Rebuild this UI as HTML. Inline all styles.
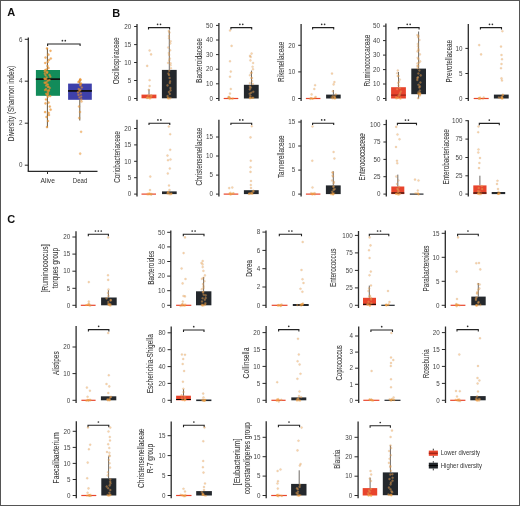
<!DOCTYPE html><html><head><meta charset="utf-8"><style>html,body{margin:0;padding:0;background:#fff}svg{display:block;will-change:transform}text{font-family:"Liberation Sans",sans-serif}</style></head><body>
<svg width="520" height="506" viewBox="0 0 520 506">
<rect x="0" y="0" width="520" height="506" fill="#fff"/>
<text x="7.3" y="16.3" font-size="11" text-anchor="start" fill="#111" font-weight="bold">A</text>
<text x="112.3" y="16.7" font-size="11" text-anchor="start" fill="#111" font-weight="bold">B</text>
<text x="7.3" y="222.6" font-size="11" text-anchor="start" fill="#111" font-weight="bold">C</text>
<line x1="28.3" y1="37.5" x2="28.3" y2="171.3" stroke="#2a2a2a" stroke-width="1.3"/>
<line x1="24.8" y1="39.3" x2="28.3" y2="39.3" stroke="#2a2a2a" stroke-width="1"/>
<text x="22.5" y="41.5" font-size="6.3" text-anchor="end" fill="#444" font-weight="normal" textLength="3.5" lengthAdjust="spacingAndGlyphs">6</text>
<line x1="24.8" y1="81.2" x2="28.3" y2="81.2" stroke="#2a2a2a" stroke-width="1"/>
<text x="22.5" y="83.4" font-size="6.3" text-anchor="end" fill="#444" font-weight="normal" textLength="3.5" lengthAdjust="spacingAndGlyphs">4</text>
<line x1="24.8" y1="123.2" x2="28.3" y2="123.2" stroke="#2a2a2a" stroke-width="1"/>
<text x="22.5" y="125.4" font-size="6.3" text-anchor="end" fill="#444" font-weight="normal" textLength="3.5" lengthAdjust="spacingAndGlyphs">2</text>
<line x1="24.8" y1="165.2" x2="28.3" y2="165.2" stroke="#2a2a2a" stroke-width="1"/>
<text x="22.5" y="167.39999999999998" font-size="6.3" text-anchor="end" fill="#444" font-weight="normal" textLength="3.5" lengthAdjust="spacingAndGlyphs">0</text>
<line x1="27.7" y1="171.3" x2="97.5" y2="171.3" stroke="#2a2a2a" stroke-width="1.2"/>
<line x1="47.5" y1="171.3" x2="47.5" y2="174" stroke="#2a2a2a" stroke-width="1"/>
<line x1="80" y1="171.3" x2="80" y2="174" stroke="#2a2a2a" stroke-width="1"/>
<text x="47.7" y="182.5" font-size="6.6" text-anchor="middle" fill="#333" font-weight="normal" textLength="14.5" lengthAdjust="spacingAndGlyphs">Alive</text>
<text x="80" y="182.5" font-size="6.6" text-anchor="middle" fill="#333" font-weight="normal" textLength="14.5" lengthAdjust="spacingAndGlyphs">Dead</text>
<text x="13.6" y="103.6" font-size="8.4" text-anchor="middle" fill="#3a3a3a" stroke="#3a3a3a" stroke-width="0.08" textLength="75.5" lengthAdjust="spacingAndGlyphs" transform="rotate(-90 13.6 103.6)">Diversity (Shannon index)</text>
<line x1="47.4" y1="48.1" x2="47.4" y2="70" stroke="#6a5a40" stroke-width="1"/>
<line x1="47.4" y1="95.8" x2="47.4" y2="127.4" stroke="#6a5a40" stroke-width="1"/>
<rect x="35.9" y="70" width="24.1" height="25.799999999999997" fill="#128b5a"/>
<line x1="35.9" y1="79.2" x2="60" y2="79.2" stroke="#000" stroke-width="1"/>
<line x1="79.8" y1="79" x2="79.8" y2="83.6" stroke="#6a5a40" stroke-width="1"/>
<line x1="79.8" y1="99.8" x2="79.8" y2="120.5" stroke="#6a5a40" stroke-width="1"/>
<rect x="68.1" y="83.6" width="23.700000000000003" height="16.200000000000003" fill="#3e40aa"/>
<line x1="68.1" y1="90.9" x2="91.8" y2="90.9" stroke="#000" stroke-width="1"/>
<line x1="35.9" y1="79.2" x2="60" y2="79.2" stroke="#111" stroke-width="1.5"/>
<line x1="68.1" y1="90.9" x2="91.8" y2="90.9" stroke="#111" stroke-width="1.5"/>
<path d="M47.6 46V44H80.1V46" fill="none" stroke="#222" stroke-width="1.1"/>
<circle cx="62.40" cy="40.70" r="0.85" fill="#333"/>
<circle cx="65.30" cy="40.70" r="0.85" fill="#333"/>
<rect x="0.5" y="0.5" width="519" height="505" fill="none" stroke="#555" stroke-width="1"/>
<line x1="137.0" y1="24.0" x2="137.0" y2="101.0" stroke="#2a2a2a" stroke-width="1.3"/>
<line x1="134.1" y1="26.5" x2="137.0" y2="26.5" stroke="#2a2a2a" stroke-width="1"/>
<text x="131.2" y="28.7" font-size="6.3" text-anchor="end" fill="#444" font-weight="normal" textLength="7.0" lengthAdjust="spacingAndGlyphs">20</text>
<line x1="134.1" y1="44.6" x2="137.0" y2="44.6" stroke="#2a2a2a" stroke-width="1"/>
<text x="131.2" y="46.800000000000004" font-size="6.3" text-anchor="end" fill="#444" font-weight="normal" textLength="7.0" lengthAdjust="spacingAndGlyphs">15</text>
<line x1="134.1" y1="62.5" x2="137.0" y2="62.5" stroke="#2a2a2a" stroke-width="1"/>
<text x="131.2" y="64.7" font-size="6.3" text-anchor="end" fill="#444" font-weight="normal" textLength="7.0" lengthAdjust="spacingAndGlyphs">10</text>
<line x1="134.1" y1="80.5" x2="137.0" y2="80.5" stroke="#2a2a2a" stroke-width="1"/>
<text x="131.2" y="82.7" font-size="6.3" text-anchor="end" fill="#444" font-weight="normal" textLength="3.5" lengthAdjust="spacingAndGlyphs">5</text>
<line x1="134.1" y1="98.5" x2="137.0" y2="98.5" stroke="#2a2a2a" stroke-width="1"/>
<text x="131.2" y="100.7" font-size="6.3" text-anchor="end" fill="#444" font-weight="normal" textLength="3.5" lengthAdjust="spacingAndGlyphs">0</text>
<text x="119.1" y="60.8" font-size="8.4" text-anchor="middle" fill="#3a3a3a" stroke="#3a3a3a" stroke-width="0.08" textLength="47.0" lengthAdjust="spacingAndGlyphs" transform="rotate(-90 119.1 60.8)">Oscillospiraceae</text>
<line x1="149" y1="89.4" x2="149" y2="94.6" stroke="#6e6a66" stroke-width="1"/>
<rect x="141.5" y="94.6" width="14.900000000000006" height="3.700000000000003" fill="#e8442c"/>
<line x1="169.3" y1="30.4" x2="169.3" y2="69.9" stroke="#6e6a66" stroke-width="1"/>
<rect x="161.9" y="69.9" width="14.799999999999983" height="28.39999999999999" fill="#24282d"/>
<path d="M148.5 29.5V27.6H169.6V29.5" fill="none" stroke="#222" stroke-width="1.1"/>
<circle cx="157.60" cy="24.30" r="0.85" fill="#333"/>
<circle cx="160.50" cy="24.30" r="0.85" fill="#333"/>
<line x1="218.9" y1="23.0" x2="218.9" y2="101.0" stroke="#2a2a2a" stroke-width="1.3"/>
<line x1="216.0" y1="25.4" x2="218.9" y2="25.4" stroke="#2a2a2a" stroke-width="1"/>
<text x="213.1" y="27.599999999999998" font-size="6.3" text-anchor="end" fill="#444" font-weight="normal" textLength="7.0" lengthAdjust="spacingAndGlyphs">50</text>
<line x1="216.0" y1="40.0" x2="218.9" y2="40.0" stroke="#2a2a2a" stroke-width="1"/>
<text x="213.1" y="42.2" font-size="6.3" text-anchor="end" fill="#444" font-weight="normal" textLength="7.0" lengthAdjust="spacingAndGlyphs">40</text>
<line x1="216.0" y1="54.6" x2="218.9" y2="54.6" stroke="#2a2a2a" stroke-width="1"/>
<text x="213.1" y="56.800000000000004" font-size="6.3" text-anchor="end" fill="#444" font-weight="normal" textLength="7.0" lengthAdjust="spacingAndGlyphs">30</text>
<line x1="216.0" y1="69.2" x2="218.9" y2="69.2" stroke="#2a2a2a" stroke-width="1"/>
<text x="213.1" y="71.4" font-size="6.3" text-anchor="end" fill="#444" font-weight="normal" textLength="7.0" lengthAdjust="spacingAndGlyphs">20</text>
<line x1="216.0" y1="83.8" x2="218.9" y2="83.8" stroke="#2a2a2a" stroke-width="1"/>
<text x="213.1" y="86.0" font-size="6.3" text-anchor="end" fill="#444" font-weight="normal" textLength="7.0" lengthAdjust="spacingAndGlyphs">10</text>
<line x1="216.0" y1="98.5" x2="218.9" y2="98.5" stroke="#2a2a2a" stroke-width="1"/>
<text x="213.1" y="100.7" font-size="6.3" text-anchor="end" fill="#444" font-weight="normal" textLength="3.5" lengthAdjust="spacingAndGlyphs">0</text>
<text x="201.6" y="60.6" font-size="8.4" text-anchor="middle" fill="#3a3a3a" stroke="#3a3a3a" stroke-width="0.08" textLength="44.6" lengthAdjust="spacingAndGlyphs" transform="rotate(-90 201.6 60.6)">Bacteroidaceae</text>
<line x1="223.7" y1="98.5" x2="238.3" y2="98.5" stroke="#e8442c" stroke-width="1.2"/>
<line x1="251.5" y1="70.6" x2="251.5" y2="84.8" stroke="#6e6a66" stroke-width="1"/>
<rect x="243.9" y="84.8" width="14.799999999999983" height="13.700000000000003" fill="#24282d"/>
<path d="M230.9 29.5V27.6H251.7V29.5" fill="none" stroke="#222" stroke-width="1.1"/>
<circle cx="239.85" cy="24.30" r="0.85" fill="#333"/>
<circle cx="242.75" cy="24.30" r="0.85" fill="#333"/>
<line x1="301.1" y1="24.0" x2="301.1" y2="101.0" stroke="#2a2a2a" stroke-width="1.3"/>
<line x1="298.20000000000005" y1="45.3" x2="301.1" y2="45.3" stroke="#2a2a2a" stroke-width="1"/>
<text x="295.3" y="47.5" font-size="6.3" text-anchor="end" fill="#444" font-weight="normal" textLength="7.0" lengthAdjust="spacingAndGlyphs">20</text>
<line x1="298.20000000000005" y1="71.9" x2="301.1" y2="71.9" stroke="#2a2a2a" stroke-width="1"/>
<text x="295.3" y="74.10000000000001" font-size="6.3" text-anchor="end" fill="#444" font-weight="normal" textLength="7.0" lengthAdjust="spacingAndGlyphs">10</text>
<line x1="298.20000000000005" y1="98.5" x2="301.1" y2="98.5" stroke="#2a2a2a" stroke-width="1"/>
<text x="295.3" y="100.7" font-size="6.3" text-anchor="end" fill="#444" font-weight="normal" textLength="3.5" lengthAdjust="spacingAndGlyphs">0</text>
<text x="283.6" y="61.75" font-size="8.4" text-anchor="middle" fill="#3a3a3a" stroke="#3a3a3a" stroke-width="0.08" textLength="40.3" lengthAdjust="spacingAndGlyphs" transform="rotate(-90 283.6 61.75)">Rikenellaceae</text>
<line x1="305.9" y1="98.5" x2="320.4" y2="98.5" stroke="#e8442c" stroke-width="1.2"/>
<line x1="333.4" y1="90" x2="333.4" y2="94.6" stroke="#6e6a66" stroke-width="1"/>
<rect x="326.1" y="94.6" width="14.599999999999966" height="3.9000000000000057" fill="#24282d"/>
<path d="M312.6 29.5V27.6H333.7V29.5" fill="none" stroke="#222" stroke-width="1.1"/>
<circle cx="321.70" cy="24.30" r="0.85" fill="#333"/>
<circle cx="324.60" cy="24.30" r="0.85" fill="#333"/>
<line x1="385.9" y1="23.5" x2="385.9" y2="101.0" stroke="#2a2a2a" stroke-width="1.3"/>
<line x1="383.0" y1="26.1" x2="385.9" y2="26.1" stroke="#2a2a2a" stroke-width="1"/>
<text x="380.09999999999997" y="28.3" font-size="6.3" text-anchor="end" fill="#444" font-weight="normal" textLength="7.0" lengthAdjust="spacingAndGlyphs">50</text>
<line x1="383.0" y1="40.6" x2="385.9" y2="40.6" stroke="#2a2a2a" stroke-width="1"/>
<text x="380.09999999999997" y="42.800000000000004" font-size="6.3" text-anchor="end" fill="#444" font-weight="normal" textLength="7.0" lengthAdjust="spacingAndGlyphs">40</text>
<line x1="383.0" y1="55.1" x2="385.9" y2="55.1" stroke="#2a2a2a" stroke-width="1"/>
<text x="380.09999999999997" y="57.300000000000004" font-size="6.3" text-anchor="end" fill="#444" font-weight="normal" textLength="7.0" lengthAdjust="spacingAndGlyphs">30</text>
<line x1="383.0" y1="69.6" x2="385.9" y2="69.6" stroke="#2a2a2a" stroke-width="1"/>
<text x="380.09999999999997" y="71.8" font-size="6.3" text-anchor="end" fill="#444" font-weight="normal" textLength="7.0" lengthAdjust="spacingAndGlyphs">20</text>
<line x1="383.0" y1="84.0" x2="385.9" y2="84.0" stroke="#2a2a2a" stroke-width="1"/>
<text x="380.09999999999997" y="86.2" font-size="6.3" text-anchor="end" fill="#444" font-weight="normal" textLength="7.0" lengthAdjust="spacingAndGlyphs">10</text>
<line x1="383.0" y1="98.5" x2="385.9" y2="98.5" stroke="#2a2a2a" stroke-width="1"/>
<text x="380.09999999999997" y="100.7" font-size="6.3" text-anchor="end" fill="#444" font-weight="normal" textLength="3.5" lengthAdjust="spacingAndGlyphs">0</text>
<text x="369.6" y="60.6" font-size="8.4" text-anchor="middle" fill="#3a3a3a" stroke="#3a3a3a" stroke-width="0.08" textLength="52.0" lengthAdjust="spacingAndGlyphs" transform="rotate(-90 369.6 60.6)">Ruminococcaceae</text>
<line x1="398.5" y1="72" x2="398.5" y2="87.2" stroke="#6e6a66" stroke-width="1"/>
<rect x="391.1" y="87.2" width="14.799999999999955" height="11.299999999999997" fill="#e8442c"/>
<line x1="391.1" y1="95.1" x2="405.9" y2="95.1" stroke="#8a1a10" stroke-width="1"/>
<line x1="418.6" y1="31.5" x2="418.6" y2="68.6" stroke="#6e6a66" stroke-width="1"/>
<line x1="418.6" y1="94.2" x2="418.6" y2="98.5" stroke="#6e6a66" stroke-width="1"/>
<rect x="411.3" y="68.6" width="14.699999999999989" height="25.60000000000001" fill="#24282d"/>
<path d="M398.3 29.5V27.6H419.1V29.5" fill="none" stroke="#222" stroke-width="1.1"/>
<circle cx="407.25" cy="24.30" r="0.85" fill="#333"/>
<circle cx="410.15" cy="24.30" r="0.85" fill="#333"/>
<line x1="468.3" y1="24.0" x2="468.3" y2="101.0" stroke="#2a2a2a" stroke-width="1.3"/>
<line x1="465.40000000000003" y1="48.4" x2="468.3" y2="48.4" stroke="#2a2a2a" stroke-width="1"/>
<text x="462.5" y="50.6" font-size="6.3" text-anchor="end" fill="#444" font-weight="normal" textLength="7.0" lengthAdjust="spacingAndGlyphs">10</text>
<line x1="465.40000000000003" y1="73.5" x2="468.3" y2="73.5" stroke="#2a2a2a" stroke-width="1"/>
<text x="462.5" y="75.7" font-size="6.3" text-anchor="end" fill="#444" font-weight="normal" textLength="3.5" lengthAdjust="spacingAndGlyphs">5</text>
<line x1="465.40000000000003" y1="98.5" x2="468.3" y2="98.5" stroke="#2a2a2a" stroke-width="1"/>
<text x="462.5" y="100.7" font-size="6.3" text-anchor="end" fill="#444" font-weight="normal" textLength="3.5" lengthAdjust="spacingAndGlyphs">0</text>
<text x="451.9" y="61.1" font-size="8.4" text-anchor="middle" fill="#3a3a3a" stroke="#3a3a3a" stroke-width="0.08" textLength="42.58" lengthAdjust="spacingAndGlyphs" transform="rotate(-90 451.9 61.1)">Prevotellaceae</text>
<line x1="473.7" y1="98.5" x2="488.7" y2="98.5" stroke="#e8442c" stroke-width="1.2"/>
<rect x="493.9" y="94.6" width="14.800000000000011" height="3.9000000000000057" fill="#24282d"/>
<path d="M480.4 29.5V27.6H501.5V29.5" fill="none" stroke="#222" stroke-width="1.1"/>
<circle cx="489.50" cy="24.30" r="0.85" fill="#333"/>
<circle cx="492.40" cy="24.30" r="0.85" fill="#333"/>
<line x1="137.0" y1="119.8" x2="137.0" y2="196.6" stroke="#2a2a2a" stroke-width="1.3"/>
<line x1="134.1" y1="128.5" x2="137.0" y2="128.5" stroke="#2a2a2a" stroke-width="1"/>
<text x="131.2" y="130.7" font-size="6.3" text-anchor="end" fill="#444" font-weight="normal" textLength="7.0" lengthAdjust="spacingAndGlyphs">20</text>
<line x1="134.1" y1="144.9" x2="137.0" y2="144.9" stroke="#2a2a2a" stroke-width="1"/>
<text x="131.2" y="147.1" font-size="6.3" text-anchor="end" fill="#444" font-weight="normal" textLength="7.0" lengthAdjust="spacingAndGlyphs">15</text>
<line x1="134.1" y1="161.3" x2="137.0" y2="161.3" stroke="#2a2a2a" stroke-width="1"/>
<text x="131.2" y="163.5" font-size="6.3" text-anchor="end" fill="#444" font-weight="normal" textLength="7.0" lengthAdjust="spacingAndGlyphs">10</text>
<line x1="134.1" y1="177.7" x2="137.0" y2="177.7" stroke="#2a2a2a" stroke-width="1"/>
<text x="131.2" y="179.89999999999998" font-size="6.3" text-anchor="end" fill="#444" font-weight="normal" textLength="3.5" lengthAdjust="spacingAndGlyphs">5</text>
<line x1="134.1" y1="194.1" x2="137.0" y2="194.1" stroke="#2a2a2a" stroke-width="1"/>
<text x="131.2" y="196.29999999999998" font-size="6.3" text-anchor="end" fill="#444" font-weight="normal" textLength="3.5" lengthAdjust="spacingAndGlyphs">0</text>
<text x="119.9" y="157.0" font-size="8.4" text-anchor="middle" fill="#3a3a3a" stroke="#3a3a3a" stroke-width="0.08" textLength="51.7" lengthAdjust="spacingAndGlyphs" transform="rotate(-90 119.9 157.0)">Coriobacteriaceae</text>
<line x1="141.5" y1="194.1" x2="156.0" y2="194.1" stroke="#e8442c" stroke-width="1.2"/>
<rect x="162.0" y="191.4" width="14.699999999999989" height="2.6999999999999886" fill="#24282d"/>
<path d="M149.0 125.10000000000001V123.2H169.8V125.10000000000001" fill="none" stroke="#222" stroke-width="1.1"/>
<circle cx="157.95" cy="119.90" r="0.85" fill="#333"/>
<circle cx="160.85" cy="119.90" r="0.85" fill="#333"/>
<line x1="218.9" y1="119.8" x2="218.9" y2="196.6" stroke="#2a2a2a" stroke-width="1.3"/>
<line x1="216.0" y1="137.0" x2="218.9" y2="137.0" stroke="#2a2a2a" stroke-width="1"/>
<text x="213.1" y="139.2" font-size="6.3" text-anchor="end" fill="#444" font-weight="normal" textLength="7.0" lengthAdjust="spacingAndGlyphs">15</text>
<line x1="216.0" y1="156.0" x2="218.9" y2="156.0" stroke="#2a2a2a" stroke-width="1"/>
<text x="213.1" y="158.2" font-size="6.3" text-anchor="end" fill="#444" font-weight="normal" textLength="7.0" lengthAdjust="spacingAndGlyphs">10</text>
<line x1="216.0" y1="175.1" x2="218.9" y2="175.1" stroke="#2a2a2a" stroke-width="1"/>
<text x="213.1" y="177.29999999999998" font-size="6.3" text-anchor="end" fill="#444" font-weight="normal" textLength="3.5" lengthAdjust="spacingAndGlyphs">5</text>
<line x1="216.0" y1="194.1" x2="218.9" y2="194.1" stroke="#2a2a2a" stroke-width="1"/>
<text x="213.1" y="196.29999999999998" font-size="6.3" text-anchor="end" fill="#444" font-weight="normal" textLength="3.5" lengthAdjust="spacingAndGlyphs">0</text>
<text x="202.5" y="156.6" font-size="8.4" text-anchor="middle" fill="#3a3a3a" stroke="#3a3a3a" stroke-width="0.08" textLength="57.9" lengthAdjust="spacingAndGlyphs" transform="rotate(-90 202.5 156.6)">Christensenellaceae</text>
<line x1="223.7" y1="194.1" x2="238.3" y2="194.1" stroke="#e8442c" stroke-width="1.2"/>
<rect x="243.9" y="190.2" width="14.799999999999983" height="3.9000000000000057" fill="#24282d"/>
<path d="M230.9 125.10000000000001V123.2H251.7V125.10000000000001" fill="none" stroke="#222" stroke-width="1.1"/>
<circle cx="239.85" cy="119.90" r="0.85" fill="#333"/>
<circle cx="242.75" cy="119.90" r="0.85" fill="#333"/>
<line x1="301.1" y1="119.8" x2="301.1" y2="196.6" stroke="#2a2a2a" stroke-width="1.3"/>
<line x1="298.20000000000005" y1="122.0" x2="301.1" y2="122.0" stroke="#2a2a2a" stroke-width="1"/>
<text x="295.3" y="124.2" font-size="6.3" text-anchor="end" fill="#444" font-weight="normal" textLength="7.0" lengthAdjust="spacingAndGlyphs">15</text>
<line x1="298.20000000000005" y1="146.0" x2="301.1" y2="146.0" stroke="#2a2a2a" stroke-width="1"/>
<text x="295.3" y="148.2" font-size="6.3" text-anchor="end" fill="#444" font-weight="normal" textLength="7.0" lengthAdjust="spacingAndGlyphs">10</text>
<line x1="298.20000000000005" y1="170.1" x2="301.1" y2="170.1" stroke="#2a2a2a" stroke-width="1"/>
<text x="295.3" y="172.29999999999998" font-size="6.3" text-anchor="end" fill="#444" font-weight="normal" textLength="3.5" lengthAdjust="spacingAndGlyphs">5</text>
<line x1="298.20000000000005" y1="194.1" x2="301.1" y2="194.1" stroke="#2a2a2a" stroke-width="1"/>
<text x="295.3" y="196.29999999999998" font-size="6.3" text-anchor="end" fill="#444" font-weight="normal" textLength="3.5" lengthAdjust="spacingAndGlyphs">0</text>
<text x="284.1" y="156.8" font-size="8.4" text-anchor="middle" fill="#3a3a3a" stroke="#3a3a3a" stroke-width="0.08" textLength="42.62" lengthAdjust="spacingAndGlyphs" transform="rotate(-90 284.1 156.8)">Tannerellaceae</text>
<line x1="305.9" y1="194.1" x2="320.4" y2="194.1" stroke="#e8442c" stroke-width="1.2"/>
<line x1="333.3" y1="171.3" x2="333.3" y2="185.4" stroke="#6e6a66" stroke-width="1"/>
<rect x="325.9" y="185.4" width="14.800000000000011" height="8.699999999999989" fill="#24282d"/>
<path d="M312.6 125.10000000000001V123.2H333.7V125.10000000000001" fill="none" stroke="#222" stroke-width="1.1"/>
<circle cx="321.70" cy="119.90" r="0.85" fill="#333"/>
<circle cx="324.60" cy="119.90" r="0.85" fill="#333"/>
<line x1="386.3" y1="119.8" x2="386.3" y2="196.6" stroke="#2a2a2a" stroke-width="1.3"/>
<line x1="383.40000000000003" y1="124.6" x2="386.3" y2="124.6" stroke="#2a2a2a" stroke-width="1"/>
<text x="380.5" y="126.8" font-size="6.3" text-anchor="end" fill="#444" font-weight="normal" textLength="10.5" lengthAdjust="spacingAndGlyphs">100</text>
<line x1="383.40000000000003" y1="142.0" x2="386.3" y2="142.0" stroke="#2a2a2a" stroke-width="1"/>
<text x="380.5" y="144.2" font-size="6.3" text-anchor="end" fill="#444" font-weight="normal" textLength="7.0" lengthAdjust="spacingAndGlyphs">75</text>
<line x1="383.40000000000003" y1="159.4" x2="386.3" y2="159.4" stroke="#2a2a2a" stroke-width="1"/>
<text x="380.5" y="161.6" font-size="6.3" text-anchor="end" fill="#444" font-weight="normal" textLength="7.0" lengthAdjust="spacingAndGlyphs">50</text>
<line x1="383.40000000000003" y1="176.7" x2="386.3" y2="176.7" stroke="#2a2a2a" stroke-width="1"/>
<text x="380.5" y="178.89999999999998" font-size="6.3" text-anchor="end" fill="#444" font-weight="normal" textLength="7.0" lengthAdjust="spacingAndGlyphs">25</text>
<line x1="383.40000000000003" y1="194.1" x2="386.3" y2="194.1" stroke="#2a2a2a" stroke-width="1"/>
<text x="380.5" y="196.29999999999998" font-size="6.3" text-anchor="end" fill="#444" font-weight="normal" textLength="3.5" lengthAdjust="spacingAndGlyphs">0</text>
<text x="364.6" y="156.95" font-size="8.4" text-anchor="middle" fill="#3a3a3a" stroke="#3a3a3a" stroke-width="0.08" textLength="47.3" lengthAdjust="spacingAndGlyphs" transform="rotate(-90 364.6 156.95)">Enterococcaceae</text>
<line x1="397.8" y1="174.6" x2="397.8" y2="186.5" stroke="#6e6a66" stroke-width="1"/>
<rect x="391.3" y="186.5" width="13.0" height="7.599999999999994" fill="#e8442c"/>
<line x1="391.3" y1="193.0" x2="404.3" y2="193.0" stroke="#000" stroke-width="1"/>
<line x1="409.8" y1="194.1" x2="423.5" y2="194.1" stroke="#24282d" stroke-width="1.2"/>
<path d="M397.4 125.30000000000001V123.4H416.5V125.30000000000001" fill="none" stroke="#222" stroke-width="1.1"/>
<circle cx="405.50" cy="120.10" r="0.85" fill="#333"/>
<circle cx="408.40" cy="120.10" r="0.85" fill="#333"/>
<line x1="468.3" y1="120.2" x2="468.3" y2="196.6" stroke="#2a2a2a" stroke-width="1.3"/>
<line x1="465.40000000000003" y1="120.7" x2="468.3" y2="120.7" stroke="#2a2a2a" stroke-width="1"/>
<text x="462.5" y="122.9" font-size="6.3" text-anchor="end" fill="#444" font-weight="normal" textLength="10.5" lengthAdjust="spacingAndGlyphs">100</text>
<line x1="465.40000000000003" y1="139.1" x2="468.3" y2="139.1" stroke="#2a2a2a" stroke-width="1"/>
<text x="462.5" y="141.29999999999998" font-size="6.3" text-anchor="end" fill="#444" font-weight="normal" textLength="7.0" lengthAdjust="spacingAndGlyphs">75</text>
<line x1="465.40000000000003" y1="157.5" x2="468.3" y2="157.5" stroke="#2a2a2a" stroke-width="1"/>
<text x="462.5" y="159.7" font-size="6.3" text-anchor="end" fill="#444" font-weight="normal" textLength="7.0" lengthAdjust="spacingAndGlyphs">50</text>
<line x1="465.40000000000003" y1="175.8" x2="468.3" y2="175.8" stroke="#2a2a2a" stroke-width="1"/>
<text x="462.5" y="178.0" font-size="6.3" text-anchor="end" fill="#444" font-weight="normal" textLength="7.0" lengthAdjust="spacingAndGlyphs">25</text>
<line x1="465.40000000000003" y1="194.1" x2="468.3" y2="194.1" stroke="#2a2a2a" stroke-width="1"/>
<text x="462.5" y="196.29999999999998" font-size="6.3" text-anchor="end" fill="#444" font-weight="normal" textLength="3.5" lengthAdjust="spacingAndGlyphs">0</text>
<text x="449.5" y="156.9" font-size="8.4" text-anchor="middle" fill="#3a3a3a" stroke="#3a3a3a" stroke-width="0.08" textLength="55.4" lengthAdjust="spacingAndGlyphs" transform="rotate(-90 449.5 156.9)">Enterobacteriaceae</text>
<line x1="479.9" y1="175.7" x2="479.9" y2="185.4" stroke="#6e6a66" stroke-width="1"/>
<rect x="473.3" y="185.4" width="13.199999999999989" height="8.699999999999989" fill="#e8442c"/>
<line x1="473.3" y1="193.0" x2="486.5" y2="193.0" stroke="#000" stroke-width="1"/>
<rect x="491.7" y="192.0" width="13.5" height="2.0999999999999943" fill="#24282d"/>
<path d="M479.3 125.30000000000001V123.4H499.3V125.30000000000001" fill="none" stroke="#222" stroke-width="1.1"/>
<circle cx="489.30" cy="120.10" r="0.85" fill="#333"/>
<line x1="76.0" y1="231.3" x2="76.0" y2="308.0" stroke="#2a2a2a" stroke-width="1.3"/>
<line x1="72.4" y1="237.0" x2="76.0" y2="237.0" stroke="#2a2a2a" stroke-width="1"/>
<text x="70.2" y="239.2" font-size="6.3" text-anchor="end" fill="#444" font-weight="normal" textLength="7.0" lengthAdjust="spacingAndGlyphs">20</text>
<line x1="72.4" y1="254.1" x2="76.0" y2="254.1" stroke="#2a2a2a" stroke-width="1"/>
<text x="70.2" y="256.3" font-size="6.3" text-anchor="end" fill="#444" font-weight="normal" textLength="7.0" lengthAdjust="spacingAndGlyphs">15</text>
<line x1="72.4" y1="271.2" x2="76.0" y2="271.2" stroke="#2a2a2a" stroke-width="1"/>
<text x="70.2" y="273.4" font-size="6.3" text-anchor="end" fill="#444" font-weight="normal" textLength="7.0" lengthAdjust="spacingAndGlyphs">10</text>
<line x1="72.4" y1="288.3" x2="76.0" y2="288.3" stroke="#2a2a2a" stroke-width="1"/>
<text x="70.2" y="290.5" font-size="6.3" text-anchor="end" fill="#444" font-weight="normal" textLength="3.5" lengthAdjust="spacingAndGlyphs">5</text>
<line x1="72.4" y1="305.3" x2="76.0" y2="305.3" stroke="#2a2a2a" stroke-width="1"/>
<text x="70.2" y="307.5" font-size="6.3" text-anchor="end" fill="#444" font-weight="normal" textLength="3.5" lengthAdjust="spacingAndGlyphs">0</text>
<text x="48.4" y="268.5" font-size="8.4" text-anchor="middle" fill="#3a3a3a" stroke="#3a3a3a" stroke-width="0.08" textLength="48.01" lengthAdjust="spacingAndGlyphs" transform="rotate(-90 48.4 268.5)">[Ruminococcus]</text>
<text x="57.9" y="268.05" font-size="8.4" text-anchor="middle" fill="#3a3a3a" stroke="#3a3a3a" stroke-width="0.08" textLength="40.41" lengthAdjust="spacingAndGlyphs" transform="rotate(-90 57.9 268.05)">torques group</text>
<line x1="80.8" y1="305.3" x2="95.6" y2="305.3" stroke="#e8442c" stroke-width="1.2"/>
<line x1="108.4" y1="290.2" x2="108.4" y2="297.5" stroke="#6e6a66" stroke-width="1"/>
<rect x="101.1" y="297.5" width="15.600000000000009" height="7.800000000000011" fill="#24282d"/>
<path d="M88.3 236.20000000000002V234.3H108.4V236.20000000000002" fill="none" stroke="#222" stroke-width="1.1"/>
<circle cx="95.45" cy="231.00" r="0.85" fill="#333"/>
<circle cx="98.35" cy="231.00" r="0.85" fill="#333"/>
<circle cx="101.25" cy="231.00" r="0.85" fill="#333"/>
<line x1="170.8" y1="230.6" x2="170.8" y2="308.0" stroke="#2a2a2a" stroke-width="1.3"/>
<line x1="167.20000000000002" y1="232.3" x2="170.8" y2="232.3" stroke="#2a2a2a" stroke-width="1"/>
<text x="165.0" y="234.5" font-size="6.3" text-anchor="end" fill="#444" font-weight="normal" textLength="7.0" lengthAdjust="spacingAndGlyphs">50</text>
<line x1="167.20000000000002" y1="246.9" x2="170.8" y2="246.9" stroke="#2a2a2a" stroke-width="1"/>
<text x="165.0" y="249.1" font-size="6.3" text-anchor="end" fill="#444" font-weight="normal" textLength="7.0" lengthAdjust="spacingAndGlyphs">40</text>
<line x1="167.20000000000002" y1="261.5" x2="170.8" y2="261.5" stroke="#2a2a2a" stroke-width="1"/>
<text x="165.0" y="263.7" font-size="6.3" text-anchor="end" fill="#444" font-weight="normal" textLength="7.0" lengthAdjust="spacingAndGlyphs">30</text>
<line x1="167.20000000000002" y1="276.1" x2="170.8" y2="276.1" stroke="#2a2a2a" stroke-width="1"/>
<text x="165.0" y="278.3" font-size="6.3" text-anchor="end" fill="#444" font-weight="normal" textLength="7.0" lengthAdjust="spacingAndGlyphs">20</text>
<line x1="167.20000000000002" y1="290.7" x2="170.8" y2="290.7" stroke="#2a2a2a" stroke-width="1"/>
<text x="165.0" y="292.9" font-size="6.3" text-anchor="end" fill="#444" font-weight="normal" textLength="7.0" lengthAdjust="spacingAndGlyphs">10</text>
<line x1="167.20000000000002" y1="305.3" x2="170.8" y2="305.3" stroke="#2a2a2a" stroke-width="1"/>
<text x="165.0" y="307.5" font-size="6.3" text-anchor="end" fill="#444" font-weight="normal" textLength="3.5" lengthAdjust="spacingAndGlyphs">0</text>
<text x="153.9" y="267.8" font-size="8.4" text-anchor="middle" fill="#3a3a3a" stroke="#3a3a3a" stroke-width="0.08" textLength="34.01" lengthAdjust="spacingAndGlyphs" transform="rotate(-90 153.9 267.8)">Bacteroides</text>
<line x1="176.1" y1="305.3" x2="191.3" y2="305.3" stroke="#e8442c" stroke-width="1.2"/>
<line x1="203.6" y1="277.1" x2="203.6" y2="291.3" stroke="#6e6a66" stroke-width="1"/>
<rect x="196.0" y="291.3" width="15.400000000000006" height="14.0" fill="#24282d"/>
<path d="M183.3 236.20000000000002V234.3H204.0V236.20000000000002" fill="none" stroke="#222" stroke-width="1.1"/>
<circle cx="192.20" cy="231.00" r="0.85" fill="#333"/>
<circle cx="195.10" cy="231.00" r="0.85" fill="#333"/>
<line x1="266.0" y1="230.6" x2="266.0" y2="308.0" stroke="#2a2a2a" stroke-width="1.3"/>
<line x1="262.4" y1="232.1" x2="266.0" y2="232.1" stroke="#2a2a2a" stroke-width="1"/>
<text x="260.2" y="234.29999999999998" font-size="6.3" text-anchor="end" fill="#444" font-weight="normal" textLength="3.5" lengthAdjust="spacingAndGlyphs">8</text>
<line x1="262.4" y1="250.4" x2="266.0" y2="250.4" stroke="#2a2a2a" stroke-width="1"/>
<text x="260.2" y="252.6" font-size="6.3" text-anchor="end" fill="#444" font-weight="normal" textLength="3.5" lengthAdjust="spacingAndGlyphs">6</text>
<line x1="262.4" y1="268.7" x2="266.0" y2="268.7" stroke="#2a2a2a" stroke-width="1"/>
<text x="260.2" y="270.9" font-size="6.3" text-anchor="end" fill="#444" font-weight="normal" textLength="3.5" lengthAdjust="spacingAndGlyphs">4</text>
<line x1="262.4" y1="287.0" x2="266.0" y2="287.0" stroke="#2a2a2a" stroke-width="1"/>
<text x="260.2" y="289.2" font-size="6.3" text-anchor="end" fill="#444" font-weight="normal" textLength="3.5" lengthAdjust="spacingAndGlyphs">2</text>
<line x1="262.4" y1="305.3" x2="266.0" y2="305.3" stroke="#2a2a2a" stroke-width="1"/>
<text x="260.2" y="307.5" font-size="6.3" text-anchor="end" fill="#444" font-weight="normal" textLength="3.5" lengthAdjust="spacingAndGlyphs">0</text>
<text x="252.2" y="268.45" font-size="8.4" text-anchor="middle" fill="#3a3a3a" stroke="#3a3a3a" stroke-width="0.08" textLength="16.7" lengthAdjust="spacingAndGlyphs" transform="rotate(-90 252.2 268.45)">Dorea</text>
<line x1="271.7" y1="305.3" x2="287.5" y2="305.3" stroke="#e8442c" stroke-width="1.2"/>
<line x1="292.8" y1="305.0" x2="308.7" y2="305.0" stroke="#24282d" stroke-width="2.0"/>
<path d="M279.3 236.20000000000002V234.3H301.5V236.20000000000002" fill="none" stroke="#222" stroke-width="1.1"/>
<circle cx="288.95" cy="231.00" r="0.85" fill="#333"/>
<circle cx="291.85" cy="231.00" r="0.85" fill="#333"/>
<line x1="358.5" y1="231.0" x2="358.5" y2="308.0" stroke="#2a2a2a" stroke-width="1.3"/>
<line x1="354.9" y1="235.4" x2="358.5" y2="235.4" stroke="#2a2a2a" stroke-width="1"/>
<text x="352.7" y="237.6" font-size="6.3" text-anchor="end" fill="#444" font-weight="normal" textLength="10.5" lengthAdjust="spacingAndGlyphs">100</text>
<line x1="354.9" y1="252.9" x2="358.5" y2="252.9" stroke="#2a2a2a" stroke-width="1"/>
<text x="352.7" y="255.1" font-size="6.3" text-anchor="end" fill="#444" font-weight="normal" textLength="7.0" lengthAdjust="spacingAndGlyphs">75</text>
<line x1="354.9" y1="270.4" x2="358.5" y2="270.4" stroke="#2a2a2a" stroke-width="1"/>
<text x="352.7" y="272.59999999999997" font-size="6.3" text-anchor="end" fill="#444" font-weight="normal" textLength="7.0" lengthAdjust="spacingAndGlyphs">50</text>
<line x1="354.9" y1="287.9" x2="358.5" y2="287.9" stroke="#2a2a2a" stroke-width="1"/>
<text x="352.7" y="290.09999999999997" font-size="6.3" text-anchor="end" fill="#444" font-weight="normal" textLength="7.0" lengthAdjust="spacingAndGlyphs">25</text>
<line x1="354.9" y1="305.3" x2="358.5" y2="305.3" stroke="#2a2a2a" stroke-width="1"/>
<text x="352.7" y="307.5" font-size="6.3" text-anchor="end" fill="#444" font-weight="normal" textLength="3.5" lengthAdjust="spacingAndGlyphs">0</text>
<text x="336.4" y="267.8" font-size="8.4" text-anchor="middle" fill="#3a3a3a" stroke="#3a3a3a" stroke-width="0.08" textLength="38.44" lengthAdjust="spacingAndGlyphs" transform="rotate(-90 336.4 267.8)">Enterococcus</text>
<line x1="369.3" y1="285.6" x2="369.3" y2="297.8" stroke="#6e6a66" stroke-width="1"/>
<rect x="363.0" y="297.8" width="13.0" height="7.5" fill="#e8442c"/>
<line x1="363.0" y1="304.3" x2="376.0" y2="304.3" stroke="#000" stroke-width="1"/>
<line x1="381.3" y1="305.3" x2="394.7" y2="305.3" stroke="#24282d" stroke-width="1.2"/>
<path d="M369.3 236.20000000000002V234.3H388.8V236.20000000000002" fill="none" stroke="#222" stroke-width="1.1"/>
<circle cx="377.60" cy="231.00" r="0.85" fill="#333"/>
<circle cx="380.50" cy="231.00" r="0.85" fill="#333"/>
<line x1="445.3" y1="230.6" x2="445.3" y2="308.0" stroke="#2a2a2a" stroke-width="1.3"/>
<line x1="441.7" y1="233.3" x2="445.3" y2="233.3" stroke="#2a2a2a" stroke-width="1"/>
<text x="439.5" y="235.5" font-size="6.3" text-anchor="end" fill="#444" font-weight="normal" textLength="7.0" lengthAdjust="spacingAndGlyphs">15</text>
<line x1="441.7" y1="257.3" x2="445.3" y2="257.3" stroke="#2a2a2a" stroke-width="1"/>
<text x="439.5" y="259.5" font-size="6.3" text-anchor="end" fill="#444" font-weight="normal" textLength="7.0" lengthAdjust="spacingAndGlyphs">10</text>
<line x1="441.7" y1="281.3" x2="445.3" y2="281.3" stroke="#2a2a2a" stroke-width="1"/>
<text x="439.5" y="283.5" font-size="6.3" text-anchor="end" fill="#444" font-weight="normal" textLength="3.5" lengthAdjust="spacingAndGlyphs">5</text>
<line x1="441.7" y1="305.3" x2="445.3" y2="305.3" stroke="#2a2a2a" stroke-width="1"/>
<text x="439.5" y="307.5" font-size="6.3" text-anchor="end" fill="#444" font-weight="normal" textLength="3.5" lengthAdjust="spacingAndGlyphs">0</text>
<text x="429.0" y="268.5" font-size="8.4" text-anchor="middle" fill="#3a3a3a" stroke="#3a3a3a" stroke-width="0.08" textLength="45.9" lengthAdjust="spacingAndGlyphs" transform="rotate(-90 429.0 268.5)">Parabacteroides</text>
<line x1="450.6" y1="305.3" x2="465.4" y2="305.3" stroke="#e8442c" stroke-width="1.2"/>
<line x1="478.3" y1="283.0" x2="478.3" y2="296.6" stroke="#6e6a66" stroke-width="1"/>
<rect x="471.3" y="296.6" width="14.399999999999977" height="8.699999999999989" fill="#24282d"/>
<path d="M457.6 236.20000000000002V234.3H478.3V236.20000000000002" fill="none" stroke="#222" stroke-width="1.1"/>
<circle cx="467.95" cy="231.00" r="0.85" fill="#333"/>
<line x1="76.1" y1="325.9" x2="76.1" y2="403.0" stroke="#2a2a2a" stroke-width="1.3"/>
<line x1="72.5" y1="347.0" x2="76.1" y2="347.0" stroke="#2a2a2a" stroke-width="1"/>
<text x="70.3" y="349.2" font-size="6.3" text-anchor="end" fill="#444" font-weight="normal" textLength="7.0" lengthAdjust="spacingAndGlyphs">20</text>
<line x1="72.5" y1="373.6" x2="76.1" y2="373.6" stroke="#2a2a2a" stroke-width="1"/>
<text x="70.3" y="375.8" font-size="6.3" text-anchor="end" fill="#444" font-weight="normal" textLength="7.0" lengthAdjust="spacingAndGlyphs">10</text>
<line x1="72.5" y1="400.3" x2="76.1" y2="400.3" stroke="#2a2a2a" stroke-width="1"/>
<text x="70.3" y="402.5" font-size="6.3" text-anchor="end" fill="#444" font-weight="normal" textLength="3.5" lengthAdjust="spacingAndGlyphs">0</text>
<text x="58.8" y="363.25" font-size="8.4" text-anchor="middle" fill="#3a3a3a" stroke="#3a3a3a" stroke-width="0.08" textLength="23.62" lengthAdjust="spacingAndGlyphs" transform="rotate(-90 58.8 363.25)">Alistipes</text>
<line x1="81.4" y1="400.3" x2="95.6" y2="400.3" stroke="#e8442c" stroke-width="1.2"/>
<rect x="100.9" y="396.3" width="15.399999999999991" height="4.0" fill="#24282d"/>
<path d="M88.4 331.5V329.6H108.9V331.5" fill="none" stroke="#222" stroke-width="1.1"/>
<circle cx="98.65" cy="326.30" r="0.85" fill="#333"/>
<line x1="171.2" y1="326.5" x2="171.2" y2="403.0" stroke="#2a2a2a" stroke-width="1.3"/>
<line x1="167.6" y1="332.8" x2="171.2" y2="332.8" stroke="#2a2a2a" stroke-width="1"/>
<text x="165.39999999999998" y="335.0" font-size="6.3" text-anchor="end" fill="#444" font-weight="normal" textLength="7.0" lengthAdjust="spacingAndGlyphs">80</text>
<line x1="167.6" y1="349.7" x2="171.2" y2="349.7" stroke="#2a2a2a" stroke-width="1"/>
<text x="165.39999999999998" y="351.9" font-size="6.3" text-anchor="end" fill="#444" font-weight="normal" textLength="7.0" lengthAdjust="spacingAndGlyphs">60</text>
<line x1="167.6" y1="366.6" x2="171.2" y2="366.6" stroke="#2a2a2a" stroke-width="1"/>
<text x="165.39999999999998" y="368.8" font-size="6.3" text-anchor="end" fill="#444" font-weight="normal" textLength="7.0" lengthAdjust="spacingAndGlyphs">40</text>
<line x1="167.6" y1="383.4" x2="171.2" y2="383.4" stroke="#2a2a2a" stroke-width="1"/>
<text x="165.39999999999998" y="385.59999999999997" font-size="6.3" text-anchor="end" fill="#444" font-weight="normal" textLength="7.0" lengthAdjust="spacingAndGlyphs">20</text>
<line x1="167.6" y1="400.3" x2="171.2" y2="400.3" stroke="#2a2a2a" stroke-width="1"/>
<text x="165.39999999999998" y="402.5" font-size="6.3" text-anchor="end" fill="#444" font-weight="normal" textLength="3.5" lengthAdjust="spacingAndGlyphs">0</text>
<text x="153.4" y="363.75" font-size="8.4" text-anchor="middle" fill="#3a3a3a" stroke="#3a3a3a" stroke-width="0.08" textLength="59.2" lengthAdjust="spacingAndGlyphs" transform="rotate(-90 153.4 363.75)">Escherichia-Shigella</text>
<line x1="183.5" y1="389.3" x2="183.5" y2="395.7" stroke="#6e6a66" stroke-width="1"/>
<rect x="176.1" y="395.7" width="14.800000000000011" height="4.600000000000023" fill="#e8442c"/>
<line x1="176.1" y1="399.5" x2="190.9" y2="399.5" stroke="#000" stroke-width="1"/>
<line x1="196.2" y1="400.3" x2="211.4" y2="400.3" stroke="#24282d" stroke-width="1.6"/>
<path d="M183.5 331.9V330.0H204.0V331.9" fill="none" stroke="#222" stroke-width="1.1"/>
<circle cx="193.75" cy="326.70" r="0.85" fill="#333"/>
<line x1="266.1" y1="325.9" x2="266.1" y2="403.0" stroke="#2a2a2a" stroke-width="1.3"/>
<line x1="262.5" y1="332.6" x2="266.1" y2="332.6" stroke="#2a2a2a" stroke-width="1"/>
<text x="260.3" y="334.8" font-size="6.3" text-anchor="end" fill="#444" font-weight="normal" textLength="7.0" lengthAdjust="spacingAndGlyphs">20</text>
<line x1="262.5" y1="349.5" x2="266.1" y2="349.5" stroke="#2a2a2a" stroke-width="1"/>
<text x="260.3" y="351.7" font-size="6.3" text-anchor="end" fill="#444" font-weight="normal" textLength="7.0" lengthAdjust="spacingAndGlyphs">15</text>
<line x1="262.5" y1="366.4" x2="266.1" y2="366.4" stroke="#2a2a2a" stroke-width="1"/>
<text x="260.3" y="368.59999999999997" font-size="6.3" text-anchor="end" fill="#444" font-weight="normal" textLength="7.0" lengthAdjust="spacingAndGlyphs">10</text>
<line x1="262.5" y1="383.4" x2="266.1" y2="383.4" stroke="#2a2a2a" stroke-width="1"/>
<text x="260.3" y="385.59999999999997" font-size="6.3" text-anchor="end" fill="#444" font-weight="normal" textLength="3.5" lengthAdjust="spacingAndGlyphs">5</text>
<line x1="262.5" y1="400.3" x2="266.1" y2="400.3" stroke="#2a2a2a" stroke-width="1"/>
<text x="260.3" y="402.5" font-size="6.3" text-anchor="end" fill="#444" font-weight="normal" textLength="3.5" lengthAdjust="spacingAndGlyphs">0</text>
<text x="249.2" y="363.05" font-size="8.4" text-anchor="middle" fill="#3a3a3a" stroke="#3a3a3a" stroke-width="0.08" textLength="30.9" lengthAdjust="spacingAndGlyphs" transform="rotate(-90 249.2 363.05)">Collinsella</text>
<line x1="271.4" y1="400.3" x2="285.6" y2="400.3" stroke="#e8442c" stroke-width="1.2"/>
<rect x="291.3" y="397.4" width="15.0" height="2.900000000000034" fill="#24282d"/>
<path d="M278.6 331.5V329.6H298.9V331.5" fill="none" stroke="#222" stroke-width="1.1"/>
<circle cx="288.75" cy="326.30" r="0.85" fill="#333"/>
<line x1="358.7" y1="326.5" x2="358.7" y2="403.0" stroke="#2a2a2a" stroke-width="1.3"/>
<line x1="355.09999999999997" y1="336.0" x2="358.7" y2="336.0" stroke="#2a2a2a" stroke-width="1"/>
<text x="352.9" y="338.2" font-size="6.3" text-anchor="end" fill="#444" font-weight="normal" textLength="3.5" lengthAdjust="spacingAndGlyphs">4</text>
<line x1="355.09999999999997" y1="352.1" x2="358.7" y2="352.1" stroke="#2a2a2a" stroke-width="1"/>
<text x="352.9" y="354.3" font-size="6.3" text-anchor="end" fill="#444" font-weight="normal" textLength="3.5" lengthAdjust="spacingAndGlyphs">3</text>
<line x1="355.09999999999997" y1="368.2" x2="358.7" y2="368.2" stroke="#2a2a2a" stroke-width="1"/>
<text x="352.9" y="370.4" font-size="6.3" text-anchor="end" fill="#444" font-weight="normal" textLength="3.5" lengthAdjust="spacingAndGlyphs">2</text>
<line x1="355.09999999999997" y1="384.3" x2="358.7" y2="384.3" stroke="#2a2a2a" stroke-width="1"/>
<text x="352.9" y="386.5" font-size="6.3" text-anchor="end" fill="#444" font-weight="normal" textLength="3.5" lengthAdjust="spacingAndGlyphs">1</text>
<line x1="355.09999999999997" y1="400.3" x2="358.7" y2="400.3" stroke="#2a2a2a" stroke-width="1"/>
<text x="352.9" y="402.5" font-size="6.3" text-anchor="end" fill="#444" font-weight="normal" textLength="3.5" lengthAdjust="spacingAndGlyphs">0</text>
<text x="342.5" y="362.85" font-size="8.4" text-anchor="middle" fill="#3a3a3a" stroke="#3a3a3a" stroke-width="0.08" textLength="35.3" lengthAdjust="spacingAndGlyphs" transform="rotate(-90 342.5 362.85)">Coprococcus</text>
<line x1="363.3" y1="400.3" x2="379.4" y2="400.3" stroke="#e8442c" stroke-width="1.2"/>
<line x1="384.5" y1="400.3" x2="400.5" y2="400.3" stroke="#24282d" stroke-width="1.2"/>
<path d="M370.9 331.9V330.0H392.5V331.9" fill="none" stroke="#222" stroke-width="1.1"/>
<circle cx="381.70" cy="326.70" r="0.85" fill="#333"/>
<line x1="445.5" y1="326.5" x2="445.5" y2="403.0" stroke="#2a2a2a" stroke-width="1.3"/>
<line x1="441.9" y1="332.6" x2="445.5" y2="332.6" stroke="#2a2a2a" stroke-width="1"/>
<text x="439.7" y="334.8" font-size="6.3" text-anchor="end" fill="#444" font-weight="normal" textLength="7.0" lengthAdjust="spacingAndGlyphs">20</text>
<line x1="441.9" y1="349.5" x2="445.5" y2="349.5" stroke="#2a2a2a" stroke-width="1"/>
<text x="439.7" y="351.7" font-size="6.3" text-anchor="end" fill="#444" font-weight="normal" textLength="7.0" lengthAdjust="spacingAndGlyphs">15</text>
<line x1="441.9" y1="366.4" x2="445.5" y2="366.4" stroke="#2a2a2a" stroke-width="1"/>
<text x="439.7" y="368.59999999999997" font-size="6.3" text-anchor="end" fill="#444" font-weight="normal" textLength="7.0" lengthAdjust="spacingAndGlyphs">10</text>
<line x1="441.9" y1="383.4" x2="445.5" y2="383.4" stroke="#2a2a2a" stroke-width="1"/>
<text x="439.7" y="385.59999999999997" font-size="6.3" text-anchor="end" fill="#444" font-weight="normal" textLength="3.5" lengthAdjust="spacingAndGlyphs">5</text>
<line x1="441.9" y1="400.3" x2="445.5" y2="400.3" stroke="#2a2a2a" stroke-width="1"/>
<text x="439.7" y="402.5" font-size="6.3" text-anchor="end" fill="#444" font-weight="normal" textLength="3.5" lengthAdjust="spacingAndGlyphs">0</text>
<text x="428.6" y="363.75" font-size="8.4" text-anchor="middle" fill="#3a3a3a" stroke="#3a3a3a" stroke-width="0.08" textLength="28.91" lengthAdjust="spacingAndGlyphs" transform="rotate(-90 428.6 363.75)">Roseburia</text>
<line x1="450.2" y1="400.3" x2="465.4" y2="400.3" stroke="#e8442c" stroke-width="1.2"/>
<rect x="470.3" y="396.1" width="15.399999999999977" height="4.199999999999989" fill="#24282d"/>
<path d="M457.0 331.5V329.6H478.3V331.5" fill="none" stroke="#222" stroke-width="1.1"/>
<circle cx="467.65" cy="326.30" r="0.85" fill="#333"/>
<line x1="76.3" y1="421.3" x2="76.3" y2="498.3" stroke="#2a2a2a" stroke-width="1.3"/>
<line x1="72.7" y1="431.3" x2="76.3" y2="431.3" stroke="#2a2a2a" stroke-width="1"/>
<text x="70.5" y="433.5" font-size="6.3" text-anchor="end" fill="#444" font-weight="normal" textLength="7.0" lengthAdjust="spacingAndGlyphs">20</text>
<line x1="72.7" y1="447.4" x2="76.3" y2="447.4" stroke="#2a2a2a" stroke-width="1"/>
<text x="70.5" y="449.59999999999997" font-size="6.3" text-anchor="end" fill="#444" font-weight="normal" textLength="7.0" lengthAdjust="spacingAndGlyphs">15</text>
<line x1="72.7" y1="463.4" x2="76.3" y2="463.4" stroke="#2a2a2a" stroke-width="1"/>
<text x="70.5" y="465.59999999999997" font-size="6.3" text-anchor="end" fill="#444" font-weight="normal" textLength="7.0" lengthAdjust="spacingAndGlyphs">10</text>
<line x1="72.7" y1="479.5" x2="76.3" y2="479.5" stroke="#2a2a2a" stroke-width="1"/>
<text x="70.5" y="481.7" font-size="6.3" text-anchor="end" fill="#444" font-weight="normal" textLength="3.5" lengthAdjust="spacingAndGlyphs">5</text>
<line x1="72.7" y1="495.5" x2="76.3" y2="495.5" stroke="#2a2a2a" stroke-width="1"/>
<text x="70.5" y="497.7" font-size="6.3" text-anchor="end" fill="#444" font-weight="normal" textLength="3.5" lengthAdjust="spacingAndGlyphs">0</text>
<text x="59.5" y="457.95" font-size="8.4" text-anchor="middle" fill="#3a3a3a" stroke="#3a3a3a" stroke-width="0.08" textLength="50.92" lengthAdjust="spacingAndGlyphs" transform="rotate(-90 59.5 457.95)">Faecalibacterium</text>
<line x1="81.3" y1="495.5" x2="96.3" y2="495.5" stroke="#e8442c" stroke-width="1.2"/>
<line x1="108.6" y1="456.3" x2="108.6" y2="478.3" stroke="#6e6a66" stroke-width="1"/>
<rect x="101.3" y="478.3" width="15.0" height="17.19999999999999" fill="#24282d"/>
<path d="M88.0 427.2V425.3H108.8V427.2" fill="none" stroke="#222" stroke-width="1.1"/>
<circle cx="98.40" cy="422.00" r="0.85" fill="#333"/>
<line x1="171.2" y1="421.6" x2="171.2" y2="498.3" stroke="#2a2a2a" stroke-width="1.3"/>
<line x1="167.6" y1="435.7" x2="171.2" y2="435.7" stroke="#2a2a2a" stroke-width="1"/>
<text x="165.39999999999998" y="437.9" font-size="6.3" text-anchor="end" fill="#444" font-weight="normal" textLength="7.0" lengthAdjust="spacingAndGlyphs">15</text>
<line x1="167.6" y1="455.6" x2="171.2" y2="455.6" stroke="#2a2a2a" stroke-width="1"/>
<text x="165.39999999999998" y="457.8" font-size="6.3" text-anchor="end" fill="#444" font-weight="normal" textLength="7.0" lengthAdjust="spacingAndGlyphs">10</text>
<line x1="167.6" y1="475.5" x2="171.2" y2="475.5" stroke="#2a2a2a" stroke-width="1"/>
<text x="165.39999999999998" y="477.7" font-size="6.3" text-anchor="end" fill="#444" font-weight="normal" textLength="3.5" lengthAdjust="spacingAndGlyphs">5</text>
<line x1="167.6" y1="495.5" x2="171.2" y2="495.5" stroke="#2a2a2a" stroke-width="1"/>
<text x="165.39999999999998" y="497.7" font-size="6.3" text-anchor="end" fill="#444" font-weight="normal" textLength="3.5" lengthAdjust="spacingAndGlyphs">0</text>
<text x="144.0" y="458.2" font-size="8.4" text-anchor="middle" fill="#3a3a3a" stroke="#3a3a3a" stroke-width="0.08" textLength="59.4" lengthAdjust="spacingAndGlyphs" transform="rotate(-90 144.0 458.2)">Christensenellaceae</text>
<text x="153.0" y="458.55" font-size="8.4" text-anchor="middle" fill="#3a3a3a" stroke="#3a3a3a" stroke-width="0.08" textLength="29.6" lengthAdjust="spacingAndGlyphs" transform="rotate(-90 153.0 458.55)">R-7 group</text>
<line x1="176.1" y1="495.5" x2="191.5" y2="495.5" stroke="#e8442c" stroke-width="1.2"/>
<rect x="196.2" y="491.1" width="15.700000000000017" height="4.399999999999977" fill="#24282d"/>
<path d="M183.5 427.2V425.3H204.2V427.2" fill="none" stroke="#222" stroke-width="1.1"/>
<circle cx="193.85" cy="422.00" r="0.85" fill="#333"/>
<line x1="266.2" y1="421.2" x2="266.2" y2="498.3" stroke="#2a2a2a" stroke-width="1.3"/>
<line x1="262.59999999999997" y1="437.3" x2="266.2" y2="437.3" stroke="#2a2a2a" stroke-width="1"/>
<text x="260.4" y="439.5" font-size="6.3" text-anchor="end" fill="#444" font-weight="normal" textLength="7.0" lengthAdjust="spacingAndGlyphs">15</text>
<line x1="262.59999999999997" y1="456.7" x2="266.2" y2="456.7" stroke="#2a2a2a" stroke-width="1"/>
<text x="260.4" y="458.9" font-size="6.3" text-anchor="end" fill="#444" font-weight="normal" textLength="7.0" lengthAdjust="spacingAndGlyphs">10</text>
<line x1="262.59999999999997" y1="476.1" x2="266.2" y2="476.1" stroke="#2a2a2a" stroke-width="1"/>
<text x="260.4" y="478.3" font-size="6.3" text-anchor="end" fill="#444" font-weight="normal" textLength="3.5" lengthAdjust="spacingAndGlyphs">5</text>
<line x1="262.59999999999997" y1="495.5" x2="266.2" y2="495.5" stroke="#2a2a2a" stroke-width="1"/>
<text x="260.4" y="497.7" font-size="6.3" text-anchor="end" fill="#444" font-weight="normal" textLength="3.5" lengthAdjust="spacingAndGlyphs">0</text>
<text x="239.7" y="461.9" font-size="8.4" text-anchor="middle" fill="#3a3a3a" stroke="#3a3a3a" stroke-width="0.08" textLength="47.02" lengthAdjust="spacingAndGlyphs" transform="rotate(-90 239.7 461.9)">[Eubacterium]</text>
<text x="250.0" y="458.35" font-size="8.4" text-anchor="middle" fill="#3a3a3a" stroke="#3a3a3a" stroke-width="0.08" textLength="71.81" lengthAdjust="spacingAndGlyphs" transform="rotate(-90 250.0 458.35)">coprostanoligenes group</text>
<line x1="271.2" y1="495.5" x2="286.9" y2="495.5" stroke="#e8442c" stroke-width="1.2"/>
<line x1="299.2" y1="470.3" x2="299.2" y2="483.9" stroke="#6e6a66" stroke-width="1"/>
<rect x="291.1" y="483.9" width="15.399999999999977" height="11.600000000000023" fill="#24282d"/>
<path d="M278.4 427.2V425.3H299.6V427.2" fill="none" stroke="#222" stroke-width="1.1"/>
<circle cx="289.00" cy="422.00" r="0.85" fill="#333"/>
<line x1="358.1" y1="421.6" x2="358.1" y2="498.3" stroke="#2a2a2a" stroke-width="1.3"/>
<line x1="354.5" y1="437.3" x2="358.1" y2="437.3" stroke="#2a2a2a" stroke-width="1"/>
<text x="352.3" y="439.5" font-size="6.3" text-anchor="end" fill="#444" font-weight="normal" textLength="7.0" lengthAdjust="spacingAndGlyphs">30</text>
<line x1="354.5" y1="456.8" x2="358.1" y2="456.8" stroke="#2a2a2a" stroke-width="1"/>
<text x="352.3" y="459.0" font-size="6.3" text-anchor="end" fill="#444" font-weight="normal" textLength="7.0" lengthAdjust="spacingAndGlyphs">20</text>
<line x1="354.5" y1="476.2" x2="358.1" y2="476.2" stroke="#2a2a2a" stroke-width="1"/>
<text x="352.3" y="478.4" font-size="6.3" text-anchor="end" fill="#444" font-weight="normal" textLength="7.0" lengthAdjust="spacingAndGlyphs">10</text>
<line x1="354.5" y1="495.5" x2="358.1" y2="495.5" stroke="#2a2a2a" stroke-width="1"/>
<text x="352.3" y="497.7" font-size="6.3" text-anchor="end" fill="#444" font-weight="normal" textLength="3.5" lengthAdjust="spacingAndGlyphs">0</text>
<text x="339.9" y="459.3" font-size="8.4" text-anchor="middle" fill="#3a3a3a" stroke="#3a3a3a" stroke-width="0.08" textLength="19.11" lengthAdjust="spacingAndGlyphs" transform="rotate(-90 339.9 459.3)">Blautia</text>
<line x1="370.1" y1="477.7" x2="370.1" y2="488.1" stroke="#6e6a66" stroke-width="1"/>
<rect x="362.7" y="488.1" width="14.5" height="7.399999999999977" fill="#e8442c"/>
<line x1="390.4" y1="445.4" x2="390.4" y2="472.4" stroke="#6e6a66" stroke-width="1"/>
<rect x="382.8" y="472.4" width="15.199999999999989" height="22.80000000000001" fill="#24282d"/>
<path d="M370.1 427.7V425.8H390.4V427.7" fill="none" stroke="#222" stroke-width="1.1"/>
<circle cx="380.25" cy="422.50" r="0.85" fill="#333"/>
<circle cx="47.0" cy="48.4" r="1.1" fill="#f59a30" fill-opacity="0.75" stroke="#c07830" stroke-opacity="0.4" stroke-width="0.4"/>
<circle cx="50.5" cy="50.8" r="1.1" fill="#f59a30" fill-opacity="0.75" stroke="#c07830" stroke-opacity="0.4" stroke-width="0.4"/>
<circle cx="48.4" cy="54.7" r="1.1" fill="#f59a30" fill-opacity="0.75" stroke="#c07830" stroke-opacity="0.4" stroke-width="0.4"/>
<circle cx="45.5" cy="57.6" r="1.1" fill="#f59a30" fill-opacity="0.75" stroke="#c07830" stroke-opacity="0.4" stroke-width="0.4"/>
<circle cx="50.8" cy="58.5" r="1.1" fill="#f59a30" fill-opacity="0.75" stroke="#c07830" stroke-opacity="0.4" stroke-width="0.4"/>
<circle cx="45.2" cy="63.0" r="1.1" fill="#f59a30" fill-opacity="0.75" stroke="#c07830" stroke-opacity="0.4" stroke-width="0.4"/>
<circle cx="47.5" cy="66.0" r="1.1" fill="#f59a30" fill-opacity="0.75" stroke="#c07830" stroke-opacity="0.4" stroke-width="0.4"/>
<circle cx="48.5" cy="68.0" r="1.1" fill="#f59a30" fill-opacity="0.75" stroke="#c07830" stroke-opacity="0.4" stroke-width="0.4"/>
<circle cx="46.5" cy="69.5" r="1.1" fill="#f59a30" fill-opacity="0.75" stroke="#c07830" stroke-opacity="0.4" stroke-width="0.4"/>
<circle cx="47.8" cy="62.0" r="1.1" fill="#f59a30" fill-opacity="0.75" stroke="#c07830" stroke-opacity="0.4" stroke-width="0.4"/>
<circle cx="49.0" cy="60.0" r="1.1" fill="#f59a30" fill-opacity="0.75" stroke="#c07830" stroke-opacity="0.4" stroke-width="0.4"/>
<circle cx="45.2" cy="70.2" r="1.1" fill="#f59a30" fill-opacity="0.7" stroke="#c07830" stroke-opacity="0.4" stroke-width="0.4"/>
<circle cx="44.7" cy="71.3" r="1.1" fill="#f59a30" fill-opacity="0.7" stroke="#c07830" stroke-opacity="0.4" stroke-width="0.4"/>
<circle cx="46.5" cy="72.0" r="1.1" fill="#f59a30" fill-opacity="0.7" stroke="#c07830" stroke-opacity="0.4" stroke-width="0.4"/>
<circle cx="47.4" cy="72.1" r="1.1" fill="#f59a30" fill-opacity="0.7" stroke="#c07830" stroke-opacity="0.4" stroke-width="0.4"/>
<circle cx="47.0" cy="72.9" r="1.1" fill="#f59a30" fill-opacity="0.7" stroke="#c07830" stroke-opacity="0.4" stroke-width="0.4"/>
<circle cx="44.8" cy="73.7" r="1.1" fill="#f59a30" fill-opacity="0.7" stroke="#c07830" stroke-opacity="0.4" stroke-width="0.4"/>
<circle cx="49.5" cy="74.9" r="1.1" fill="#f59a30" fill-opacity="0.7" stroke="#c07830" stroke-opacity="0.4" stroke-width="0.4"/>
<circle cx="45.6" cy="75.3" r="1.1" fill="#f59a30" fill-opacity="0.7" stroke="#c07830" stroke-opacity="0.4" stroke-width="0.4"/>
<circle cx="50.3" cy="76.7" r="1.1" fill="#f59a30" fill-opacity="0.7" stroke="#c07830" stroke-opacity="0.4" stroke-width="0.4"/>
<circle cx="46.7" cy="77.4" r="1.1" fill="#f59a30" fill-opacity="0.7" stroke="#c07830" stroke-opacity="0.4" stroke-width="0.4"/>
<circle cx="44.5" cy="78.6" r="1.1" fill="#f59a30" fill-opacity="0.7" stroke="#c07830" stroke-opacity="0.4" stroke-width="0.4"/>
<circle cx="46.1" cy="79.2" r="1.1" fill="#f59a30" fill-opacity="0.7" stroke="#c07830" stroke-opacity="0.4" stroke-width="0.4"/>
<circle cx="45.0" cy="79.1" r="1.1" fill="#f59a30" fill-opacity="0.7" stroke="#c07830" stroke-opacity="0.4" stroke-width="0.4"/>
<circle cx="49.4" cy="80.1" r="1.1" fill="#f59a30" fill-opacity="0.7" stroke="#c07830" stroke-opacity="0.4" stroke-width="0.4"/>
<circle cx="47.9" cy="80.7" r="1.1" fill="#f59a30" fill-opacity="0.7" stroke="#c07830" stroke-opacity="0.4" stroke-width="0.4"/>
<circle cx="46.6" cy="82.0" r="1.1" fill="#f59a30" fill-opacity="0.7" stroke="#c07830" stroke-opacity="0.4" stroke-width="0.4"/>
<circle cx="44.6" cy="82.7" r="1.1" fill="#f59a30" fill-opacity="0.7" stroke="#c07830" stroke-opacity="0.4" stroke-width="0.4"/>
<circle cx="45.5" cy="82.9" r="1.1" fill="#f59a30" fill-opacity="0.7" stroke="#c07830" stroke-opacity="0.4" stroke-width="0.4"/>
<circle cx="46.9" cy="84.4" r="1.1" fill="#f59a30" fill-opacity="0.7" stroke="#c07830" stroke-opacity="0.4" stroke-width="0.4"/>
<circle cx="47.9" cy="84.7" r="1.1" fill="#f59a30" fill-opacity="0.7" stroke="#c07830" stroke-opacity="0.4" stroke-width="0.4"/>
<circle cx="46.1" cy="85.6" r="1.1" fill="#f59a30" fill-opacity="0.7" stroke="#c07830" stroke-opacity="0.4" stroke-width="0.4"/>
<circle cx="48.7" cy="86.8" r="1.1" fill="#f59a30" fill-opacity="0.7" stroke="#c07830" stroke-opacity="0.4" stroke-width="0.4"/>
<circle cx="47.9" cy="86.9" r="1.1" fill="#f59a30" fill-opacity="0.7" stroke="#c07830" stroke-opacity="0.4" stroke-width="0.4"/>
<circle cx="49.8" cy="88.0" r="1.1" fill="#f59a30" fill-opacity="0.7" stroke="#c07830" stroke-opacity="0.4" stroke-width="0.4"/>
<circle cx="46.0" cy="89.0" r="1.1" fill="#f59a30" fill-opacity="0.7" stroke="#c07830" stroke-opacity="0.4" stroke-width="0.4"/>
<circle cx="45.0" cy="90.1" r="1.1" fill="#f59a30" fill-opacity="0.7" stroke="#c07830" stroke-opacity="0.4" stroke-width="0.4"/>
<circle cx="49.0" cy="90.2" r="1.1" fill="#f59a30" fill-opacity="0.7" stroke="#c07830" stroke-opacity="0.4" stroke-width="0.4"/>
<circle cx="47.3" cy="90.6" r="1.1" fill="#f59a30" fill-opacity="0.7" stroke="#c07830" stroke-opacity="0.4" stroke-width="0.4"/>
<circle cx="48.5" cy="91.2" r="1.1" fill="#f59a30" fill-opacity="0.7" stroke="#c07830" stroke-opacity="0.4" stroke-width="0.4"/>
<circle cx="47.9" cy="92.9" r="1.1" fill="#f59a30" fill-opacity="0.7" stroke="#c07830" stroke-opacity="0.4" stroke-width="0.4"/>
<circle cx="46.2" cy="93.8" r="1.1" fill="#f59a30" fill-opacity="0.7" stroke="#c07830" stroke-opacity="0.4" stroke-width="0.4"/>
<circle cx="48.0" cy="94.3" r="1.1" fill="#f59a30" fill-opacity="0.7" stroke="#c07830" stroke-opacity="0.4" stroke-width="0.4"/>
<circle cx="47.1" cy="94.9" r="1.1" fill="#f59a30" fill-opacity="0.7" stroke="#c07830" stroke-opacity="0.4" stroke-width="0.4"/>
<circle cx="50.2" cy="96.0" r="1.1" fill="#f59a30" fill-opacity="0.7" stroke="#c07830" stroke-opacity="0.4" stroke-width="0.4"/>
<circle cx="47.8" cy="96.7" r="1.1" fill="#f59a30" fill-opacity="0.75" stroke="#c07830" stroke-opacity="0.4" stroke-width="0.4"/>
<circle cx="45.5" cy="103.4" r="1.1" fill="#f59a30" fill-opacity="0.75" stroke="#c07830" stroke-opacity="0.4" stroke-width="0.4"/>
<circle cx="48.6" cy="102.6" r="1.1" fill="#f59a30" fill-opacity="0.75" stroke="#c07830" stroke-opacity="0.4" stroke-width="0.4"/>
<circle cx="49.8" cy="106.6" r="1.1" fill="#f59a30" fill-opacity="0.75" stroke="#c07830" stroke-opacity="0.4" stroke-width="0.4"/>
<circle cx="50.6" cy="109.7" r="1.1" fill="#f59a30" fill-opacity="0.75" stroke="#c07830" stroke-opacity="0.4" stroke-width="0.4"/>
<circle cx="45.1" cy="112.1" r="1.1" fill="#f59a30" fill-opacity="0.75" stroke="#c07830" stroke-opacity="0.4" stroke-width="0.4"/>
<circle cx="48.6" cy="112.9" r="1.1" fill="#f59a30" fill-opacity="0.75" stroke="#c07830" stroke-opacity="0.4" stroke-width="0.4"/>
<circle cx="47.0" cy="127.1" r="1.1" fill="#f59a30" fill-opacity="0.75" stroke="#c07830" stroke-opacity="0.4" stroke-width="0.4"/>
<circle cx="46.5" cy="117.0" r="1.1" fill="#f59a30" fill-opacity="0.75" stroke="#c07830" stroke-opacity="0.4" stroke-width="0.4"/>
<circle cx="48.0" cy="121.0" r="1.1" fill="#f59a30" fill-opacity="0.75" stroke="#c07830" stroke-opacity="0.4" stroke-width="0.4"/>
<circle cx="46.0" cy="99.5" r="1.1" fill="#f59a30" fill-opacity="0.75" stroke="#c07830" stroke-opacity="0.4" stroke-width="0.4"/>
<circle cx="49.0" cy="115.0" r="1.1" fill="#f59a30" fill-opacity="0.75" stroke="#c07830" stroke-opacity="0.4" stroke-width="0.4"/>
<circle cx="80.5" cy="80.0" r="1.1" fill="#f59a30" fill-opacity="0.85" stroke="#c07830" stroke-opacity="0.4" stroke-width="0.4"/>
<circle cx="78.5" cy="82.0" r="1.1" fill="#f59a30" fill-opacity="0.85" stroke="#c07830" stroke-opacity="0.4" stroke-width="0.4"/>
<circle cx="81.0" cy="83.5" r="1.1" fill="#f59a30" fill-opacity="0.85" stroke="#c07830" stroke-opacity="0.4" stroke-width="0.4"/>
<circle cx="79.5" cy="81.0" r="1.1" fill="#f59a30" fill-opacity="0.85" stroke="#c07830" stroke-opacity="0.4" stroke-width="0.4"/>
<circle cx="80.2" cy="79.3" r="1.1" fill="#f59a30" fill-opacity="0.85" stroke="#c07830" stroke-opacity="0.4" stroke-width="0.4"/>
<circle cx="80.3" cy="84.6" r="1.1" fill="#f59a30" fill-opacity="0.6" stroke="#c07830" stroke-opacity="0.4" stroke-width="0.4"/>
<circle cx="80.5" cy="85.5" r="1.1" fill="#f59a30" fill-opacity="0.6" stroke="#c07830" stroke-opacity="0.4" stroke-width="0.4"/>
<circle cx="81.8" cy="87.5" r="1.1" fill="#f59a30" fill-opacity="0.6" stroke="#c07830" stroke-opacity="0.4" stroke-width="0.4"/>
<circle cx="78.7" cy="89.1" r="1.1" fill="#f59a30" fill-opacity="0.6" stroke="#c07830" stroke-opacity="0.4" stroke-width="0.4"/>
<circle cx="80.3" cy="89.9" r="1.1" fill="#f59a30" fill-opacity="0.6" stroke="#c07830" stroke-opacity="0.4" stroke-width="0.4"/>
<circle cx="79.4" cy="90.8" r="1.1" fill="#f59a30" fill-opacity="0.6" stroke="#c07830" stroke-opacity="0.4" stroke-width="0.4"/>
<circle cx="77.9" cy="92.3" r="1.1" fill="#f59a30" fill-opacity="0.6" stroke="#c07830" stroke-opacity="0.4" stroke-width="0.4"/>
<circle cx="80.8" cy="93.5" r="1.1" fill="#f59a30" fill-opacity="0.6" stroke="#c07830" stroke-opacity="0.4" stroke-width="0.4"/>
<circle cx="78.5" cy="94.9" r="1.1" fill="#f59a30" fill-opacity="0.6" stroke="#c07830" stroke-opacity="0.4" stroke-width="0.4"/>
<circle cx="81.2" cy="96.5" r="1.1" fill="#f59a30" fill-opacity="0.6" stroke="#c07830" stroke-opacity="0.4" stroke-width="0.4"/>
<circle cx="79.4" cy="97.5" r="1.1" fill="#f59a30" fill-opacity="0.6" stroke="#c07830" stroke-opacity="0.4" stroke-width="0.4"/>
<circle cx="81.3" cy="99.4" r="1.1" fill="#f59a30" fill-opacity="0.6" stroke="#c07830" stroke-opacity="0.4" stroke-width="0.4"/>
<circle cx="79.0" cy="106.5" r="1.1" fill="#f59a30" fill-opacity="0.55" stroke="#c07830" stroke-opacity="0.4" stroke-width="0.4"/>
<circle cx="81.5" cy="101.5" r="1.1" fill="#f59a30" fill-opacity="0.55" stroke="#c07830" stroke-opacity="0.4" stroke-width="0.4"/>
<circle cx="80.0" cy="112.0" r="1.1" fill="#f59a30" fill-opacity="0.55" stroke="#c07830" stroke-opacity="0.4" stroke-width="0.4"/>
<circle cx="79.2" cy="118.0" r="1.1" fill="#f59a30" fill-opacity="0.55" stroke="#c07830" stroke-opacity="0.4" stroke-width="0.4"/>
<circle cx="81.1" cy="131.8" r="1.1" fill="#f59a30" fill-opacity="0.55" stroke="#c07830" stroke-opacity="0.4" stroke-width="0.4"/>
<circle cx="80.2" cy="153.7" r="1.1" fill="#f59a30" fill-opacity="0.55" stroke="#c07830" stroke-opacity="0.4" stroke-width="0.4"/>
<circle cx="149.6" cy="50.5" r="1.05" fill="#f6a040" fill-opacity="0.45" stroke="#b89a80" stroke-opacity="0.3" stroke-width="0.5"/>
<circle cx="151.1" cy="54.4" r="1.05" fill="#f6a040" fill-opacity="0.45" stroke="#b89a80" stroke-opacity="0.3" stroke-width="0.5"/>
<circle cx="147.2" cy="65.9" r="1.05" fill="#f6a040" fill-opacity="0.45" stroke="#b89a80" stroke-opacity="0.3" stroke-width="0.5"/>
<circle cx="149.6" cy="80.2" r="1.05" fill="#f6a040" fill-opacity="0.45" stroke="#b89a80" stroke-opacity="0.3" stroke-width="0.5"/>
<circle cx="149.6" cy="86.0" r="1.05" fill="#f6a040" fill-opacity="0.45" stroke="#b89a80" stroke-opacity="0.3" stroke-width="0.5"/>
<circle cx="148.8" cy="89.8" r="1.05" fill="#f6a040" fill-opacity="0.45" stroke="#b89a80" stroke-opacity="0.3" stroke-width="0.5"/>
<circle cx="151.2" cy="95.4" r="1.05" fill="#f6a040" fill-opacity="0.50" stroke="#b89a80" stroke-opacity="0.3" stroke-width="0.5"/>
<circle cx="148.5" cy="95.3" r="1.05" fill="#f6a040" fill-opacity="0.50" stroke="#b89a80" stroke-opacity="0.3" stroke-width="0.5"/>
<circle cx="151.3" cy="96.3" r="1.05" fill="#f6a040" fill-opacity="0.50" stroke="#b89a80" stroke-opacity="0.3" stroke-width="0.5"/>
<circle cx="146.9" cy="98.0" r="1.05" fill="#f6a040" fill-opacity="0.50" stroke="#b89a80" stroke-opacity="0.3" stroke-width="0.5"/>
<circle cx="147.4" cy="97.6" r="1.05" fill="#f6a040" fill-opacity="0.50" stroke="#b89a80" stroke-opacity="0.3" stroke-width="0.5"/>
<circle cx="168.8" cy="31.0" r="1.05" fill="#f6a040" fill-opacity="0.45" stroke="#b89a80" stroke-opacity="0.3" stroke-width="0.5"/>
<circle cx="170.5" cy="63.3" r="1.05" fill="#f6a040" fill-opacity="0.45" stroke="#b89a80" stroke-opacity="0.3" stroke-width="0.5"/>
<circle cx="169.2" cy="70.7" r="1.05" fill="#f6a040" fill-opacity="0.50" stroke="#b89a80" stroke-opacity="0.3" stroke-width="0.5"/>
<circle cx="168.4" cy="73.6" r="1.05" fill="#f6a040" fill-opacity="0.50" stroke="#b89a80" stroke-opacity="0.3" stroke-width="0.5"/>
<circle cx="169.0" cy="75.0" r="1.05" fill="#f6a040" fill-opacity="0.50" stroke="#b89a80" stroke-opacity="0.3" stroke-width="0.5"/>
<circle cx="169.6" cy="78.0" r="1.05" fill="#f6a040" fill-opacity="0.50" stroke="#b89a80" stroke-opacity="0.3" stroke-width="0.5"/>
<circle cx="170.1" cy="81.2" r="1.05" fill="#f6a040" fill-opacity="0.50" stroke="#b89a80" stroke-opacity="0.3" stroke-width="0.5"/>
<circle cx="169.8" cy="82.9" r="1.05" fill="#f6a040" fill-opacity="0.50" stroke="#b89a80" stroke-opacity="0.3" stroke-width="0.5"/>
<circle cx="167.5" cy="85.4" r="1.05" fill="#f6a040" fill-opacity="0.50" stroke="#b89a80" stroke-opacity="0.3" stroke-width="0.5"/>
<circle cx="170.4" cy="88.1" r="1.05" fill="#f6a040" fill-opacity="0.50" stroke="#b89a80" stroke-opacity="0.3" stroke-width="0.5"/>
<circle cx="170.5" cy="90.4" r="1.05" fill="#f6a040" fill-opacity="0.50" stroke="#b89a80" stroke-opacity="0.3" stroke-width="0.5"/>
<circle cx="168.9" cy="92.0" r="1.05" fill="#f6a040" fill-opacity="0.50" stroke="#b89a80" stroke-opacity="0.3" stroke-width="0.5"/>
<circle cx="169.8" cy="93.9" r="1.05" fill="#f6a040" fill-opacity="0.50" stroke="#b89a80" stroke-opacity="0.3" stroke-width="0.5"/>
<circle cx="167.6" cy="96.1" r="1.05" fill="#f6a040" fill-opacity="0.50" stroke="#b89a80" stroke-opacity="0.3" stroke-width="0.5"/>
<circle cx="230.0" cy="30.5" r="1.05" fill="#f6a040" fill-opacity="0.45" stroke="#b89a80" stroke-opacity="0.3" stroke-width="0.5"/>
<circle cx="231.6" cy="45.9" r="1.05" fill="#f6a040" fill-opacity="0.45" stroke="#b89a80" stroke-opacity="0.3" stroke-width="0.5"/>
<circle cx="230.0" cy="61.3" r="1.05" fill="#f6a040" fill-opacity="0.45" stroke="#b89a80" stroke-opacity="0.3" stroke-width="0.5"/>
<circle cx="230.8" cy="71.6" r="1.05" fill="#f6a040" fill-opacity="0.45" stroke="#b89a80" stroke-opacity="0.3" stroke-width="0.5"/>
<circle cx="230.0" cy="76.7" r="1.05" fill="#f6a040" fill-opacity="0.45" stroke="#b89a80" stroke-opacity="0.3" stroke-width="0.5"/>
<circle cx="230.8" cy="89.0" r="1.05" fill="#f6a040" fill-opacity="0.45" stroke="#b89a80" stroke-opacity="0.3" stroke-width="0.5"/>
<circle cx="230.0" cy="93.6" r="1.05" fill="#f6a040" fill-opacity="0.45" stroke="#b89a80" stroke-opacity="0.3" stroke-width="0.5"/>
<circle cx="229.0" cy="96.8" r="1.05" fill="#f6a040" fill-opacity="0.50" stroke="#b89a80" stroke-opacity="0.3" stroke-width="0.5"/>
<circle cx="228.3" cy="97.5" r="1.05" fill="#f6a040" fill-opacity="0.50" stroke="#b89a80" stroke-opacity="0.3" stroke-width="0.5"/>
<circle cx="228.9" cy="97.5" r="1.05" fill="#f6a040" fill-opacity="0.50" stroke="#b89a80" stroke-opacity="0.3" stroke-width="0.5"/>
<circle cx="230.2" cy="98.1" r="1.05" fill="#f6a040" fill-opacity="0.50" stroke="#b89a80" stroke-opacity="0.3" stroke-width="0.5"/>
<circle cx="251.6" cy="53.6" r="1.05" fill="#f6a040" fill-opacity="0.45" stroke="#b89a80" stroke-opacity="0.3" stroke-width="0.5"/>
<circle cx="250.0" cy="55.9" r="1.05" fill="#f6a040" fill-opacity="0.45" stroke="#b89a80" stroke-opacity="0.3" stroke-width="0.5"/>
<circle cx="251.0" cy="73.0" r="1.05" fill="#f6a040" fill-opacity="0.45" stroke="#b89a80" stroke-opacity="0.3" stroke-width="0.5"/>
<circle cx="252.0" cy="78.0" r="1.05" fill="#f6a040" fill-opacity="0.45" stroke="#b89a80" stroke-opacity="0.3" stroke-width="0.5"/>
<circle cx="252.8" cy="84.0" r="1.05" fill="#f6a040" fill-opacity="0.50" stroke="#b89a80" stroke-opacity="0.3" stroke-width="0.5"/>
<circle cx="249.9" cy="86.6" r="1.05" fill="#f6a040" fill-opacity="0.50" stroke="#b89a80" stroke-opacity="0.3" stroke-width="0.5"/>
<circle cx="250.7" cy="87.6" r="1.05" fill="#f6a040" fill-opacity="0.50" stroke="#b89a80" stroke-opacity="0.3" stroke-width="0.5"/>
<circle cx="249.8" cy="89.4" r="1.05" fill="#f6a040" fill-opacity="0.50" stroke="#b89a80" stroke-opacity="0.3" stroke-width="0.5"/>
<circle cx="253.3" cy="91.8" r="1.05" fill="#f6a040" fill-opacity="0.50" stroke="#b89a80" stroke-opacity="0.3" stroke-width="0.5"/>
<circle cx="251.2" cy="92.8" r="1.05" fill="#f6a040" fill-opacity="0.50" stroke="#b89a80" stroke-opacity="0.3" stroke-width="0.5"/>
<circle cx="249.7" cy="93.8" r="1.05" fill="#f6a040" fill-opacity="0.50" stroke="#b89a80" stroke-opacity="0.3" stroke-width="0.5"/>
<circle cx="250.4" cy="95.8" r="1.05" fill="#f6a040" fill-opacity="0.50" stroke="#b89a80" stroke-opacity="0.3" stroke-width="0.5"/>
<circle cx="249.9" cy="98.2" r="1.05" fill="#f6a040" fill-opacity="0.50" stroke="#b89a80" stroke-opacity="0.3" stroke-width="0.5"/>
<circle cx="315.1" cy="85.2" r="1.05" fill="#f6a040" fill-opacity="0.45" stroke="#b89a80" stroke-opacity="0.3" stroke-width="0.5"/>
<circle cx="314.3" cy="89.0" r="1.05" fill="#f6a040" fill-opacity="0.45" stroke="#b89a80" stroke-opacity="0.3" stroke-width="0.5"/>
<circle cx="311.6" cy="94.4" r="1.05" fill="#f6a040" fill-opacity="0.45" stroke="#b89a80" stroke-opacity="0.3" stroke-width="0.5"/>
<circle cx="315.7" cy="97.0" r="1.05" fill="#f6a040" fill-opacity="0.50" stroke="#b89a80" stroke-opacity="0.3" stroke-width="0.5"/>
<circle cx="310.9" cy="98.3" r="1.05" fill="#f6a040" fill-opacity="0.50" stroke="#b89a80" stroke-opacity="0.3" stroke-width="0.5"/>
<circle cx="310.2" cy="98.8" r="1.05" fill="#f6a040" fill-opacity="0.50" stroke="#b89a80" stroke-opacity="0.3" stroke-width="0.5"/>
<circle cx="332.0" cy="73.6" r="1.05" fill="#f6a040" fill-opacity="0.45" stroke="#b89a80" stroke-opacity="0.3" stroke-width="0.5"/>
<circle cx="334.4" cy="82.1" r="1.05" fill="#f6a040" fill-opacity="0.45" stroke="#b89a80" stroke-opacity="0.3" stroke-width="0.5"/>
<circle cx="333.6" cy="84.4" r="1.05" fill="#f6a040" fill-opacity="0.45" stroke="#b89a80" stroke-opacity="0.3" stroke-width="0.5"/>
<circle cx="332.8" cy="91.3" r="1.05" fill="#f6a040" fill-opacity="0.45" stroke="#b89a80" stroke-opacity="0.3" stroke-width="0.5"/>
<circle cx="335.8" cy="94.6" r="1.05" fill="#f6a040" fill-opacity="0.50" stroke="#b89a80" stroke-opacity="0.3" stroke-width="0.5"/>
<circle cx="334.4" cy="96.3" r="1.05" fill="#f6a040" fill-opacity="0.50" stroke="#b89a80" stroke-opacity="0.3" stroke-width="0.5"/>
<circle cx="332.7" cy="96.4" r="1.05" fill="#f6a040" fill-opacity="0.50" stroke="#b89a80" stroke-opacity="0.3" stroke-width="0.5"/>
<circle cx="334.8" cy="97.4" r="1.05" fill="#f6a040" fill-opacity="0.50" stroke="#b89a80" stroke-opacity="0.3" stroke-width="0.5"/>
<circle cx="397.8" cy="70.5" r="1.05" fill="#f6a040" fill-opacity="0.45" stroke="#b89a80" stroke-opacity="0.3" stroke-width="0.5"/>
<circle cx="398.5" cy="76.0" r="1.05" fill="#f6a040" fill-opacity="0.45" stroke="#b89a80" stroke-opacity="0.3" stroke-width="0.5"/>
<circle cx="399.0" cy="82.0" r="1.05" fill="#f6a040" fill-opacity="0.45" stroke="#b89a80" stroke-opacity="0.3" stroke-width="0.5"/>
<circle cx="399.9" cy="87.9" r="1.05" fill="#f6a040" fill-opacity="0.50" stroke="#b89a80" stroke-opacity="0.3" stroke-width="0.5"/>
<circle cx="397.1" cy="89.2" r="1.05" fill="#f6a040" fill-opacity="0.50" stroke="#b89a80" stroke-opacity="0.3" stroke-width="0.5"/>
<circle cx="400.9" cy="91.6" r="1.05" fill="#f6a040" fill-opacity="0.50" stroke="#b89a80" stroke-opacity="0.3" stroke-width="0.5"/>
<circle cx="400.0" cy="93.3" r="1.05" fill="#f6a040" fill-opacity="0.50" stroke="#b89a80" stroke-opacity="0.3" stroke-width="0.5"/>
<circle cx="399.7" cy="94.9" r="1.05" fill="#f6a040" fill-opacity="0.50" stroke="#b89a80" stroke-opacity="0.3" stroke-width="0.5"/>
<circle cx="398.6" cy="95.6" r="1.05" fill="#f6a040" fill-opacity="0.50" stroke="#b89a80" stroke-opacity="0.3" stroke-width="0.5"/>
<circle cx="396.1" cy="97.4" r="1.05" fill="#f6a040" fill-opacity="0.50" stroke="#b89a80" stroke-opacity="0.3" stroke-width="0.5"/>
<circle cx="418.5" cy="36.0" r="1.05" fill="#f6a040" fill-opacity="0.45" stroke="#b89a80" stroke-opacity="0.3" stroke-width="0.5"/>
<circle cx="418.6" cy="50.5" r="1.05" fill="#f6a040" fill-opacity="0.45" stroke="#b89a80" stroke-opacity="0.3" stroke-width="0.5"/>
<circle cx="418.4" cy="59.0" r="1.05" fill="#f6a040" fill-opacity="0.45" stroke="#b89a80" stroke-opacity="0.3" stroke-width="0.5"/>
<circle cx="418.8" cy="62.8" r="1.05" fill="#f6a040" fill-opacity="0.45" stroke="#b89a80" stroke-opacity="0.3" stroke-width="0.5"/>
<circle cx="418.2" cy="65.9" r="1.05" fill="#f6a040" fill-opacity="0.45" stroke="#b89a80" stroke-opacity="0.3" stroke-width="0.5"/>
<circle cx="417.6" cy="68.2" r="1.05" fill="#f6a040" fill-opacity="0.50" stroke="#b89a80" stroke-opacity="0.3" stroke-width="0.5"/>
<circle cx="419.4" cy="70.5" r="1.05" fill="#f6a040" fill-opacity="0.50" stroke="#b89a80" stroke-opacity="0.3" stroke-width="0.5"/>
<circle cx="418.4" cy="73.5" r="1.05" fill="#f6a040" fill-opacity="0.50" stroke="#b89a80" stroke-opacity="0.3" stroke-width="0.5"/>
<circle cx="420.7" cy="75.4" r="1.05" fill="#f6a040" fill-opacity="0.50" stroke="#b89a80" stroke-opacity="0.3" stroke-width="0.5"/>
<circle cx="418.0" cy="77.3" r="1.05" fill="#f6a040" fill-opacity="0.50" stroke="#b89a80" stroke-opacity="0.3" stroke-width="0.5"/>
<circle cx="417.4" cy="78.0" r="1.05" fill="#f6a040" fill-opacity="0.50" stroke="#b89a80" stroke-opacity="0.3" stroke-width="0.5"/>
<circle cx="417.3" cy="79.9" r="1.05" fill="#f6a040" fill-opacity="0.50" stroke="#b89a80" stroke-opacity="0.3" stroke-width="0.5"/>
<circle cx="420.4" cy="82.5" r="1.05" fill="#f6a040" fill-opacity="0.50" stroke="#b89a80" stroke-opacity="0.3" stroke-width="0.5"/>
<circle cx="418.5" cy="84.7" r="1.05" fill="#f6a040" fill-opacity="0.50" stroke="#b89a80" stroke-opacity="0.3" stroke-width="0.5"/>
<circle cx="419.9" cy="86.4" r="1.05" fill="#f6a040" fill-opacity="0.50" stroke="#b89a80" stroke-opacity="0.3" stroke-width="0.5"/>
<circle cx="419.3" cy="87.4" r="1.05" fill="#f6a040" fill-opacity="0.50" stroke="#b89a80" stroke-opacity="0.3" stroke-width="0.5"/>
<circle cx="419.8" cy="90.6" r="1.05" fill="#f6a040" fill-opacity="0.50" stroke="#b89a80" stroke-opacity="0.3" stroke-width="0.5"/>
<circle cx="418.5" cy="92.2" r="1.05" fill="#f6a040" fill-opacity="0.50" stroke="#b89a80" stroke-opacity="0.3" stroke-width="0.5"/>
<circle cx="419.9" cy="93.2" r="1.05" fill="#f6a040" fill-opacity="0.50" stroke="#b89a80" stroke-opacity="0.3" stroke-width="0.5"/>
<circle cx="419.9" cy="95.4" r="1.05" fill="#f6a040" fill-opacity="0.50" stroke="#b89a80" stroke-opacity="0.3" stroke-width="0.5"/>
<circle cx="418.1" cy="98.3" r="1.05" fill="#f6a040" fill-opacity="0.50" stroke="#b89a80" stroke-opacity="0.3" stroke-width="0.5"/>
<circle cx="479.2" cy="45.1" r="1.05" fill="#f6a040" fill-opacity="0.45" stroke="#b89a80" stroke-opacity="0.3" stroke-width="0.5"/>
<circle cx="481.1" cy="54.4" r="1.05" fill="#f6a040" fill-opacity="0.45" stroke="#b89a80" stroke-opacity="0.3" stroke-width="0.5"/>
<circle cx="483.7" cy="97.6" r="1.05" fill="#f6a040" fill-opacity="0.50" stroke="#b89a80" stroke-opacity="0.3" stroke-width="0.5"/>
<circle cx="479.0" cy="98.6" r="1.05" fill="#f6a040" fill-opacity="0.50" stroke="#b89a80" stroke-opacity="0.3" stroke-width="0.5"/>
<circle cx="478.9" cy="98.2" r="1.05" fill="#f6a040" fill-opacity="0.50" stroke="#b89a80" stroke-opacity="0.3" stroke-width="0.5"/>
<circle cx="502.4" cy="31.2" r="1.05" fill="#f6a040" fill-opacity="0.45" stroke="#b89a80" stroke-opacity="0.3" stroke-width="0.5"/>
<circle cx="501.0" cy="46.6" r="1.05" fill="#f6a040" fill-opacity="0.45" stroke="#b89a80" stroke-opacity="0.3" stroke-width="0.5"/>
<circle cx="501.5" cy="55.0" r="1.05" fill="#f6a040" fill-opacity="0.45" stroke="#b89a80" stroke-opacity="0.3" stroke-width="0.5"/>
<circle cx="502.0" cy="59.3" r="1.05" fill="#f6a040" fill-opacity="0.45" stroke="#b89a80" stroke-opacity="0.3" stroke-width="0.5"/>
<circle cx="501.5" cy="64.0" r="1.05" fill="#f6a040" fill-opacity="0.45" stroke="#b89a80" stroke-opacity="0.3" stroke-width="0.5"/>
<circle cx="501.0" cy="68.2" r="1.05" fill="#f6a040" fill-opacity="0.45" stroke="#b89a80" stroke-opacity="0.3" stroke-width="0.5"/>
<circle cx="501.5" cy="78.4" r="1.05" fill="#f6a040" fill-opacity="0.45" stroke="#b89a80" stroke-opacity="0.3" stroke-width="0.5"/>
<circle cx="502.0" cy="80.5" r="1.05" fill="#f6a040" fill-opacity="0.45" stroke="#b89a80" stroke-opacity="0.3" stroke-width="0.5"/>
<circle cx="502.8" cy="95.1" r="1.05" fill="#f6a040" fill-opacity="0.50" stroke="#b89a80" stroke-opacity="0.3" stroke-width="0.5"/>
<circle cx="502.9" cy="94.8" r="1.05" fill="#f6a040" fill-opacity="0.50" stroke="#b89a80" stroke-opacity="0.3" stroke-width="0.5"/>
<circle cx="502.1" cy="97.0" r="1.05" fill="#f6a040" fill-opacity="0.50" stroke="#b89a80" stroke-opacity="0.3" stroke-width="0.5"/>
<circle cx="501.5" cy="96.9" r="1.05" fill="#f6a040" fill-opacity="0.50" stroke="#b89a80" stroke-opacity="0.3" stroke-width="0.5"/>
<circle cx="498.9" cy="97.5" r="1.05" fill="#f6a040" fill-opacity="0.50" stroke="#b89a80" stroke-opacity="0.3" stroke-width="0.5"/>
<circle cx="150.3" cy="176.6" r="1.05" fill="#f6a040" fill-opacity="0.45" stroke="#b89a80" stroke-opacity="0.3" stroke-width="0.5"/>
<circle cx="150.0" cy="190.1" r="1.05" fill="#f6a040" fill-opacity="0.45" stroke="#b89a80" stroke-opacity="0.3" stroke-width="0.5"/>
<circle cx="149.9" cy="194.1" r="1.05" fill="#f6a040" fill-opacity="0.50" stroke="#b89a80" stroke-opacity="0.3" stroke-width="0.5"/>
<circle cx="151.6" cy="194.0" r="1.05" fill="#f6a040" fill-opacity="0.50" stroke="#b89a80" stroke-opacity="0.3" stroke-width="0.5"/>
<circle cx="151.2" cy="194.6" r="1.05" fill="#f6a040" fill-opacity="0.50" stroke="#b89a80" stroke-opacity="0.3" stroke-width="0.5"/>
<circle cx="168.8" cy="126.5" r="1.05" fill="#f6a040" fill-opacity="0.45" stroke="#b89a80" stroke-opacity="0.3" stroke-width="0.5"/>
<circle cx="170.2" cy="134.2" r="1.05" fill="#f6a040" fill-opacity="0.45" stroke="#b89a80" stroke-opacity="0.3" stroke-width="0.5"/>
<circle cx="170.2" cy="149.8" r="1.05" fill="#f6a040" fill-opacity="0.45" stroke="#b89a80" stroke-opacity="0.3" stroke-width="0.5"/>
<circle cx="167.5" cy="155.6" r="1.05" fill="#f6a040" fill-opacity="0.45" stroke="#b89a80" stroke-opacity="0.3" stroke-width="0.5"/>
<circle cx="168.0" cy="160.2" r="1.05" fill="#f6a040" fill-opacity="0.45" stroke="#b89a80" stroke-opacity="0.3" stroke-width="0.5"/>
<circle cx="170.5" cy="159.5" r="1.05" fill="#f6a040" fill-opacity="0.45" stroke="#b89a80" stroke-opacity="0.3" stroke-width="0.5"/>
<circle cx="169.8" cy="168.5" r="1.05" fill="#f6a040" fill-opacity="0.45" stroke="#b89a80" stroke-opacity="0.3" stroke-width="0.5"/>
<circle cx="167.8" cy="173.5" r="1.05" fill="#f6a040" fill-opacity="0.45" stroke="#b89a80" stroke-opacity="0.3" stroke-width="0.5"/>
<circle cx="169.0" cy="185.5" r="1.05" fill="#f6a040" fill-opacity="0.45" stroke="#b89a80" stroke-opacity="0.3" stroke-width="0.5"/>
<circle cx="169.5" cy="190.0" r="1.05" fill="#f6a040" fill-opacity="0.45" stroke="#b89a80" stroke-opacity="0.3" stroke-width="0.5"/>
<circle cx="167.9" cy="192.1" r="1.05" fill="#f6a040" fill-opacity="0.50" stroke="#b89a80" stroke-opacity="0.3" stroke-width="0.5"/>
<circle cx="168.3" cy="192.4" r="1.05" fill="#f6a040" fill-opacity="0.50" stroke="#b89a80" stroke-opacity="0.3" stroke-width="0.5"/>
<circle cx="169.7" cy="193.5" r="1.05" fill="#f6a040" fill-opacity="0.50" stroke="#b89a80" stroke-opacity="0.3" stroke-width="0.5"/>
<circle cx="229.2" cy="188.1" r="1.05" fill="#f6a040" fill-opacity="0.45" stroke="#b89a80" stroke-opacity="0.3" stroke-width="0.5"/>
<circle cx="232.3" cy="187.5" r="1.05" fill="#f6a040" fill-opacity="0.45" stroke="#b89a80" stroke-opacity="0.3" stroke-width="0.5"/>
<circle cx="230.5" cy="192.9" r="1.05" fill="#f6a040" fill-opacity="0.50" stroke="#b89a80" stroke-opacity="0.3" stroke-width="0.5"/>
<circle cx="233.5" cy="193.4" r="1.05" fill="#f6a040" fill-opacity="0.50" stroke="#b89a80" stroke-opacity="0.3" stroke-width="0.5"/>
<circle cx="230.7" cy="194.4" r="1.05" fill="#f6a040" fill-opacity="0.50" stroke="#b89a80" stroke-opacity="0.3" stroke-width="0.5"/>
<circle cx="251.8" cy="126.3" r="1.05" fill="#f6a040" fill-opacity="0.45" stroke="#b89a80" stroke-opacity="0.3" stroke-width="0.5"/>
<circle cx="250.5" cy="137.4" r="1.05" fill="#f6a040" fill-opacity="0.45" stroke="#b89a80" stroke-opacity="0.3" stroke-width="0.5"/>
<circle cx="250.8" cy="160.7" r="1.05" fill="#f6a040" fill-opacity="0.45" stroke="#b89a80" stroke-opacity="0.3" stroke-width="0.5"/>
<circle cx="250.5" cy="167.3" r="1.05" fill="#f6a040" fill-opacity="0.45" stroke="#b89a80" stroke-opacity="0.3" stroke-width="0.5"/>
<circle cx="250.5" cy="171.9" r="1.05" fill="#f6a040" fill-opacity="0.45" stroke="#b89a80" stroke-opacity="0.3" stroke-width="0.5"/>
<circle cx="251.0" cy="181.0" r="1.05" fill="#f6a040" fill-opacity="0.45" stroke="#b89a80" stroke-opacity="0.3" stroke-width="0.5"/>
<circle cx="250.8" cy="185.0" r="1.05" fill="#f6a040" fill-opacity="0.45" stroke="#b89a80" stroke-opacity="0.3" stroke-width="0.5"/>
<circle cx="251.0" cy="188.0" r="1.05" fill="#f6a040" fill-opacity="0.45" stroke="#b89a80" stroke-opacity="0.3" stroke-width="0.5"/>
<circle cx="253.3" cy="190.7" r="1.05" fill="#f6a040" fill-opacity="0.50" stroke="#b89a80" stroke-opacity="0.3" stroke-width="0.5"/>
<circle cx="253.4" cy="191.6" r="1.05" fill="#f6a040" fill-opacity="0.50" stroke="#b89a80" stroke-opacity="0.3" stroke-width="0.5"/>
<circle cx="251.5" cy="192.8" r="1.05" fill="#f6a040" fill-opacity="0.50" stroke="#b89a80" stroke-opacity="0.3" stroke-width="0.5"/>
<circle cx="248.9" cy="194.0" r="1.05" fill="#f6a040" fill-opacity="0.50" stroke="#b89a80" stroke-opacity="0.3" stroke-width="0.5"/>
<circle cx="312.5" cy="126.5" r="1.05" fill="#f6a040" fill-opacity="0.45" stroke="#b89a80" stroke-opacity="0.3" stroke-width="0.5"/>
<circle cx="312.3" cy="160.7" r="1.05" fill="#f6a040" fill-opacity="0.45" stroke="#b89a80" stroke-opacity="0.3" stroke-width="0.5"/>
<circle cx="312.5" cy="187.5" r="1.05" fill="#f6a040" fill-opacity="0.45" stroke="#b89a80" stroke-opacity="0.3" stroke-width="0.5"/>
<circle cx="311.1" cy="193.2" r="1.05" fill="#f6a040" fill-opacity="0.50" stroke="#b89a80" stroke-opacity="0.3" stroke-width="0.5"/>
<circle cx="314.8" cy="193.2" r="1.05" fill="#f6a040" fill-opacity="0.50" stroke="#b89a80" stroke-opacity="0.3" stroke-width="0.5"/>
<circle cx="312.8" cy="194.1" r="1.05" fill="#f6a040" fill-opacity="0.50" stroke="#b89a80" stroke-opacity="0.3" stroke-width="0.5"/>
<circle cx="333.6" cy="152.0" r="1.05" fill="#f6a040" fill-opacity="0.45" stroke="#b89a80" stroke-opacity="0.3" stroke-width="0.5"/>
<circle cx="334.4" cy="158.5" r="1.05" fill="#f6a040" fill-opacity="0.45" stroke="#b89a80" stroke-opacity="0.3" stroke-width="0.5"/>
<circle cx="332.5" cy="172.5" r="1.05" fill="#f6a040" fill-opacity="0.45" stroke="#b89a80" stroke-opacity="0.3" stroke-width="0.5"/>
<circle cx="333.0" cy="176.5" r="1.05" fill="#f6a040" fill-opacity="0.45" stroke="#b89a80" stroke-opacity="0.3" stroke-width="0.5"/>
<circle cx="334.0" cy="182.0" r="1.05" fill="#f6a040" fill-opacity="0.45" stroke="#b89a80" stroke-opacity="0.3" stroke-width="0.5"/>
<circle cx="333.6" cy="186.2" r="1.05" fill="#f6a040" fill-opacity="0.50" stroke="#b89a80" stroke-opacity="0.3" stroke-width="0.5"/>
<circle cx="333.4" cy="187.1" r="1.05" fill="#f6a040" fill-opacity="0.50" stroke="#b89a80" stroke-opacity="0.3" stroke-width="0.5"/>
<circle cx="334.7" cy="189.0" r="1.05" fill="#f6a040" fill-opacity="0.50" stroke="#b89a80" stroke-opacity="0.3" stroke-width="0.5"/>
<circle cx="333.6" cy="189.9" r="1.05" fill="#f6a040" fill-opacity="0.50" stroke="#b89a80" stroke-opacity="0.3" stroke-width="0.5"/>
<circle cx="332.2" cy="191.7" r="1.05" fill="#f6a040" fill-opacity="0.50" stroke="#b89a80" stroke-opacity="0.3" stroke-width="0.5"/>
<circle cx="333.3" cy="194.1" r="1.05" fill="#f6a040" fill-opacity="0.50" stroke="#b89a80" stroke-opacity="0.3" stroke-width="0.5"/>
<circle cx="396.2" cy="126.9" r="1.05" fill="#f6a040" fill-opacity="0.45" stroke="#b89a80" stroke-opacity="0.3" stroke-width="0.5"/>
<circle cx="397.5" cy="134.5" r="1.05" fill="#f6a040" fill-opacity="0.45" stroke="#b89a80" stroke-opacity="0.3" stroke-width="0.5"/>
<circle cx="399.5" cy="139.3" r="1.05" fill="#f6a040" fill-opacity="0.45" stroke="#b89a80" stroke-opacity="0.3" stroke-width="0.5"/>
<circle cx="396.0" cy="147.0" r="1.05" fill="#f6a040" fill-opacity="0.45" stroke="#b89a80" stroke-opacity="0.3" stroke-width="0.5"/>
<circle cx="397.0" cy="160.8" r="1.05" fill="#f6a040" fill-opacity="0.45" stroke="#b89a80" stroke-opacity="0.3" stroke-width="0.5"/>
<circle cx="397.3" cy="163.3" r="1.05" fill="#f6a040" fill-opacity="0.45" stroke="#b89a80" stroke-opacity="0.3" stroke-width="0.5"/>
<circle cx="399.1" cy="186.8" r="1.05" fill="#f6a040" fill-opacity="0.50" stroke="#b89a80" stroke-opacity="0.3" stroke-width="0.5"/>
<circle cx="397.5" cy="188.8" r="1.05" fill="#f6a040" fill-opacity="0.50" stroke="#b89a80" stroke-opacity="0.3" stroke-width="0.5"/>
<circle cx="397.8" cy="189.7" r="1.05" fill="#f6a040" fill-opacity="0.50" stroke="#b89a80" stroke-opacity="0.3" stroke-width="0.5"/>
<circle cx="398.8" cy="191.0" r="1.05" fill="#f6a040" fill-opacity="0.50" stroke="#b89a80" stroke-opacity="0.3" stroke-width="0.5"/>
<circle cx="398.0" cy="192.3" r="1.05" fill="#f6a040" fill-opacity="0.50" stroke="#b89a80" stroke-opacity="0.3" stroke-width="0.5"/>
<circle cx="400.0" cy="193.8" r="1.05" fill="#f6a040" fill-opacity="0.50" stroke="#b89a80" stroke-opacity="0.3" stroke-width="0.5"/>
<circle cx="415.0" cy="179.6" r="1.05" fill="#f6a040" fill-opacity="0.45" stroke="#b89a80" stroke-opacity="0.3" stroke-width="0.5"/>
<circle cx="418.5" cy="180.5" r="1.05" fill="#f6a040" fill-opacity="0.45" stroke="#b89a80" stroke-opacity="0.3" stroke-width="0.5"/>
<circle cx="417.8" cy="190.5" r="1.05" fill="#f6a040" fill-opacity="0.45" stroke="#b89a80" stroke-opacity="0.3" stroke-width="0.5"/>
<circle cx="478.5" cy="126.5" r="1.05" fill="#f6a040" fill-opacity="0.45" stroke="#b89a80" stroke-opacity="0.3" stroke-width="0.5"/>
<circle cx="478.2" cy="132.2" r="1.05" fill="#f6a040" fill-opacity="0.45" stroke="#b89a80" stroke-opacity="0.3" stroke-width="0.5"/>
<circle cx="478.5" cy="149.5" r="1.05" fill="#f6a040" fill-opacity="0.45" stroke="#b89a80" stroke-opacity="0.3" stroke-width="0.5"/>
<circle cx="478.3" cy="152.5" r="1.05" fill="#f6a040" fill-opacity="0.45" stroke="#b89a80" stroke-opacity="0.3" stroke-width="0.5"/>
<circle cx="480.0" cy="158.0" r="1.05" fill="#f6a040" fill-opacity="0.45" stroke="#b89a80" stroke-opacity="0.3" stroke-width="0.5"/>
<circle cx="479.4" cy="163.0" r="1.05" fill="#f6a040" fill-opacity="0.45" stroke="#b89a80" stroke-opacity="0.3" stroke-width="0.5"/>
<circle cx="479.0" cy="168.1" r="1.05" fill="#f6a040" fill-opacity="0.45" stroke="#b89a80" stroke-opacity="0.3" stroke-width="0.5"/>
<circle cx="481.8" cy="186.1" r="1.05" fill="#f6a040" fill-opacity="0.50" stroke="#b89a80" stroke-opacity="0.3" stroke-width="0.5"/>
<circle cx="478.7" cy="188.1" r="1.05" fill="#f6a040" fill-opacity="0.50" stroke="#b89a80" stroke-opacity="0.3" stroke-width="0.5"/>
<circle cx="482.1" cy="189.1" r="1.05" fill="#f6a040" fill-opacity="0.50" stroke="#b89a80" stroke-opacity="0.3" stroke-width="0.5"/>
<circle cx="478.1" cy="191.1" r="1.05" fill="#f6a040" fill-opacity="0.50" stroke="#b89a80" stroke-opacity="0.3" stroke-width="0.5"/>
<circle cx="479.6" cy="191.5" r="1.05" fill="#f6a040" fill-opacity="0.50" stroke="#b89a80" stroke-opacity="0.3" stroke-width="0.5"/>
<circle cx="478.6" cy="193.0" r="1.05" fill="#f6a040" fill-opacity="0.50" stroke="#b89a80" stroke-opacity="0.3" stroke-width="0.5"/>
<circle cx="497.5" cy="180.8" r="1.05" fill="#f6a040" fill-opacity="0.45" stroke="#b89a80" stroke-opacity="0.3" stroke-width="0.5"/>
<circle cx="497.0" cy="184.0" r="1.05" fill="#f6a040" fill-opacity="0.45" stroke="#b89a80" stroke-opacity="0.3" stroke-width="0.5"/>
<circle cx="498.0" cy="189.0" r="1.05" fill="#f6a040" fill-opacity="0.45" stroke="#b89a80" stroke-opacity="0.3" stroke-width="0.5"/>
<circle cx="498.5" cy="192.0" r="1.05" fill="#f6a040" fill-opacity="0.45" stroke="#b89a80" stroke-opacity="0.3" stroke-width="0.5"/>
<circle cx="88.8" cy="282.1" r="1.05" fill="#f6a040" fill-opacity="0.45" stroke="#b89a80" stroke-opacity="0.3" stroke-width="0.5"/>
<circle cx="88.8" cy="301.6" r="1.05" fill="#f6a040" fill-opacity="0.45" stroke="#b89a80" stroke-opacity="0.3" stroke-width="0.5"/>
<circle cx="89.0" cy="303.7" r="1.05" fill="#f6a040" fill-opacity="0.50" stroke="#b89a80" stroke-opacity="0.3" stroke-width="0.5"/>
<circle cx="90.4" cy="305.5" r="1.05" fill="#f6a040" fill-opacity="0.50" stroke="#b89a80" stroke-opacity="0.3" stroke-width="0.5"/>
<circle cx="89.3" cy="305.1" r="1.05" fill="#f6a040" fill-opacity="0.50" stroke="#b89a80" stroke-opacity="0.3" stroke-width="0.5"/>
<circle cx="108.2" cy="237.5" r="1.05" fill="#f6a040" fill-opacity="0.45" stroke="#b89a80" stroke-opacity="0.3" stroke-width="0.5"/>
<circle cx="108.0" cy="275.3" r="1.05" fill="#f6a040" fill-opacity="0.45" stroke="#b89a80" stroke-opacity="0.3" stroke-width="0.5"/>
<circle cx="108.2" cy="279.9" r="1.05" fill="#f6a040" fill-opacity="0.45" stroke="#b89a80" stroke-opacity="0.3" stroke-width="0.5"/>
<circle cx="108.5" cy="289.5" r="1.05" fill="#f6a040" fill-opacity="0.45" stroke="#b89a80" stroke-opacity="0.3" stroke-width="0.5"/>
<circle cx="108.0" cy="293.0" r="1.05" fill="#f6a040" fill-opacity="0.45" stroke="#b89a80" stroke-opacity="0.3" stroke-width="0.5"/>
<circle cx="108.5" cy="296.0" r="1.05" fill="#f6a040" fill-opacity="0.45" stroke="#b89a80" stroke-opacity="0.3" stroke-width="0.5"/>
<circle cx="106.6" cy="298.4" r="1.05" fill="#f6a040" fill-opacity="0.50" stroke="#b89a80" stroke-opacity="0.3" stroke-width="0.5"/>
<circle cx="110.7" cy="300.1" r="1.05" fill="#f6a040" fill-opacity="0.50" stroke="#b89a80" stroke-opacity="0.3" stroke-width="0.5"/>
<circle cx="110.7" cy="300.4" r="1.05" fill="#f6a040" fill-opacity="0.50" stroke="#b89a80" stroke-opacity="0.3" stroke-width="0.5"/>
<circle cx="108.3" cy="302.0" r="1.05" fill="#f6a040" fill-opacity="0.50" stroke="#b89a80" stroke-opacity="0.3" stroke-width="0.5"/>
<circle cx="110.1" cy="304.3" r="1.05" fill="#f6a040" fill-opacity="0.50" stroke="#b89a80" stroke-opacity="0.3" stroke-width="0.5"/>
<circle cx="108.1" cy="304.3" r="1.05" fill="#f6a040" fill-opacity="0.50" stroke="#b89a80" stroke-opacity="0.3" stroke-width="0.5"/>
<circle cx="185.0" cy="237.4" r="1.05" fill="#f6a040" fill-opacity="0.45" stroke="#b89a80" stroke-opacity="0.3" stroke-width="0.5"/>
<circle cx="183.6" cy="253.1" r="1.05" fill="#f6a040" fill-opacity="0.45" stroke="#b89a80" stroke-opacity="0.3" stroke-width="0.5"/>
<circle cx="181.6" cy="268.5" r="1.05" fill="#f6a040" fill-opacity="0.45" stroke="#b89a80" stroke-opacity="0.3" stroke-width="0.5"/>
<circle cx="185.5" cy="279.0" r="1.05" fill="#f6a040" fill-opacity="0.45" stroke="#b89a80" stroke-opacity="0.3" stroke-width="0.5"/>
<circle cx="182.6" cy="283.4" r="1.05" fill="#f6a040" fill-opacity="0.45" stroke="#b89a80" stroke-opacity="0.3" stroke-width="0.5"/>
<circle cx="183.5" cy="296.0" r="1.05" fill="#f6a040" fill-opacity="0.45" stroke="#b89a80" stroke-opacity="0.3" stroke-width="0.5"/>
<circle cx="185.0" cy="296.4" r="1.05" fill="#f6a040" fill-opacity="0.45" stroke="#b89a80" stroke-opacity="0.3" stroke-width="0.5"/>
<circle cx="182.8" cy="301.6" r="1.05" fill="#f6a040" fill-opacity="0.45" stroke="#b89a80" stroke-opacity="0.3" stroke-width="0.5"/>
<circle cx="182.5" cy="304.4" r="1.05" fill="#f6a040" fill-opacity="0.50" stroke="#b89a80" stroke-opacity="0.3" stroke-width="0.5"/>
<circle cx="182.4" cy="304.5" r="1.05" fill="#f6a040" fill-opacity="0.50" stroke="#b89a80" stroke-opacity="0.3" stroke-width="0.5"/>
<circle cx="180.6" cy="306.0" r="1.05" fill="#f6a040" fill-opacity="0.50" stroke="#b89a80" stroke-opacity="0.3" stroke-width="0.5"/>
<circle cx="202.7" cy="261.0" r="1.05" fill="#f6a040" fill-opacity="0.45" stroke="#b89a80" stroke-opacity="0.3" stroke-width="0.5"/>
<circle cx="201.5" cy="263.0" r="1.05" fill="#f6a040" fill-opacity="0.45" stroke="#b89a80" stroke-opacity="0.3" stroke-width="0.5"/>
<circle cx="203.4" cy="277.8" r="1.05" fill="#f6a040" fill-opacity="0.45" stroke="#b89a80" stroke-opacity="0.3" stroke-width="0.5"/>
<circle cx="203.0" cy="284.0" r="1.05" fill="#f6a040" fill-opacity="0.45" stroke="#b89a80" stroke-opacity="0.3" stroke-width="0.5"/>
<circle cx="203.5" cy="288.0" r="1.05" fill="#f6a040" fill-opacity="0.45" stroke="#b89a80" stroke-opacity="0.3" stroke-width="0.5"/>
<circle cx="203.3" cy="291.8" r="1.05" fill="#f6a040" fill-opacity="0.50" stroke="#b89a80" stroke-opacity="0.3" stroke-width="0.5"/>
<circle cx="202.9" cy="292.4" r="1.05" fill="#f6a040" fill-opacity="0.50" stroke="#b89a80" stroke-opacity="0.3" stroke-width="0.5"/>
<circle cx="203.7" cy="294.8" r="1.05" fill="#f6a040" fill-opacity="0.50" stroke="#b89a80" stroke-opacity="0.3" stroke-width="0.5"/>
<circle cx="205.7" cy="295.4" r="1.05" fill="#f6a040" fill-opacity="0.50" stroke="#b89a80" stroke-opacity="0.3" stroke-width="0.5"/>
<circle cx="205.7" cy="298.0" r="1.05" fill="#f6a040" fill-opacity="0.50" stroke="#b89a80" stroke-opacity="0.3" stroke-width="0.5"/>
<circle cx="202.6" cy="298.3" r="1.05" fill="#f6a040" fill-opacity="0.50" stroke="#b89a80" stroke-opacity="0.3" stroke-width="0.5"/>
<circle cx="204.8" cy="299.7" r="1.05" fill="#f6a040" fill-opacity="0.50" stroke="#b89a80" stroke-opacity="0.3" stroke-width="0.5"/>
<circle cx="202.0" cy="301.5" r="1.05" fill="#f6a040" fill-opacity="0.50" stroke="#b89a80" stroke-opacity="0.3" stroke-width="0.5"/>
<circle cx="205.4" cy="303.2" r="1.05" fill="#f6a040" fill-opacity="0.50" stroke="#b89a80" stroke-opacity="0.3" stroke-width="0.5"/>
<circle cx="202.5" cy="305.3" r="1.05" fill="#f6a040" fill-opacity="0.50" stroke="#b89a80" stroke-opacity="0.3" stroke-width="0.5"/>
<circle cx="302.7" cy="242.0" r="1.05" fill="#f6a040" fill-opacity="0.45" stroke="#b89a80" stroke-opacity="0.3" stroke-width="0.5"/>
<circle cx="301.5" cy="270.0" r="1.05" fill="#f6a040" fill-opacity="0.45" stroke="#b89a80" stroke-opacity="0.3" stroke-width="0.5"/>
<circle cx="302.5" cy="279.3" r="1.05" fill="#f6a040" fill-opacity="0.45" stroke="#b89a80" stroke-opacity="0.3" stroke-width="0.5"/>
<circle cx="303.5" cy="283.0" r="1.05" fill="#f6a040" fill-opacity="0.45" stroke="#b89a80" stroke-opacity="0.3" stroke-width="0.5"/>
<circle cx="300.5" cy="288.8" r="1.05" fill="#f6a040" fill-opacity="0.45" stroke="#b89a80" stroke-opacity="0.3" stroke-width="0.5"/>
<circle cx="302.4" cy="291.7" r="1.05" fill="#f6a040" fill-opacity="0.45" stroke="#b89a80" stroke-opacity="0.3" stroke-width="0.5"/>
<circle cx="303.0" cy="303.5" r="1.05" fill="#f6a040" fill-opacity="0.45" stroke="#b89a80" stroke-opacity="0.3" stroke-width="0.5"/>
<circle cx="302.5" cy="304.2" r="1.05" fill="#f6a040" fill-opacity="0.50" stroke="#b89a80" stroke-opacity="0.3" stroke-width="0.5"/>
<circle cx="301.2" cy="305.4" r="1.05" fill="#f6a040" fill-opacity="0.50" stroke="#b89a80" stroke-opacity="0.3" stroke-width="0.5"/>
<circle cx="297.3" cy="305.1" r="1.05" fill="#f6a040" fill-opacity="0.50" stroke="#b89a80" stroke-opacity="0.3" stroke-width="0.5"/>
<circle cx="278.6" cy="305.1" r="1.05" fill="#f6a040" fill-opacity="0.50" stroke="#b89a80" stroke-opacity="0.3" stroke-width="0.5"/>
<circle cx="281.6" cy="304.6" r="1.05" fill="#f6a040" fill-opacity="0.50" stroke="#b89a80" stroke-opacity="0.3" stroke-width="0.5"/>
<circle cx="280.8" cy="306.0" r="1.05" fill="#f6a040" fill-opacity="0.50" stroke="#b89a80" stroke-opacity="0.3" stroke-width="0.5"/>
<circle cx="369.6" cy="237.4" r="1.05" fill="#f6a040" fill-opacity="0.45" stroke="#b89a80" stroke-opacity="0.3" stroke-width="0.5"/>
<circle cx="370.5" cy="245.4" r="1.05" fill="#f6a040" fill-opacity="0.45" stroke="#b89a80" stroke-opacity="0.3" stroke-width="0.5"/>
<circle cx="369.0" cy="250.3" r="1.05" fill="#f6a040" fill-opacity="0.45" stroke="#b89a80" stroke-opacity="0.3" stroke-width="0.5"/>
<circle cx="369.6" cy="258.0" r="1.05" fill="#f6a040" fill-opacity="0.45" stroke="#b89a80" stroke-opacity="0.3" stroke-width="0.5"/>
<circle cx="370.8" cy="271.6" r="1.05" fill="#f6a040" fill-opacity="0.45" stroke="#b89a80" stroke-opacity="0.3" stroke-width="0.5"/>
<circle cx="369.5" cy="275.3" r="1.05" fill="#f6a040" fill-opacity="0.45" stroke="#b89a80" stroke-opacity="0.3" stroke-width="0.5"/>
<circle cx="371.0" cy="285.5" r="1.05" fill="#f6a040" fill-opacity="0.45" stroke="#b89a80" stroke-opacity="0.3" stroke-width="0.5"/>
<circle cx="369.5" cy="296.4" r="1.05" fill="#f6a040" fill-opacity="0.45" stroke="#b89a80" stroke-opacity="0.3" stroke-width="0.5"/>
<circle cx="371.1" cy="298.1" r="1.05" fill="#f6a040" fill-opacity="0.50" stroke="#b89a80" stroke-opacity="0.3" stroke-width="0.5"/>
<circle cx="371.1" cy="299.6" r="1.05" fill="#f6a040" fill-opacity="0.50" stroke="#b89a80" stroke-opacity="0.3" stroke-width="0.5"/>
<circle cx="368.5" cy="301.7" r="1.05" fill="#f6a040" fill-opacity="0.50" stroke="#b89a80" stroke-opacity="0.3" stroke-width="0.5"/>
<circle cx="371.4" cy="303.3" r="1.05" fill="#f6a040" fill-opacity="0.50" stroke="#b89a80" stroke-opacity="0.3" stroke-width="0.5"/>
<circle cx="367.4" cy="304.4" r="1.05" fill="#f6a040" fill-opacity="0.50" stroke="#b89a80" stroke-opacity="0.3" stroke-width="0.5"/>
<circle cx="388.0" cy="291.0" r="1.05" fill="#f6a040" fill-opacity="0.45" stroke="#b89a80" stroke-opacity="0.3" stroke-width="0.5"/>
<circle cx="389.5" cy="302.0" r="1.05" fill="#f6a040" fill-opacity="0.45" stroke="#b89a80" stroke-opacity="0.3" stroke-width="0.5"/>
<circle cx="386.4" cy="304.9" r="1.05" fill="#f6a040" fill-opacity="0.50" stroke="#b89a80" stroke-opacity="0.3" stroke-width="0.5"/>
<circle cx="386.0" cy="305.0" r="1.05" fill="#f6a040" fill-opacity="0.50" stroke="#b89a80" stroke-opacity="0.3" stroke-width="0.5"/>
<circle cx="458.1" cy="237.4" r="1.05" fill="#f6a040" fill-opacity="0.45" stroke="#b89a80" stroke-opacity="0.3" stroke-width="0.5"/>
<circle cx="456.6" cy="271.6" r="1.05" fill="#f6a040" fill-opacity="0.45" stroke="#b89a80" stroke-opacity="0.3" stroke-width="0.5"/>
<circle cx="457.0" cy="299.0" r="1.05" fill="#f6a040" fill-opacity="0.45" stroke="#b89a80" stroke-opacity="0.3" stroke-width="0.5"/>
<circle cx="456.2" cy="304.0" r="1.05" fill="#f6a040" fill-opacity="0.50" stroke="#b89a80" stroke-opacity="0.3" stroke-width="0.5"/>
<circle cx="456.8" cy="304.9" r="1.05" fill="#f6a040" fill-opacity="0.50" stroke="#b89a80" stroke-opacity="0.3" stroke-width="0.5"/>
<circle cx="456.7" cy="306.2" r="1.05" fill="#f6a040" fill-opacity="0.50" stroke="#b89a80" stroke-opacity="0.3" stroke-width="0.5"/>
<circle cx="476.3" cy="263.3" r="1.05" fill="#f6a040" fill-opacity="0.45" stroke="#b89a80" stroke-opacity="0.3" stroke-width="0.5"/>
<circle cx="479.0" cy="263.0" r="1.05" fill="#f6a040" fill-opacity="0.45" stroke="#b89a80" stroke-opacity="0.3" stroke-width="0.5"/>
<circle cx="480.3" cy="269.4" r="1.05" fill="#f6a040" fill-opacity="0.45" stroke="#b89a80" stroke-opacity="0.3" stroke-width="0.5"/>
<circle cx="478.0" cy="284.0" r="1.05" fill="#f6a040" fill-opacity="0.45" stroke="#b89a80" stroke-opacity="0.3" stroke-width="0.5"/>
<circle cx="478.5" cy="289.5" r="1.05" fill="#f6a040" fill-opacity="0.45" stroke="#b89a80" stroke-opacity="0.3" stroke-width="0.5"/>
<circle cx="477.0" cy="293.0" r="1.05" fill="#f6a040" fill-opacity="0.45" stroke="#b89a80" stroke-opacity="0.3" stroke-width="0.5"/>
<circle cx="476.7" cy="297.3" r="1.05" fill="#f6a040" fill-opacity="0.50" stroke="#b89a80" stroke-opacity="0.3" stroke-width="0.5"/>
<circle cx="475.9" cy="298.5" r="1.05" fill="#f6a040" fill-opacity="0.50" stroke="#b89a80" stroke-opacity="0.3" stroke-width="0.5"/>
<circle cx="475.9" cy="299.9" r="1.05" fill="#f6a040" fill-opacity="0.50" stroke="#b89a80" stroke-opacity="0.3" stroke-width="0.5"/>
<circle cx="478.6" cy="302.1" r="1.05" fill="#f6a040" fill-opacity="0.50" stroke="#b89a80" stroke-opacity="0.3" stroke-width="0.5"/>
<circle cx="478.2" cy="302.8" r="1.05" fill="#f6a040" fill-opacity="0.50" stroke="#b89a80" stroke-opacity="0.3" stroke-width="0.5"/>
<circle cx="476.3" cy="305.4" r="1.05" fill="#f6a040" fill-opacity="0.50" stroke="#b89a80" stroke-opacity="0.3" stroke-width="0.5"/>
<circle cx="86.9" cy="387.6" r="1.05" fill="#f6a040" fill-opacity="0.45" stroke="#b89a80" stroke-opacity="0.3" stroke-width="0.5"/>
<circle cx="89.9" cy="390.7" r="1.05" fill="#f6a040" fill-opacity="0.45" stroke="#b89a80" stroke-opacity="0.3" stroke-width="0.5"/>
<circle cx="87.6" cy="396.8" r="1.05" fill="#f6a040" fill-opacity="0.45" stroke="#b89a80" stroke-opacity="0.3" stroke-width="0.5"/>
<circle cx="88.1" cy="400.3" r="1.05" fill="#f6a040" fill-opacity="0.50" stroke="#b89a80" stroke-opacity="0.3" stroke-width="0.5"/>
<circle cx="90.5" cy="400.2" r="1.05" fill="#f6a040" fill-opacity="0.50" stroke="#b89a80" stroke-opacity="0.3" stroke-width="0.5"/>
<circle cx="88.5" cy="400.6" r="1.05" fill="#f6a040" fill-opacity="0.50" stroke="#b89a80" stroke-opacity="0.3" stroke-width="0.5"/>
<circle cx="108.2" cy="333.0" r="1.05" fill="#f6a040" fill-opacity="0.45" stroke="#b89a80" stroke-opacity="0.3" stroke-width="0.5"/>
<circle cx="108.8" cy="375.3" r="1.05" fill="#f6a040" fill-opacity="0.45" stroke="#b89a80" stroke-opacity="0.3" stroke-width="0.5"/>
<circle cx="106.5" cy="384.0" r="1.05" fill="#f6a040" fill-opacity="0.45" stroke="#b89a80" stroke-opacity="0.3" stroke-width="0.5"/>
<circle cx="109.3" cy="386.4" r="1.05" fill="#f6a040" fill-opacity="0.45" stroke="#b89a80" stroke-opacity="0.3" stroke-width="0.5"/>
<circle cx="108.3" cy="393.0" r="1.05" fill="#f6a040" fill-opacity="0.45" stroke="#b89a80" stroke-opacity="0.3" stroke-width="0.5"/>
<circle cx="111.0" cy="396.9" r="1.05" fill="#f6a040" fill-opacity="0.50" stroke="#b89a80" stroke-opacity="0.3" stroke-width="0.5"/>
<circle cx="110.3" cy="397.4" r="1.05" fill="#f6a040" fill-opacity="0.50" stroke="#b89a80" stroke-opacity="0.3" stroke-width="0.5"/>
<circle cx="109.3" cy="399.1" r="1.05" fill="#f6a040" fill-opacity="0.50" stroke="#b89a80" stroke-opacity="0.3" stroke-width="0.5"/>
<circle cx="107.8" cy="399.8" r="1.05" fill="#f6a040" fill-opacity="0.50" stroke="#b89a80" stroke-opacity="0.3" stroke-width="0.5"/>
<circle cx="181.9" cy="354.5" r="1.05" fill="#f6a040" fill-opacity="0.45" stroke="#b89a80" stroke-opacity="0.3" stroke-width="0.5"/>
<circle cx="185.0" cy="354.8" r="1.05" fill="#f6a040" fill-opacity="0.45" stroke="#b89a80" stroke-opacity="0.3" stroke-width="0.5"/>
<circle cx="183.2" cy="359.0" r="1.05" fill="#f6a040" fill-opacity="0.45" stroke="#b89a80" stroke-opacity="0.3" stroke-width="0.5"/>
<circle cx="182.7" cy="364.0" r="1.05" fill="#f6a040" fill-opacity="0.45" stroke="#b89a80" stroke-opacity="0.3" stroke-width="0.5"/>
<circle cx="184.1" cy="371.0" r="1.05" fill="#f6a040" fill-opacity="0.45" stroke="#b89a80" stroke-opacity="0.3" stroke-width="0.5"/>
<circle cx="182.9" cy="381.7" r="1.05" fill="#f6a040" fill-opacity="0.45" stroke="#b89a80" stroke-opacity="0.3" stroke-width="0.5"/>
<circle cx="183.4" cy="388.8" r="1.05" fill="#f6a040" fill-opacity="0.45" stroke="#b89a80" stroke-opacity="0.3" stroke-width="0.5"/>
<circle cx="183.5" cy="392.0" r="1.05" fill="#f6a040" fill-opacity="0.45" stroke="#b89a80" stroke-opacity="0.3" stroke-width="0.5"/>
<circle cx="181.6" cy="395.4" r="1.05" fill="#f6a040" fill-opacity="0.50" stroke="#b89a80" stroke-opacity="0.3" stroke-width="0.5"/>
<circle cx="184.7" cy="396.7" r="1.05" fill="#f6a040" fill-opacity="0.50" stroke="#b89a80" stroke-opacity="0.3" stroke-width="0.5"/>
<circle cx="181.8" cy="398.2" r="1.05" fill="#f6a040" fill-opacity="0.50" stroke="#b89a80" stroke-opacity="0.3" stroke-width="0.5"/>
<circle cx="185.2" cy="399.2" r="1.05" fill="#f6a040" fill-opacity="0.50" stroke="#b89a80" stroke-opacity="0.3" stroke-width="0.5"/>
<circle cx="203.2" cy="393.6" r="1.05" fill="#f6a040" fill-opacity="0.45" stroke="#b89a80" stroke-opacity="0.3" stroke-width="0.5"/>
<circle cx="203.5" cy="397.5" r="1.05" fill="#f6a040" fill-opacity="0.45" stroke="#b89a80" stroke-opacity="0.3" stroke-width="0.5"/>
<circle cx="204.8" cy="400.3" r="1.05" fill="#f6a040" fill-opacity="0.50" stroke="#b89a80" stroke-opacity="0.3" stroke-width="0.5"/>
<circle cx="202.3" cy="399.9" r="1.05" fill="#f6a040" fill-opacity="0.50" stroke="#b89a80" stroke-opacity="0.3" stroke-width="0.5"/>
<circle cx="203.6" cy="400.4" r="1.05" fill="#f6a040" fill-opacity="0.50" stroke="#b89a80" stroke-opacity="0.3" stroke-width="0.5"/>
<circle cx="277.2" cy="382.2" r="1.05" fill="#f6a040" fill-opacity="0.45" stroke="#b89a80" stroke-opacity="0.3" stroke-width="0.5"/>
<circle cx="278.2" cy="399.2" r="1.05" fill="#f6a040" fill-opacity="0.50" stroke="#b89a80" stroke-opacity="0.3" stroke-width="0.5"/>
<circle cx="281.3" cy="399.9" r="1.05" fill="#f6a040" fill-opacity="0.50" stroke="#b89a80" stroke-opacity="0.3" stroke-width="0.5"/>
<circle cx="278.8" cy="401.5" r="1.05" fill="#f6a040" fill-opacity="0.50" stroke="#b89a80" stroke-opacity="0.3" stroke-width="0.5"/>
<circle cx="298.0" cy="338.8" r="1.05" fill="#f6a040" fill-opacity="0.45" stroke="#b89a80" stroke-opacity="0.3" stroke-width="0.5"/>
<circle cx="298.8" cy="354.5" r="1.05" fill="#f6a040" fill-opacity="0.45" stroke="#b89a80" stroke-opacity="0.3" stroke-width="0.5"/>
<circle cx="297.6" cy="361.3" r="1.05" fill="#f6a040" fill-opacity="0.45" stroke="#b89a80" stroke-opacity="0.3" stroke-width="0.5"/>
<circle cx="299.6" cy="364.5" r="1.05" fill="#f6a040" fill-opacity="0.45" stroke="#b89a80" stroke-opacity="0.3" stroke-width="0.5"/>
<circle cx="300.5" cy="373.8" r="1.05" fill="#f6a040" fill-opacity="0.45" stroke="#b89a80" stroke-opacity="0.3" stroke-width="0.5"/>
<circle cx="297.4" cy="378.8" r="1.05" fill="#f6a040" fill-opacity="0.45" stroke="#b89a80" stroke-opacity="0.3" stroke-width="0.5"/>
<circle cx="299.5" cy="391.5" r="1.05" fill="#f6a040" fill-opacity="0.45" stroke="#b89a80" stroke-opacity="0.3" stroke-width="0.5"/>
<circle cx="299.0" cy="396.0" r="1.05" fill="#f6a040" fill-opacity="0.45" stroke="#b89a80" stroke-opacity="0.3" stroke-width="0.5"/>
<circle cx="301.1" cy="397.2" r="1.05" fill="#f6a040" fill-opacity="0.50" stroke="#b89a80" stroke-opacity="0.3" stroke-width="0.5"/>
<circle cx="298.1" cy="398.4" r="1.05" fill="#f6a040" fill-opacity="0.50" stroke="#b89a80" stroke-opacity="0.3" stroke-width="0.5"/>
<circle cx="298.2" cy="399.1" r="1.05" fill="#f6a040" fill-opacity="0.50" stroke="#b89a80" stroke-opacity="0.3" stroke-width="0.5"/>
<circle cx="371.6" cy="371.0" r="1.05" fill="#f6a040" fill-opacity="0.45" stroke="#b89a80" stroke-opacity="0.3" stroke-width="0.5"/>
<circle cx="371.3" cy="399.7" r="1.05" fill="#f6a040" fill-opacity="0.50" stroke="#b89a80" stroke-opacity="0.3" stroke-width="0.5"/>
<circle cx="371.3" cy="399.8" r="1.05" fill="#f6a040" fill-opacity="0.50" stroke="#b89a80" stroke-opacity="0.3" stroke-width="0.5"/>
<circle cx="369.9" cy="400.0" r="1.05" fill="#f6a040" fill-opacity="0.50" stroke="#b89a80" stroke-opacity="0.3" stroke-width="0.5"/>
<circle cx="391.4" cy="333.0" r="1.05" fill="#f6a040" fill-opacity="0.45" stroke="#b89a80" stroke-opacity="0.3" stroke-width="0.5"/>
<circle cx="391.0" cy="357.5" r="1.05" fill="#f6a040" fill-opacity="0.45" stroke="#b89a80" stroke-opacity="0.3" stroke-width="0.5"/>
<circle cx="393.3" cy="360.0" r="1.05" fill="#f6a040" fill-opacity="0.45" stroke="#b89a80" stroke-opacity="0.3" stroke-width="0.5"/>
<circle cx="391.0" cy="363.0" r="1.05" fill="#f6a040" fill-opacity="0.45" stroke="#b89a80" stroke-opacity="0.3" stroke-width="0.5"/>
<circle cx="390.8" cy="366.0" r="1.05" fill="#f6a040" fill-opacity="0.45" stroke="#b89a80" stroke-opacity="0.3" stroke-width="0.5"/>
<circle cx="391.0" cy="379.3" r="1.05" fill="#f6a040" fill-opacity="0.45" stroke="#b89a80" stroke-opacity="0.3" stroke-width="0.5"/>
<circle cx="391.0" cy="387.3" r="1.05" fill="#f6a040" fill-opacity="0.45" stroke="#b89a80" stroke-opacity="0.3" stroke-width="0.5"/>
<circle cx="393.6" cy="397.5" r="1.05" fill="#f6a040" fill-opacity="0.45" stroke="#b89a80" stroke-opacity="0.3" stroke-width="0.5"/>
<circle cx="391.9" cy="399.1" r="1.05" fill="#f6a040" fill-opacity="0.50" stroke="#b89a80" stroke-opacity="0.3" stroke-width="0.5"/>
<circle cx="389.6" cy="399.5" r="1.05" fill="#f6a040" fill-opacity="0.50" stroke="#b89a80" stroke-opacity="0.3" stroke-width="0.5"/>
<circle cx="390.9" cy="400.4" r="1.05" fill="#f6a040" fill-opacity="0.50" stroke="#b89a80" stroke-opacity="0.3" stroke-width="0.5"/>
<circle cx="459.3" cy="354.5" r="1.05" fill="#f6a040" fill-opacity="0.45" stroke="#b89a80" stroke-opacity="0.3" stroke-width="0.5"/>
<circle cx="456.0" cy="391.0" r="1.05" fill="#f6a040" fill-opacity="0.45" stroke="#b89a80" stroke-opacity="0.3" stroke-width="0.5"/>
<circle cx="459.8" cy="391.2" r="1.05" fill="#f6a040" fill-opacity="0.45" stroke="#b89a80" stroke-opacity="0.3" stroke-width="0.5"/>
<circle cx="457.0" cy="396.5" r="1.05" fill="#f6a040" fill-opacity="0.45" stroke="#b89a80" stroke-opacity="0.3" stroke-width="0.5"/>
<circle cx="458.0" cy="399.9" r="1.05" fill="#f6a040" fill-opacity="0.50" stroke="#b89a80" stroke-opacity="0.3" stroke-width="0.5"/>
<circle cx="458.7" cy="400.7" r="1.05" fill="#f6a040" fill-opacity="0.50" stroke="#b89a80" stroke-opacity="0.3" stroke-width="0.5"/>
<circle cx="460.1" cy="401.1" r="1.05" fill="#f6a040" fill-opacity="0.50" stroke="#b89a80" stroke-opacity="0.3" stroke-width="0.5"/>
<circle cx="480.0" cy="338.3" r="1.05" fill="#f6a040" fill-opacity="0.45" stroke="#b89a80" stroke-opacity="0.3" stroke-width="0.5"/>
<circle cx="478.0" cy="366.0" r="1.05" fill="#f6a040" fill-opacity="0.45" stroke="#b89a80" stroke-opacity="0.3" stroke-width="0.5"/>
<circle cx="477.5" cy="378.0" r="1.05" fill="#f6a040" fill-opacity="0.45" stroke="#b89a80" stroke-opacity="0.3" stroke-width="0.5"/>
<circle cx="479.4" cy="380.5" r="1.05" fill="#f6a040" fill-opacity="0.45" stroke="#b89a80" stroke-opacity="0.3" stroke-width="0.5"/>
<circle cx="477.6" cy="383.5" r="1.05" fill="#f6a040" fill-opacity="0.45" stroke="#b89a80" stroke-opacity="0.3" stroke-width="0.5"/>
<circle cx="478.0" cy="391.5" r="1.05" fill="#f6a040" fill-opacity="0.45" stroke="#b89a80" stroke-opacity="0.3" stroke-width="0.5"/>
<circle cx="477.1" cy="396.4" r="1.05" fill="#f6a040" fill-opacity="0.50" stroke="#b89a80" stroke-opacity="0.3" stroke-width="0.5"/>
<circle cx="476.2" cy="398.5" r="1.05" fill="#f6a040" fill-opacity="0.50" stroke="#b89a80" stroke-opacity="0.3" stroke-width="0.5"/>
<circle cx="478.7" cy="399.2" r="1.05" fill="#f6a040" fill-opacity="0.50" stroke="#b89a80" stroke-opacity="0.3" stroke-width="0.5"/>
<circle cx="479.7" cy="399.2" r="1.05" fill="#f6a040" fill-opacity="0.50" stroke="#b89a80" stroke-opacity="0.3" stroke-width="0.5"/>
<circle cx="88.0" cy="427.5" r="1.05" fill="#f6a040" fill-opacity="0.45" stroke="#b89a80" stroke-opacity="0.3" stroke-width="0.5"/>
<circle cx="90.2" cy="444.7" r="1.05" fill="#f6a040" fill-opacity="0.45" stroke="#b89a80" stroke-opacity="0.3" stroke-width="0.5"/>
<circle cx="88.9" cy="449.3" r="1.05" fill="#f6a040" fill-opacity="0.45" stroke="#b89a80" stroke-opacity="0.3" stroke-width="0.5"/>
<circle cx="87.7" cy="462.6" r="1.05" fill="#f6a040" fill-opacity="0.45" stroke="#b89a80" stroke-opacity="0.3" stroke-width="0.5"/>
<circle cx="87.2" cy="478.3" r="1.05" fill="#f6a040" fill-opacity="0.45" stroke="#b89a80" stroke-opacity="0.3" stroke-width="0.5"/>
<circle cx="88.5" cy="488.4" r="1.05" fill="#f6a040" fill-opacity="0.45" stroke="#b89a80" stroke-opacity="0.3" stroke-width="0.5"/>
<circle cx="87.6" cy="492.7" r="1.05" fill="#f6a040" fill-opacity="0.45" stroke="#b89a80" stroke-opacity="0.3" stroke-width="0.5"/>
<circle cx="89.6" cy="495.5" r="1.05" fill="#f6a040" fill-opacity="0.50" stroke="#b89a80" stroke-opacity="0.3" stroke-width="0.5"/>
<circle cx="90.7" cy="495.9" r="1.05" fill="#f6a040" fill-opacity="0.50" stroke="#b89a80" stroke-opacity="0.3" stroke-width="0.5"/>
<circle cx="88.9" cy="495.6" r="1.05" fill="#f6a040" fill-opacity="0.50" stroke="#b89a80" stroke-opacity="0.3" stroke-width="0.5"/>
<circle cx="110.3" cy="427.6" r="1.05" fill="#f6a040" fill-opacity="0.45" stroke="#b89a80" stroke-opacity="0.3" stroke-width="0.5"/>
<circle cx="108.5" cy="431.5" r="1.05" fill="#f6a040" fill-opacity="0.45" stroke="#b89a80" stroke-opacity="0.3" stroke-width="0.5"/>
<circle cx="109.8" cy="437.0" r="1.05" fill="#f6a040" fill-opacity="0.45" stroke="#b89a80" stroke-opacity="0.3" stroke-width="0.5"/>
<circle cx="110.0" cy="440.5" r="1.05" fill="#f6a040" fill-opacity="0.45" stroke="#b89a80" stroke-opacity="0.3" stroke-width="0.5"/>
<circle cx="108.2" cy="444.3" r="1.05" fill="#f6a040" fill-opacity="0.45" stroke="#b89a80" stroke-opacity="0.3" stroke-width="0.5"/>
<circle cx="107.0" cy="452.0" r="1.05" fill="#f6a040" fill-opacity="0.45" stroke="#b89a80" stroke-opacity="0.3" stroke-width="0.5"/>
<circle cx="109.5" cy="455.5" r="1.05" fill="#f6a040" fill-opacity="0.45" stroke="#b89a80" stroke-opacity="0.3" stroke-width="0.5"/>
<circle cx="110.3" cy="479.5" r="1.05" fill="#f6a040" fill-opacity="0.50" stroke="#b89a80" stroke-opacity="0.3" stroke-width="0.5"/>
<circle cx="110.2" cy="481.8" r="1.05" fill="#f6a040" fill-opacity="0.50" stroke="#b89a80" stroke-opacity="0.3" stroke-width="0.5"/>
<circle cx="110.5" cy="483.4" r="1.05" fill="#f6a040" fill-opacity="0.50" stroke="#b89a80" stroke-opacity="0.3" stroke-width="0.5"/>
<circle cx="109.7" cy="485.4" r="1.05" fill="#f6a040" fill-opacity="0.50" stroke="#b89a80" stroke-opacity="0.3" stroke-width="0.5"/>
<circle cx="106.7" cy="486.6" r="1.05" fill="#f6a040" fill-opacity="0.50" stroke="#b89a80" stroke-opacity="0.3" stroke-width="0.5"/>
<circle cx="108.2" cy="488.3" r="1.05" fill="#f6a040" fill-opacity="0.50" stroke="#b89a80" stroke-opacity="0.3" stroke-width="0.5"/>
<circle cx="110.3" cy="490.1" r="1.05" fill="#f6a040" fill-opacity="0.50" stroke="#b89a80" stroke-opacity="0.3" stroke-width="0.5"/>
<circle cx="109.4" cy="492.8" r="1.05" fill="#f6a040" fill-opacity="0.50" stroke="#b89a80" stroke-opacity="0.3" stroke-width="0.5"/>
<circle cx="109.6" cy="494.8" r="1.05" fill="#f6a040" fill-opacity="0.50" stroke="#b89a80" stroke-opacity="0.3" stroke-width="0.5"/>
<circle cx="183.5" cy="488.8" r="1.05" fill="#f6a040" fill-opacity="0.45" stroke="#b89a80" stroke-opacity="0.3" stroke-width="0.5"/>
<circle cx="185.0" cy="491.5" r="1.05" fill="#f6a040" fill-opacity="0.45" stroke="#b89a80" stroke-opacity="0.3" stroke-width="0.5"/>
<circle cx="180.8" cy="494.8" r="1.05" fill="#f6a040" fill-opacity="0.50" stroke="#b89a80" stroke-opacity="0.3" stroke-width="0.5"/>
<circle cx="185.3" cy="496.0" r="1.05" fill="#f6a040" fill-opacity="0.50" stroke="#b89a80" stroke-opacity="0.3" stroke-width="0.5"/>
<circle cx="184.0" cy="496.2" r="1.05" fill="#f6a040" fill-opacity="0.50" stroke="#b89a80" stroke-opacity="0.3" stroke-width="0.5"/>
<circle cx="204.5" cy="427.5" r="1.05" fill="#f6a040" fill-opacity="0.45" stroke="#b89a80" stroke-opacity="0.3" stroke-width="0.5"/>
<circle cx="203.3" cy="441.3" r="1.05" fill="#f6a040" fill-opacity="0.45" stroke="#b89a80" stroke-opacity="0.3" stroke-width="0.5"/>
<circle cx="203.2" cy="461.0" r="1.05" fill="#f6a040" fill-opacity="0.45" stroke="#b89a80" stroke-opacity="0.3" stroke-width="0.5"/>
<circle cx="202.9" cy="467.2" r="1.05" fill="#f6a040" fill-opacity="0.45" stroke="#b89a80" stroke-opacity="0.3" stroke-width="0.5"/>
<circle cx="203.5" cy="472.6" r="1.05" fill="#f6a040" fill-opacity="0.45" stroke="#b89a80" stroke-opacity="0.3" stroke-width="0.5"/>
<circle cx="205.0" cy="483.5" r="1.05" fill="#f6a040" fill-opacity="0.45" stroke="#b89a80" stroke-opacity="0.3" stroke-width="0.5"/>
<circle cx="204.0" cy="487.0" r="1.05" fill="#f6a040" fill-opacity="0.45" stroke="#b89a80" stroke-opacity="0.3" stroke-width="0.5"/>
<circle cx="204.0" cy="490.0" r="1.05" fill="#f6a040" fill-opacity="0.45" stroke="#b89a80" stroke-opacity="0.3" stroke-width="0.5"/>
<circle cx="201.8" cy="492.0" r="1.05" fill="#f6a040" fill-opacity="0.50" stroke="#b89a80" stroke-opacity="0.3" stroke-width="0.5"/>
<circle cx="202.8" cy="493.6" r="1.05" fill="#f6a040" fill-opacity="0.50" stroke="#b89a80" stroke-opacity="0.3" stroke-width="0.5"/>
<circle cx="202.8" cy="494.1" r="1.05" fill="#f6a040" fill-opacity="0.50" stroke="#b89a80" stroke-opacity="0.3" stroke-width="0.5"/>
<circle cx="277.6" cy="471.0" r="1.05" fill="#f6a040" fill-opacity="0.45" stroke="#b89a80" stroke-opacity="0.3" stroke-width="0.5"/>
<circle cx="280.5" cy="469.5" r="1.05" fill="#f6a040" fill-opacity="0.45" stroke="#b89a80" stroke-opacity="0.3" stroke-width="0.5"/>
<circle cx="278.0" cy="481.2" r="1.05" fill="#f6a040" fill-opacity="0.45" stroke="#b89a80" stroke-opacity="0.3" stroke-width="0.5"/>
<circle cx="277.5" cy="483.5" r="1.05" fill="#f6a040" fill-opacity="0.45" stroke="#b89a80" stroke-opacity="0.3" stroke-width="0.5"/>
<circle cx="277.8" cy="488.6" r="1.05" fill="#f6a040" fill-opacity="0.45" stroke="#b89a80" stroke-opacity="0.3" stroke-width="0.5"/>
<circle cx="277.2" cy="495.2" r="1.05" fill="#f6a040" fill-opacity="0.50" stroke="#b89a80" stroke-opacity="0.3" stroke-width="0.5"/>
<circle cx="281.9" cy="495.9" r="1.05" fill="#f6a040" fill-opacity="0.50" stroke="#b89a80" stroke-opacity="0.3" stroke-width="0.5"/>
<circle cx="278.3" cy="496.2" r="1.05" fill="#f6a040" fill-opacity="0.50" stroke="#b89a80" stroke-opacity="0.3" stroke-width="0.5"/>
<circle cx="301.6" cy="427.6" r="1.05" fill="#f6a040" fill-opacity="0.45" stroke="#b89a80" stroke-opacity="0.3" stroke-width="0.5"/>
<circle cx="298.5" cy="440.7" r="1.05" fill="#f6a040" fill-opacity="0.45" stroke="#b89a80" stroke-opacity="0.3" stroke-width="0.5"/>
<circle cx="297.5" cy="450.4" r="1.05" fill="#f6a040" fill-opacity="0.45" stroke="#b89a80" stroke-opacity="0.3" stroke-width="0.5"/>
<circle cx="300.6" cy="464.0" r="1.05" fill="#f6a040" fill-opacity="0.45" stroke="#b89a80" stroke-opacity="0.3" stroke-width="0.5"/>
<circle cx="299.8" cy="465.6" r="1.05" fill="#f6a040" fill-opacity="0.45" stroke="#b89a80" stroke-opacity="0.3" stroke-width="0.5"/>
<circle cx="299.9" cy="484.8" r="1.05" fill="#f6a040" fill-opacity="0.50" stroke="#b89a80" stroke-opacity="0.3" stroke-width="0.5"/>
<circle cx="299.6" cy="486.9" r="1.05" fill="#f6a040" fill-opacity="0.50" stroke="#b89a80" stroke-opacity="0.3" stroke-width="0.5"/>
<circle cx="296.9" cy="488.3" r="1.05" fill="#f6a040" fill-opacity="0.50" stroke="#b89a80" stroke-opacity="0.3" stroke-width="0.5"/>
<circle cx="297.8" cy="489.2" r="1.05" fill="#f6a040" fill-opacity="0.50" stroke="#b89a80" stroke-opacity="0.3" stroke-width="0.5"/>
<circle cx="298.0" cy="491.8" r="1.05" fill="#f6a040" fill-opacity="0.50" stroke="#b89a80" stroke-opacity="0.3" stroke-width="0.5"/>
<circle cx="296.6" cy="493.1" r="1.05" fill="#f6a040" fill-opacity="0.50" stroke="#b89a80" stroke-opacity="0.3" stroke-width="0.5"/>
<circle cx="297.8" cy="494.0" r="1.05" fill="#f6a040" fill-opacity="0.50" stroke="#b89a80" stroke-opacity="0.3" stroke-width="0.5"/>
<circle cx="370.5" cy="471.0" r="1.05" fill="#f6a040" fill-opacity="0.45" stroke="#b89a80" stroke-opacity="0.3" stroke-width="0.5"/>
<circle cx="371.2" cy="474.5" r="1.05" fill="#f6a040" fill-opacity="0.45" stroke="#b89a80" stroke-opacity="0.3" stroke-width="0.5"/>
<circle cx="369.8" cy="478.5" r="1.05" fill="#f6a040" fill-opacity="0.45" stroke="#b89a80" stroke-opacity="0.3" stroke-width="0.5"/>
<circle cx="371.0" cy="481.0" r="1.05" fill="#f6a040" fill-opacity="0.45" stroke="#b89a80" stroke-opacity="0.3" stroke-width="0.5"/>
<circle cx="371.0" cy="489.0" r="1.05" fill="#f6a040" fill-opacity="0.50" stroke="#b89a80" stroke-opacity="0.3" stroke-width="0.5"/>
<circle cx="369.0" cy="490.5" r="1.05" fill="#f6a040" fill-opacity="0.50" stroke="#b89a80" stroke-opacity="0.3" stroke-width="0.5"/>
<circle cx="369.8" cy="491.8" r="1.05" fill="#f6a040" fill-opacity="0.50" stroke="#b89a80" stroke-opacity="0.3" stroke-width="0.5"/>
<circle cx="368.1" cy="493.2" r="1.05" fill="#f6a040" fill-opacity="0.50" stroke="#b89a80" stroke-opacity="0.3" stroke-width="0.5"/>
<circle cx="368.5" cy="495.4" r="1.05" fill="#f6a040" fill-opacity="0.50" stroke="#b89a80" stroke-opacity="0.3" stroke-width="0.5"/>
<circle cx="392.0" cy="430.6" r="1.05" fill="#f6a040" fill-opacity="0.45" stroke="#b89a80" stroke-opacity="0.3" stroke-width="0.5"/>
<circle cx="390.6" cy="437.0" r="1.05" fill="#f6a040" fill-opacity="0.45" stroke="#b89a80" stroke-opacity="0.3" stroke-width="0.5"/>
<circle cx="390.5" cy="445.5" r="1.05" fill="#f6a040" fill-opacity="0.45" stroke="#b89a80" stroke-opacity="0.3" stroke-width="0.5"/>
<circle cx="390.3" cy="467.0" r="1.05" fill="#f6a040" fill-opacity="0.45" stroke="#b89a80" stroke-opacity="0.3" stroke-width="0.5"/>
<circle cx="392.4" cy="474.2" r="1.05" fill="#f6a040" fill-opacity="0.50" stroke="#b89a80" stroke-opacity="0.3" stroke-width="0.5"/>
<circle cx="390.3" cy="474.6" r="1.05" fill="#f6a040" fill-opacity="0.50" stroke="#b89a80" stroke-opacity="0.3" stroke-width="0.5"/>
<circle cx="392.6" cy="477.8" r="1.05" fill="#f6a040" fill-opacity="0.50" stroke="#b89a80" stroke-opacity="0.3" stroke-width="0.5"/>
<circle cx="389.5" cy="479.1" r="1.05" fill="#f6a040" fill-opacity="0.50" stroke="#b89a80" stroke-opacity="0.3" stroke-width="0.5"/>
<circle cx="392.5" cy="480.7" r="1.05" fill="#f6a040" fill-opacity="0.50" stroke="#b89a80" stroke-opacity="0.3" stroke-width="0.5"/>
<circle cx="390.9" cy="482.6" r="1.05" fill="#f6a040" fill-opacity="0.50" stroke="#b89a80" stroke-opacity="0.3" stroke-width="0.5"/>
<circle cx="390.6" cy="484.4" r="1.05" fill="#f6a040" fill-opacity="0.50" stroke="#b89a80" stroke-opacity="0.3" stroke-width="0.5"/>
<circle cx="388.9" cy="487.6" r="1.05" fill="#f6a040" fill-opacity="0.50" stroke="#b89a80" stroke-opacity="0.3" stroke-width="0.5"/>
<circle cx="390.5" cy="489.3" r="1.05" fill="#f6a040" fill-opacity="0.50" stroke="#b89a80" stroke-opacity="0.3" stroke-width="0.5"/>
<circle cx="391.4" cy="491.3" r="1.05" fill="#f6a040" fill-opacity="0.50" stroke="#b89a80" stroke-opacity="0.3" stroke-width="0.5"/>
<circle cx="392.2" cy="492.2" r="1.05" fill="#f6a040" fill-opacity="0.50" stroke="#b89a80" stroke-opacity="0.3" stroke-width="0.5"/>
<circle cx="388.4" cy="494.5" r="1.05" fill="#f6a040" fill-opacity="0.50" stroke="#b89a80" stroke-opacity="0.3" stroke-width="0.5"/>
<circle cx="169.5" cy="32.6" r="1.05" fill="#f6a040" fill-opacity="0.41" stroke="#b89a80" stroke-opacity="0.3" stroke-width="0.5"/>
<circle cx="168.9" cy="36.0" r="1.05" fill="#f6a040" fill-opacity="0.41" stroke="#b89a80" stroke-opacity="0.3" stroke-width="0.5"/>
<circle cx="169.0" cy="38.2" r="1.05" fill="#f6a040" fill-opacity="0.41" stroke="#b89a80" stroke-opacity="0.3" stroke-width="0.5"/>
<circle cx="170.6" cy="41.2" r="1.05" fill="#f6a040" fill-opacity="0.41" stroke="#b89a80" stroke-opacity="0.3" stroke-width="0.5"/>
<circle cx="170.3" cy="43.4" r="1.05" fill="#f6a040" fill-opacity="0.41" stroke="#b89a80" stroke-opacity="0.3" stroke-width="0.5"/>
<circle cx="168.3" cy="47.5" r="1.05" fill="#f6a040" fill-opacity="0.41" stroke="#b89a80" stroke-opacity="0.3" stroke-width="0.5"/>
<circle cx="170.2" cy="50.3" r="1.05" fill="#f6a040" fill-opacity="0.41" stroke="#b89a80" stroke-opacity="0.3" stroke-width="0.5"/>
<circle cx="168.8" cy="53.0" r="1.05" fill="#f6a040" fill-opacity="0.41" stroke="#b89a80" stroke-opacity="0.3" stroke-width="0.5"/>
<circle cx="169.2" cy="54.9" r="1.05" fill="#f6a040" fill-opacity="0.41" stroke="#b89a80" stroke-opacity="0.3" stroke-width="0.5"/>
<circle cx="169.8" cy="58.6" r="1.05" fill="#f6a040" fill-opacity="0.41" stroke="#b89a80" stroke-opacity="0.3" stroke-width="0.5"/>
<circle cx="169.3" cy="60.3" r="1.05" fill="#f6a040" fill-opacity="0.41" stroke="#b89a80" stroke-opacity="0.3" stroke-width="0.5"/>
<circle cx="168.1" cy="62.9" r="1.05" fill="#f6a040" fill-opacity="0.41" stroke="#b89a80" stroke-opacity="0.3" stroke-width="0.5"/>
<circle cx="170.6" cy="65.3" r="1.05" fill="#f6a040" fill-opacity="0.41" stroke="#b89a80" stroke-opacity="0.3" stroke-width="0.5"/>
<circle cx="170.9" cy="68.3" r="1.05" fill="#f6a040" fill-opacity="0.41" stroke="#b89a80" stroke-opacity="0.3" stroke-width="0.5"/>
<circle cx="250.7" cy="57.0" r="1.05" fill="#f6a040" fill-opacity="0.41" stroke="#b89a80" stroke-opacity="0.3" stroke-width="0.5"/>
<circle cx="250.4" cy="60.4" r="1.05" fill="#f6a040" fill-opacity="0.41" stroke="#b89a80" stroke-opacity="0.3" stroke-width="0.5"/>
<circle cx="253.1" cy="63.0" r="1.05" fill="#f6a040" fill-opacity="0.41" stroke="#b89a80" stroke-opacity="0.3" stroke-width="0.5"/>
<circle cx="252.6" cy="66.8" r="1.05" fill="#f6a040" fill-opacity="0.41" stroke="#b89a80" stroke-opacity="0.3" stroke-width="0.5"/>
<circle cx="253.0" cy="69.3" r="1.05" fill="#f6a040" fill-opacity="0.41" stroke="#b89a80" stroke-opacity="0.3" stroke-width="0.5"/>
<circle cx="251.7" cy="72.7" r="1.05" fill="#f6a040" fill-opacity="0.41" stroke="#b89a80" stroke-opacity="0.3" stroke-width="0.5"/>
<circle cx="249.9" cy="75.2" r="1.05" fill="#f6a040" fill-opacity="0.41" stroke="#b89a80" stroke-opacity="0.3" stroke-width="0.5"/>
<circle cx="251.3" cy="78.1" r="1.05" fill="#f6a040" fill-opacity="0.41" stroke="#b89a80" stroke-opacity="0.3" stroke-width="0.5"/>
<circle cx="252.0" cy="81.1" r="1.05" fill="#f6a040" fill-opacity="0.41" stroke="#b89a80" stroke-opacity="0.3" stroke-width="0.5"/>
<circle cx="249.9" cy="83.2" r="1.05" fill="#f6a040" fill-opacity="0.41" stroke="#b89a80" stroke-opacity="0.3" stroke-width="0.5"/>
<circle cx="417.4" cy="35.1" r="1.05" fill="#f6a040" fill-opacity="0.41" stroke="#b89a80" stroke-opacity="0.3" stroke-width="0.5"/>
<circle cx="418.1" cy="37.3" r="1.05" fill="#f6a040" fill-opacity="0.41" stroke="#b89a80" stroke-opacity="0.3" stroke-width="0.5"/>
<circle cx="419.4" cy="40.0" r="1.05" fill="#f6a040" fill-opacity="0.41" stroke="#b89a80" stroke-opacity="0.3" stroke-width="0.5"/>
<circle cx="417.8" cy="44.0" r="1.05" fill="#f6a040" fill-opacity="0.41" stroke="#b89a80" stroke-opacity="0.3" stroke-width="0.5"/>
<circle cx="418.0" cy="46.4" r="1.05" fill="#f6a040" fill-opacity="0.41" stroke="#b89a80" stroke-opacity="0.3" stroke-width="0.5"/>
<circle cx="418.3" cy="49.1" r="1.05" fill="#f6a040" fill-opacity="0.41" stroke="#b89a80" stroke-opacity="0.3" stroke-width="0.5"/>
<circle cx="417.5" cy="51.4" r="1.05" fill="#f6a040" fill-opacity="0.41" stroke="#b89a80" stroke-opacity="0.3" stroke-width="0.5"/>
<circle cx="419.9" cy="54.4" r="1.05" fill="#f6a040" fill-opacity="0.41" stroke="#b89a80" stroke-opacity="0.3" stroke-width="0.5"/>
<circle cx="417.7" cy="57.8" r="1.05" fill="#f6a040" fill-opacity="0.41" stroke="#b89a80" stroke-opacity="0.3" stroke-width="0.5"/>
<circle cx="420.2" cy="61.4" r="1.05" fill="#f6a040" fill-opacity="0.41" stroke="#b89a80" stroke-opacity="0.3" stroke-width="0.5"/>
<circle cx="417.4" cy="63.5" r="1.05" fill="#f6a040" fill-opacity="0.41" stroke="#b89a80" stroke-opacity="0.3" stroke-width="0.5"/>
<circle cx="417.3" cy="66.0" r="1.05" fill="#f6a040" fill-opacity="0.41" stroke="#b89a80" stroke-opacity="0.3" stroke-width="0.5"/>
<circle cx="397.2" cy="73.2" r="1.05" fill="#f6a040" fill-opacity="0.41" stroke="#b89a80" stroke-opacity="0.3" stroke-width="0.5"/>
<circle cx="397.7" cy="76.1" r="1.05" fill="#f6a040" fill-opacity="0.41" stroke="#b89a80" stroke-opacity="0.3" stroke-width="0.5"/>
<circle cx="399.7" cy="79.6" r="1.05" fill="#f6a040" fill-opacity="0.41" stroke="#b89a80" stroke-opacity="0.3" stroke-width="0.5"/>
<circle cx="398.2" cy="82.9" r="1.05" fill="#f6a040" fill-opacity="0.41" stroke="#b89a80" stroke-opacity="0.3" stroke-width="0.5"/>
<circle cx="398.6" cy="85.4" r="1.05" fill="#f6a040" fill-opacity="0.41" stroke="#b89a80" stroke-opacity="0.3" stroke-width="0.5"/>
<circle cx="332.8" cy="172.6" r="1.05" fill="#f6a040" fill-opacity="0.41" stroke="#b89a80" stroke-opacity="0.3" stroke-width="0.5"/>
<circle cx="332.6" cy="175.5" r="1.05" fill="#f6a040" fill-opacity="0.41" stroke="#b89a80" stroke-opacity="0.3" stroke-width="0.5"/>
<circle cx="332.1" cy="180.5" r="1.05" fill="#f6a040" fill-opacity="0.41" stroke="#b89a80" stroke-opacity="0.3" stroke-width="0.5"/>
<circle cx="333.7" cy="183.3" r="1.05" fill="#f6a040" fill-opacity="0.41" stroke="#b89a80" stroke-opacity="0.3" stroke-width="0.5"/>
<circle cx="202.6" cy="264.4" r="1.05" fill="#f6a040" fill-opacity="0.41" stroke="#b89a80" stroke-opacity="0.3" stroke-width="0.5"/>
<circle cx="202.7" cy="267.1" r="1.05" fill="#f6a040" fill-opacity="0.41" stroke="#b89a80" stroke-opacity="0.3" stroke-width="0.5"/>
<circle cx="203.4" cy="270.9" r="1.05" fill="#f6a040" fill-opacity="0.41" stroke="#b89a80" stroke-opacity="0.3" stroke-width="0.5"/>
<circle cx="204.9" cy="275.4" r="1.05" fill="#f6a040" fill-opacity="0.41" stroke="#b89a80" stroke-opacity="0.3" stroke-width="0.5"/>
<circle cx="201.9" cy="278.9" r="1.05" fill="#f6a040" fill-opacity="0.41" stroke="#b89a80" stroke-opacity="0.3" stroke-width="0.5"/>
<circle cx="204.4" cy="281.2" r="1.05" fill="#f6a040" fill-opacity="0.41" stroke="#b89a80" stroke-opacity="0.3" stroke-width="0.5"/>
<circle cx="203.5" cy="286.2" r="1.05" fill="#f6a040" fill-opacity="0.41" stroke="#b89a80" stroke-opacity="0.3" stroke-width="0.5"/>
<circle cx="201.8" cy="289.3" r="1.05" fill="#f6a040" fill-opacity="0.41" stroke="#b89a80" stroke-opacity="0.3" stroke-width="0.5"/>
<circle cx="479.7" cy="284.5" r="1.05" fill="#f6a040" fill-opacity="0.41" stroke="#b89a80" stroke-opacity="0.3" stroke-width="0.5"/>
<circle cx="479.4" cy="288.4" r="1.05" fill="#f6a040" fill-opacity="0.41" stroke="#b89a80" stroke-opacity="0.3" stroke-width="0.5"/>
<circle cx="477.5" cy="291.9" r="1.05" fill="#f6a040" fill-opacity="0.41" stroke="#b89a80" stroke-opacity="0.3" stroke-width="0.5"/>
<circle cx="477.2" cy="293.7" r="1.05" fill="#f6a040" fill-opacity="0.41" stroke="#b89a80" stroke-opacity="0.3" stroke-width="0.5"/>
<circle cx="109.3" cy="448.0" r="1.05" fill="#f6a040" fill-opacity="0.41" stroke="#b89a80" stroke-opacity="0.3" stroke-width="0.5"/>
<circle cx="109.4" cy="452.7" r="1.05" fill="#f6a040" fill-opacity="0.41" stroke="#b89a80" stroke-opacity="0.3" stroke-width="0.5"/>
<circle cx="109.6" cy="456.2" r="1.05" fill="#f6a040" fill-opacity="0.41" stroke="#b89a80" stroke-opacity="0.3" stroke-width="0.5"/>
<circle cx="108.8" cy="459.9" r="1.05" fill="#f6a040" fill-opacity="0.41" stroke="#b89a80" stroke-opacity="0.3" stroke-width="0.5"/>
<circle cx="109.6" cy="463.3" r="1.05" fill="#f6a040" fill-opacity="0.41" stroke="#b89a80" stroke-opacity="0.3" stroke-width="0.5"/>
<circle cx="110.1" cy="467.6" r="1.05" fill="#f6a040" fill-opacity="0.41" stroke="#b89a80" stroke-opacity="0.3" stroke-width="0.5"/>
<circle cx="107.9" cy="472.2" r="1.05" fill="#f6a040" fill-opacity="0.41" stroke="#b89a80" stroke-opacity="0.3" stroke-width="0.5"/>
<circle cx="107.7" cy="475.4" r="1.05" fill="#f6a040" fill-opacity="0.41" stroke="#b89a80" stroke-opacity="0.3" stroke-width="0.5"/>
<circle cx="391.1" cy="448.1" r="1.05" fill="#f6a040" fill-opacity="0.41" stroke="#b89a80" stroke-opacity="0.3" stroke-width="0.5"/>
<circle cx="389.1" cy="451.0" r="1.05" fill="#f6a040" fill-opacity="0.41" stroke="#b89a80" stroke-opacity="0.3" stroke-width="0.5"/>
<circle cx="390.8" cy="455.3" r="1.05" fill="#f6a040" fill-opacity="0.41" stroke="#b89a80" stroke-opacity="0.3" stroke-width="0.5"/>
<circle cx="389.6" cy="458.8" r="1.05" fill="#f6a040" fill-opacity="0.41" stroke="#b89a80" stroke-opacity="0.3" stroke-width="0.5"/>
<circle cx="388.9" cy="462.9" r="1.05" fill="#f6a040" fill-opacity="0.41" stroke="#b89a80" stroke-opacity="0.3" stroke-width="0.5"/>
<circle cx="390.4" cy="466.1" r="1.05" fill="#f6a040" fill-opacity="0.41" stroke="#b89a80" stroke-opacity="0.3" stroke-width="0.5"/>
<circle cx="391.0" cy="470.9" r="1.05" fill="#f6a040" fill-opacity="0.41" stroke="#b89a80" stroke-opacity="0.3" stroke-width="0.5"/>
<circle cx="369.2" cy="288.4" r="1.05" fill="#f6a040" fill-opacity="0.41" stroke="#b89a80" stroke-opacity="0.3" stroke-width="0.5"/>
<circle cx="368.5" cy="291.1" r="1.05" fill="#f6a040" fill-opacity="0.41" stroke="#b89a80" stroke-opacity="0.3" stroke-width="0.5"/>
<circle cx="370.0" cy="295.9" r="1.05" fill="#f6a040" fill-opacity="0.41" stroke="#b89a80" stroke-opacity="0.3" stroke-width="0.5"/>
<circle cx="396.3" cy="176.5" r="1.05" fill="#f6a040" fill-opacity="0.41" stroke="#b89a80" stroke-opacity="0.3" stroke-width="0.5"/>
<circle cx="398.4" cy="180.5" r="1.05" fill="#f6a040" fill-opacity="0.41" stroke="#b89a80" stroke-opacity="0.3" stroke-width="0.5"/>
<circle cx="397.0" cy="184.0" r="1.05" fill="#f6a040" fill-opacity="0.41" stroke="#b89a80" stroke-opacity="0.3" stroke-width="0.5"/>
<circle cx="149.7" cy="98.8" r="1.05" fill="#f6a040" fill-opacity="0.35"/>
<circle cx="147.7" cy="97.4" r="1.05" fill="#f6a040" fill-opacity="0.35"/>
<circle cx="148.2" cy="98.0" r="1.05" fill="#f6a040" fill-opacity="0.35"/>
<circle cx="149.8" cy="97.6" r="1.05" fill="#f6a040" fill-opacity="0.35"/>
<circle cx="150.3" cy="98.5" r="1.05" fill="#f6a040" fill-opacity="0.35"/>
<circle cx="149.0" cy="97.6" r="1.05" fill="#f6a040" fill-opacity="0.35"/>
<circle cx="151.0" cy="97.8" r="1.05" fill="#f6a040" fill-opacity="0.35"/>
<circle cx="170.7" cy="97.7" r="1.05" fill="#f6a040" fill-opacity="0.35"/>
<circle cx="168.1" cy="98.5" r="1.05" fill="#f6a040" fill-opacity="0.35"/>
<circle cx="168.4" cy="98.8" r="1.05" fill="#f6a040" fill-opacity="0.35"/>
<circle cx="169.3" cy="97.6" r="1.05" fill="#f6a040" fill-opacity="0.35"/>
<circle cx="168.1" cy="98.0" r="1.05" fill="#f6a040" fill-opacity="0.35"/>
<circle cx="170.0" cy="98.8" r="1.05" fill="#f6a040" fill-opacity="0.35"/>
<circle cx="167.7" cy="97.9" r="1.05" fill="#f6a040" fill-opacity="0.35"/>
<circle cx="229.7" cy="99.1" r="1.05" fill="#f6a040" fill-opacity="0.35"/>
<circle cx="229.4" cy="97.6" r="1.05" fill="#f6a040" fill-opacity="0.35"/>
<circle cx="229.1" cy="98.1" r="1.05" fill="#f6a040" fill-opacity="0.35"/>
<circle cx="232.8" cy="98.9" r="1.05" fill="#f6a040" fill-opacity="0.35"/>
<circle cx="232.0" cy="99.1" r="1.05" fill="#f6a040" fill-opacity="0.35"/>
<circle cx="232.9" cy="98.0" r="1.05" fill="#f6a040" fill-opacity="0.35"/>
<circle cx="229.6" cy="99.0" r="1.05" fill="#f6a040" fill-opacity="0.35"/>
<circle cx="252.4" cy="97.6" r="1.05" fill="#f6a040" fill-opacity="0.35"/>
<circle cx="252.0" cy="98.1" r="1.05" fill="#f6a040" fill-opacity="0.35"/>
<circle cx="250.7" cy="98.0" r="1.05" fill="#f6a040" fill-opacity="0.35"/>
<circle cx="249.8" cy="97.5" r="1.05" fill="#f6a040" fill-opacity="0.35"/>
<circle cx="250.3" cy="98.1" r="1.05" fill="#f6a040" fill-opacity="0.35"/>
<circle cx="253.3" cy="97.7" r="1.05" fill="#f6a040" fill-opacity="0.35"/>
<circle cx="253.3" cy="97.8" r="1.05" fill="#f6a040" fill-opacity="0.35"/>
<circle cx="312.5" cy="98.8" r="1.05" fill="#f6a040" fill-opacity="0.35"/>
<circle cx="314.6" cy="98.2" r="1.05" fill="#f6a040" fill-opacity="0.35"/>
<circle cx="311.2" cy="98.3" r="1.05" fill="#f6a040" fill-opacity="0.35"/>
<circle cx="312.6" cy="99.0" r="1.05" fill="#f6a040" fill-opacity="0.35"/>
<circle cx="311.8" cy="98.1" r="1.05" fill="#f6a040" fill-opacity="0.35"/>
<circle cx="314.9" cy="97.5" r="1.05" fill="#f6a040" fill-opacity="0.35"/>
<circle cx="312.8" cy="98.8" r="1.05" fill="#f6a040" fill-opacity="0.35"/>
<circle cx="334.6" cy="97.6" r="1.05" fill="#f6a040" fill-opacity="0.35"/>
<circle cx="331.4" cy="97.6" r="1.05" fill="#f6a040" fill-opacity="0.35"/>
<circle cx="335.2" cy="97.9" r="1.05" fill="#f6a040" fill-opacity="0.35"/>
<circle cx="334.5" cy="98.9" r="1.05" fill="#f6a040" fill-opacity="0.35"/>
<circle cx="332.7" cy="97.9" r="1.05" fill="#f6a040" fill-opacity="0.35"/>
<circle cx="335.4" cy="98.5" r="1.05" fill="#f6a040" fill-opacity="0.35"/>
<circle cx="332.4" cy="98.6" r="1.05" fill="#f6a040" fill-opacity="0.35"/>
<circle cx="397.7" cy="97.9" r="1.05" fill="#f6a040" fill-opacity="0.35"/>
<circle cx="396.3" cy="98.7" r="1.05" fill="#f6a040" fill-opacity="0.35"/>
<circle cx="400.3" cy="98.5" r="1.05" fill="#f6a040" fill-opacity="0.35"/>
<circle cx="400.5" cy="97.5" r="1.05" fill="#f6a040" fill-opacity="0.35"/>
<circle cx="397.3" cy="98.3" r="1.05" fill="#f6a040" fill-opacity="0.35"/>
<circle cx="400.5" cy="99.0" r="1.05" fill="#f6a040" fill-opacity="0.35"/>
<circle cx="398.0" cy="97.9" r="1.05" fill="#f6a040" fill-opacity="0.35"/>
<circle cx="418.3" cy="94.0" r="1.05" fill="#f6a040" fill-opacity="0.35"/>
<circle cx="420.5" cy="93.5" r="1.05" fill="#f6a040" fill-opacity="0.35"/>
<circle cx="420.0" cy="94.4" r="1.05" fill="#f6a040" fill-opacity="0.35"/>
<circle cx="420.1" cy="94.4" r="1.05" fill="#f6a040" fill-opacity="0.35"/>
<circle cx="419.1" cy="93.7" r="1.05" fill="#f6a040" fill-opacity="0.35"/>
<circle cx="417.9" cy="93.8" r="1.05" fill="#f6a040" fill-opacity="0.35"/>
<circle cx="419.9" cy="93.3" r="1.05" fill="#f6a040" fill-opacity="0.35"/>
<circle cx="479.9" cy="98.7" r="1.05" fill="#f6a040" fill-opacity="0.35"/>
<circle cx="480.1" cy="97.6" r="1.05" fill="#f6a040" fill-opacity="0.35"/>
<circle cx="479.1" cy="98.4" r="1.05" fill="#f6a040" fill-opacity="0.35"/>
<circle cx="480.4" cy="99.1" r="1.05" fill="#f6a040" fill-opacity="0.35"/>
<circle cx="482.9" cy="99.1" r="1.05" fill="#f6a040" fill-opacity="0.35"/>
<circle cx="480.2" cy="97.6" r="1.05" fill="#f6a040" fill-opacity="0.35"/>
<circle cx="479.4" cy="98.3" r="1.05" fill="#f6a040" fill-opacity="0.35"/>
<circle cx="502.2" cy="98.2" r="1.05" fill="#f6a040" fill-opacity="0.35"/>
<circle cx="500.1" cy="98.2" r="1.05" fill="#f6a040" fill-opacity="0.35"/>
<circle cx="501.8" cy="98.6" r="1.05" fill="#f6a040" fill-opacity="0.35"/>
<circle cx="502.4" cy="98.9" r="1.05" fill="#f6a040" fill-opacity="0.35"/>
<circle cx="502.0" cy="97.7" r="1.05" fill="#f6a040" fill-opacity="0.35"/>
<circle cx="502.8" cy="98.0" r="1.05" fill="#f6a040" fill-opacity="0.35"/>
<circle cx="501.6" cy="98.1" r="1.05" fill="#f6a040" fill-opacity="0.35"/>
<circle cx="149.8" cy="193.4" r="1.05" fill="#f6a040" fill-opacity="0.35"/>
<circle cx="147.6" cy="193.5" r="1.05" fill="#f6a040" fill-opacity="0.35"/>
<circle cx="147.2" cy="194.5" r="1.05" fill="#f6a040" fill-opacity="0.35"/>
<circle cx="149.1" cy="193.6" r="1.05" fill="#f6a040" fill-opacity="0.35"/>
<circle cx="148.3" cy="194.7" r="1.05" fill="#f6a040" fill-opacity="0.35"/>
<circle cx="148.8" cy="193.5" r="1.05" fill="#f6a040" fill-opacity="0.35"/>
<circle cx="150.1" cy="194.1" r="1.05" fill="#f6a040" fill-opacity="0.35"/>
<circle cx="171.5" cy="193.3" r="1.05" fill="#f6a040" fill-opacity="0.35"/>
<circle cx="169.2" cy="194.4" r="1.05" fill="#f6a040" fill-opacity="0.35"/>
<circle cx="170.8" cy="194.6" r="1.05" fill="#f6a040" fill-opacity="0.35"/>
<circle cx="167.3" cy="193.6" r="1.05" fill="#f6a040" fill-opacity="0.35"/>
<circle cx="167.7" cy="193.4" r="1.05" fill="#f6a040" fill-opacity="0.35"/>
<circle cx="171.4" cy="194.0" r="1.05" fill="#f6a040" fill-opacity="0.35"/>
<circle cx="171.2" cy="193.7" r="1.05" fill="#f6a040" fill-opacity="0.35"/>
<circle cx="232.6" cy="193.8" r="1.05" fill="#f6a040" fill-opacity="0.35"/>
<circle cx="229.9" cy="194.3" r="1.05" fill="#f6a040" fill-opacity="0.35"/>
<circle cx="233.0" cy="193.3" r="1.05" fill="#f6a040" fill-opacity="0.35"/>
<circle cx="231.4" cy="194.1" r="1.05" fill="#f6a040" fill-opacity="0.35"/>
<circle cx="229.8" cy="193.7" r="1.05" fill="#f6a040" fill-opacity="0.35"/>
<circle cx="229.4" cy="193.4" r="1.05" fill="#f6a040" fill-opacity="0.35"/>
<circle cx="229.9" cy="194.1" r="1.05" fill="#f6a040" fill-opacity="0.35"/>
<circle cx="252.0" cy="193.4" r="1.05" fill="#f6a040" fill-opacity="0.35"/>
<circle cx="249.2" cy="193.6" r="1.05" fill="#f6a040" fill-opacity="0.35"/>
<circle cx="252.1" cy="193.4" r="1.05" fill="#f6a040" fill-opacity="0.35"/>
<circle cx="250.5" cy="193.4" r="1.05" fill="#f6a040" fill-opacity="0.35"/>
<circle cx="252.6" cy="194.0" r="1.05" fill="#f6a040" fill-opacity="0.35"/>
<circle cx="249.4" cy="193.3" r="1.05" fill="#f6a040" fill-opacity="0.35"/>
<circle cx="250.8" cy="194.0" r="1.05" fill="#f6a040" fill-opacity="0.35"/>
<circle cx="313.8" cy="193.2" r="1.05" fill="#f6a040" fill-opacity="0.35"/>
<circle cx="311.7" cy="194.2" r="1.05" fill="#f6a040" fill-opacity="0.35"/>
<circle cx="312.8" cy="193.6" r="1.05" fill="#f6a040" fill-opacity="0.35"/>
<circle cx="312.3" cy="194.6" r="1.05" fill="#f6a040" fill-opacity="0.35"/>
<circle cx="312.3" cy="194.0" r="1.05" fill="#f6a040" fill-opacity="0.35"/>
<circle cx="312.5" cy="193.8" r="1.05" fill="#f6a040" fill-opacity="0.35"/>
<circle cx="314.8" cy="194.7" r="1.05" fill="#f6a040" fill-opacity="0.35"/>
<circle cx="332.7" cy="193.4" r="1.05" fill="#f6a040" fill-opacity="0.35"/>
<circle cx="334.3" cy="193.4" r="1.05" fill="#f6a040" fill-opacity="0.35"/>
<circle cx="331.1" cy="194.5" r="1.05" fill="#f6a040" fill-opacity="0.35"/>
<circle cx="333.0" cy="194.4" r="1.05" fill="#f6a040" fill-opacity="0.35"/>
<circle cx="332.9" cy="194.5" r="1.05" fill="#f6a040" fill-opacity="0.35"/>
<circle cx="333.1" cy="193.4" r="1.05" fill="#f6a040" fill-opacity="0.35"/>
<circle cx="331.2" cy="194.0" r="1.05" fill="#f6a040" fill-opacity="0.35"/>
<circle cx="398.4" cy="194.6" r="1.05" fill="#f6a040" fill-opacity="0.35"/>
<circle cx="396.0" cy="194.1" r="1.05" fill="#f6a040" fill-opacity="0.35"/>
<circle cx="397.2" cy="193.9" r="1.05" fill="#f6a040" fill-opacity="0.35"/>
<circle cx="396.2" cy="193.6" r="1.05" fill="#f6a040" fill-opacity="0.35"/>
<circle cx="397.9" cy="194.6" r="1.05" fill="#f6a040" fill-opacity="0.35"/>
<circle cx="396.1" cy="193.9" r="1.05" fill="#f6a040" fill-opacity="0.35"/>
<circle cx="399.1" cy="194.6" r="1.05" fill="#f6a040" fill-opacity="0.35"/>
<circle cx="415.3" cy="193.3" r="1.05" fill="#f6a040" fill-opacity="0.35"/>
<circle cx="418.6" cy="194.7" r="1.05" fill="#f6a040" fill-opacity="0.35"/>
<circle cx="416.6" cy="193.2" r="1.05" fill="#f6a040" fill-opacity="0.35"/>
<circle cx="418.5" cy="193.7" r="1.05" fill="#f6a040" fill-opacity="0.35"/>
<circle cx="418.4" cy="194.1" r="1.05" fill="#f6a040" fill-opacity="0.35"/>
<circle cx="418.1" cy="193.4" r="1.05" fill="#f6a040" fill-opacity="0.35"/>
<circle cx="417.9" cy="193.5" r="1.05" fill="#f6a040" fill-opacity="0.35"/>
<circle cx="479.5" cy="194.5" r="1.05" fill="#f6a040" fill-opacity="0.35"/>
<circle cx="481.3" cy="193.4" r="1.05" fill="#f6a040" fill-opacity="0.35"/>
<circle cx="478.7" cy="193.7" r="1.05" fill="#f6a040" fill-opacity="0.35"/>
<circle cx="480.0" cy="193.7" r="1.05" fill="#f6a040" fill-opacity="0.35"/>
<circle cx="478.2" cy="193.5" r="1.05" fill="#f6a040" fill-opacity="0.35"/>
<circle cx="480.9" cy="194.5" r="1.05" fill="#f6a040" fill-opacity="0.35"/>
<circle cx="477.9" cy="194.0" r="1.05" fill="#f6a040" fill-opacity="0.35"/>
<circle cx="499.6" cy="193.2" r="1.05" fill="#f6a040" fill-opacity="0.35"/>
<circle cx="499.9" cy="193.3" r="1.05" fill="#f6a040" fill-opacity="0.35"/>
<circle cx="498.9" cy="194.0" r="1.05" fill="#f6a040" fill-opacity="0.35"/>
<circle cx="499.0" cy="193.6" r="1.05" fill="#f6a040" fill-opacity="0.35"/>
<circle cx="498.1" cy="194.0" r="1.05" fill="#f6a040" fill-opacity="0.35"/>
<circle cx="498.1" cy="194.2" r="1.05" fill="#f6a040" fill-opacity="0.35"/>
<circle cx="498.2" cy="193.8" r="1.05" fill="#f6a040" fill-opacity="0.35"/>
<circle cx="86.1" cy="305.3" r="1.05" fill="#f6a040" fill-opacity="0.35"/>
<circle cx="88.2" cy="304.7" r="1.05" fill="#f6a040" fill-opacity="0.35"/>
<circle cx="89.4" cy="305.5" r="1.05" fill="#f6a040" fill-opacity="0.35"/>
<circle cx="88.0" cy="304.6" r="1.05" fill="#f6a040" fill-opacity="0.35"/>
<circle cx="88.1" cy="304.5" r="1.05" fill="#f6a040" fill-opacity="0.35"/>
<circle cx="86.6" cy="305.0" r="1.05" fill="#f6a040" fill-opacity="0.35"/>
<circle cx="86.4" cy="305.0" r="1.05" fill="#f6a040" fill-opacity="0.35"/>
<circle cx="108.9" cy="304.4" r="1.05" fill="#f6a040" fill-opacity="0.35"/>
<circle cx="109.5" cy="304.4" r="1.05" fill="#f6a040" fill-opacity="0.35"/>
<circle cx="109.9" cy="305.5" r="1.05" fill="#f6a040" fill-opacity="0.35"/>
<circle cx="109.0" cy="304.4" r="1.05" fill="#f6a040" fill-opacity="0.35"/>
<circle cx="108.9" cy="304.9" r="1.05" fill="#f6a040" fill-opacity="0.35"/>
<circle cx="110.9" cy="304.5" r="1.05" fill="#f6a040" fill-opacity="0.35"/>
<circle cx="110.5" cy="305.9" r="1.05" fill="#f6a040" fill-opacity="0.35"/>
<circle cx="184.7" cy="305.6" r="1.05" fill="#f6a040" fill-opacity="0.35"/>
<circle cx="182.4" cy="305.9" r="1.05" fill="#f6a040" fill-opacity="0.35"/>
<circle cx="183.7" cy="305.8" r="1.05" fill="#f6a040" fill-opacity="0.35"/>
<circle cx="185.5" cy="304.6" r="1.05" fill="#f6a040" fill-opacity="0.35"/>
<circle cx="185.0" cy="305.8" r="1.05" fill="#f6a040" fill-opacity="0.35"/>
<circle cx="181.8" cy="304.9" r="1.05" fill="#f6a040" fill-opacity="0.35"/>
<circle cx="184.8" cy="304.6" r="1.05" fill="#f6a040" fill-opacity="0.35"/>
<circle cx="205.4" cy="304.7" r="1.05" fill="#f6a040" fill-opacity="0.35"/>
<circle cx="205.1" cy="304.5" r="1.05" fill="#f6a040" fill-opacity="0.35"/>
<circle cx="203.7" cy="305.8" r="1.05" fill="#f6a040" fill-opacity="0.35"/>
<circle cx="202.4" cy="304.7" r="1.05" fill="#f6a040" fill-opacity="0.35"/>
<circle cx="203.7" cy="304.8" r="1.05" fill="#f6a040" fill-opacity="0.35"/>
<circle cx="201.7" cy="304.6" r="1.05" fill="#f6a040" fill-opacity="0.35"/>
<circle cx="202.2" cy="305.8" r="1.05" fill="#f6a040" fill-opacity="0.35"/>
<circle cx="280.4" cy="305.7" r="1.05" fill="#f6a040" fill-opacity="0.35"/>
<circle cx="278.1" cy="305.6" r="1.05" fill="#f6a040" fill-opacity="0.35"/>
<circle cx="277.9" cy="305.1" r="1.05" fill="#f6a040" fill-opacity="0.35"/>
<circle cx="280.2" cy="304.9" r="1.05" fill="#f6a040" fill-opacity="0.35"/>
<circle cx="281.2" cy="305.2" r="1.05" fill="#f6a040" fill-opacity="0.35"/>
<circle cx="280.0" cy="305.7" r="1.05" fill="#f6a040" fill-opacity="0.35"/>
<circle cx="277.9" cy="305.9" r="1.05" fill="#f6a040" fill-opacity="0.35"/>
<circle cx="301.3" cy="304.6" r="1.05" fill="#f6a040" fill-opacity="0.35"/>
<circle cx="302.1" cy="304.4" r="1.05" fill="#f6a040" fill-opacity="0.35"/>
<circle cx="302.9" cy="304.9" r="1.05" fill="#f6a040" fill-opacity="0.35"/>
<circle cx="300.1" cy="305.2" r="1.05" fill="#f6a040" fill-opacity="0.35"/>
<circle cx="300.5" cy="304.3" r="1.05" fill="#f6a040" fill-opacity="0.35"/>
<circle cx="301.8" cy="304.1" r="1.05" fill="#f6a040" fill-opacity="0.35"/>
<circle cx="302.2" cy="304.4" r="1.05" fill="#f6a040" fill-opacity="0.35"/>
<circle cx="370.1" cy="305.9" r="1.05" fill="#f6a040" fill-opacity="0.35"/>
<circle cx="369.9" cy="305.4" r="1.05" fill="#f6a040" fill-opacity="0.35"/>
<circle cx="368.7" cy="304.3" r="1.05" fill="#f6a040" fill-opacity="0.35"/>
<circle cx="367.4" cy="304.5" r="1.05" fill="#f6a040" fill-opacity="0.35"/>
<circle cx="370.0" cy="305.0" r="1.05" fill="#f6a040" fill-opacity="0.35"/>
<circle cx="369.6" cy="305.7" r="1.05" fill="#f6a040" fill-opacity="0.35"/>
<circle cx="367.9" cy="304.7" r="1.05" fill="#f6a040" fill-opacity="0.35"/>
<circle cx="388.7" cy="304.3" r="1.05" fill="#f6a040" fill-opacity="0.35"/>
<circle cx="385.8" cy="304.9" r="1.05" fill="#f6a040" fill-opacity="0.35"/>
<circle cx="386.3" cy="304.9" r="1.05" fill="#f6a040" fill-opacity="0.35"/>
<circle cx="386.8" cy="305.2" r="1.05" fill="#f6a040" fill-opacity="0.35"/>
<circle cx="388.4" cy="304.6" r="1.05" fill="#f6a040" fill-opacity="0.35"/>
<circle cx="388.5" cy="305.1" r="1.05" fill="#f6a040" fill-opacity="0.35"/>
<circle cx="386.4" cy="305.8" r="1.05" fill="#f6a040" fill-opacity="0.35"/>
<circle cx="456.9" cy="304.5" r="1.05" fill="#f6a040" fill-opacity="0.35"/>
<circle cx="456.2" cy="305.3" r="1.05" fill="#f6a040" fill-opacity="0.35"/>
<circle cx="459.6" cy="305.6" r="1.05" fill="#f6a040" fill-opacity="0.35"/>
<circle cx="457.6" cy="304.7" r="1.05" fill="#f6a040" fill-opacity="0.35"/>
<circle cx="455.9" cy="305.3" r="1.05" fill="#f6a040" fill-opacity="0.35"/>
<circle cx="458.3" cy="304.9" r="1.05" fill="#f6a040" fill-opacity="0.35"/>
<circle cx="458.6" cy="305.0" r="1.05" fill="#f6a040" fill-opacity="0.35"/>
<circle cx="480.4" cy="305.5" r="1.05" fill="#f6a040" fill-opacity="0.35"/>
<circle cx="477.4" cy="305.7" r="1.05" fill="#f6a040" fill-opacity="0.35"/>
<circle cx="476.5" cy="305.2" r="1.05" fill="#f6a040" fill-opacity="0.35"/>
<circle cx="478.1" cy="304.7" r="1.05" fill="#f6a040" fill-opacity="0.35"/>
<circle cx="476.6" cy="305.5" r="1.05" fill="#f6a040" fill-opacity="0.35"/>
<circle cx="476.4" cy="305.2" r="1.05" fill="#f6a040" fill-opacity="0.35"/>
<circle cx="480.4" cy="304.5" r="1.05" fill="#f6a040" fill-opacity="0.35"/>
<circle cx="87.2" cy="400.3" r="1.05" fill="#f6a040" fill-opacity="0.35"/>
<circle cx="88.5" cy="400.3" r="1.05" fill="#f6a040" fill-opacity="0.35"/>
<circle cx="89.9" cy="399.6" r="1.05" fill="#f6a040" fill-opacity="0.35"/>
<circle cx="87.7" cy="399.8" r="1.05" fill="#f6a040" fill-opacity="0.35"/>
<circle cx="86.5" cy="400.7" r="1.05" fill="#f6a040" fill-opacity="0.35"/>
<circle cx="89.7" cy="400.4" r="1.05" fill="#f6a040" fill-opacity="0.35"/>
<circle cx="86.3" cy="400.7" r="1.05" fill="#f6a040" fill-opacity="0.35"/>
<circle cx="109.7" cy="400.0" r="1.05" fill="#f6a040" fill-opacity="0.35"/>
<circle cx="109.7" cy="400.0" r="1.05" fill="#f6a040" fill-opacity="0.35"/>
<circle cx="107.4" cy="399.5" r="1.05" fill="#f6a040" fill-opacity="0.35"/>
<circle cx="107.4" cy="399.4" r="1.05" fill="#f6a040" fill-opacity="0.35"/>
<circle cx="107.9" cy="400.5" r="1.05" fill="#f6a040" fill-opacity="0.35"/>
<circle cx="109.5" cy="400.7" r="1.05" fill="#f6a040" fill-opacity="0.35"/>
<circle cx="109.5" cy="399.7" r="1.05" fill="#f6a040" fill-opacity="0.35"/>
<circle cx="183.7" cy="400.0" r="1.05" fill="#f6a040" fill-opacity="0.35"/>
<circle cx="184.8" cy="400.1" r="1.05" fill="#f6a040" fill-opacity="0.35"/>
<circle cx="182.5" cy="400.3" r="1.05" fill="#f6a040" fill-opacity="0.35"/>
<circle cx="185.5" cy="399.6" r="1.05" fill="#f6a040" fill-opacity="0.35"/>
<circle cx="185.2" cy="399.3" r="1.05" fill="#f6a040" fill-opacity="0.35"/>
<circle cx="182.4" cy="399.7" r="1.05" fill="#f6a040" fill-opacity="0.35"/>
<circle cx="184.6" cy="400.8" r="1.05" fill="#f6a040" fill-opacity="0.35"/>
<circle cx="204.9" cy="399.8" r="1.05" fill="#f6a040" fill-opacity="0.35"/>
<circle cx="205.5" cy="399.8" r="1.05" fill="#f6a040" fill-opacity="0.35"/>
<circle cx="202.7" cy="400.8" r="1.05" fill="#f6a040" fill-opacity="0.35"/>
<circle cx="204.4" cy="400.4" r="1.05" fill="#f6a040" fill-opacity="0.35"/>
<circle cx="204.5" cy="400.9" r="1.05" fill="#f6a040" fill-opacity="0.35"/>
<circle cx="203.7" cy="400.6" r="1.05" fill="#f6a040" fill-opacity="0.35"/>
<circle cx="204.7" cy="400.7" r="1.05" fill="#f6a040" fill-opacity="0.35"/>
<circle cx="278.2" cy="400.5" r="1.05" fill="#f6a040" fill-opacity="0.35"/>
<circle cx="278.8" cy="399.8" r="1.05" fill="#f6a040" fill-opacity="0.35"/>
<circle cx="277.2" cy="400.3" r="1.05" fill="#f6a040" fill-opacity="0.35"/>
<circle cx="276.6" cy="400.8" r="1.05" fill="#f6a040" fill-opacity="0.35"/>
<circle cx="276.9" cy="399.3" r="1.05" fill="#f6a040" fill-opacity="0.35"/>
<circle cx="276.8" cy="400.8" r="1.05" fill="#f6a040" fill-opacity="0.35"/>
<circle cx="277.8" cy="399.5" r="1.05" fill="#f6a040" fill-opacity="0.35"/>
<circle cx="296.7" cy="399.4" r="1.05" fill="#f6a040" fill-opacity="0.35"/>
<circle cx="299.6" cy="400.3" r="1.05" fill="#f6a040" fill-opacity="0.35"/>
<circle cx="299.7" cy="400.5" r="1.05" fill="#f6a040" fill-opacity="0.35"/>
<circle cx="296.9" cy="400.2" r="1.05" fill="#f6a040" fill-opacity="0.35"/>
<circle cx="298.2" cy="400.6" r="1.05" fill="#f6a040" fill-opacity="0.35"/>
<circle cx="300.2" cy="400.7" r="1.05" fill="#f6a040" fill-opacity="0.35"/>
<circle cx="296.9" cy="400.7" r="1.05" fill="#f6a040" fill-opacity="0.35"/>
<circle cx="373.2" cy="400.8" r="1.05" fill="#f6a040" fill-opacity="0.35"/>
<circle cx="369.6" cy="399.6" r="1.05" fill="#f6a040" fill-opacity="0.35"/>
<circle cx="369.6" cy="399.4" r="1.05" fill="#f6a040" fill-opacity="0.35"/>
<circle cx="372.9" cy="400.6" r="1.05" fill="#f6a040" fill-opacity="0.35"/>
<circle cx="371.9" cy="400.6" r="1.05" fill="#f6a040" fill-opacity="0.35"/>
<circle cx="371.9" cy="399.8" r="1.05" fill="#f6a040" fill-opacity="0.35"/>
<circle cx="369.6" cy="399.5" r="1.05" fill="#f6a040" fill-opacity="0.35"/>
<circle cx="393.6" cy="399.6" r="1.05" fill="#f6a040" fill-opacity="0.35"/>
<circle cx="391.7" cy="400.0" r="1.05" fill="#f6a040" fill-opacity="0.35"/>
<circle cx="390.4" cy="399.7" r="1.05" fill="#f6a040" fill-opacity="0.35"/>
<circle cx="391.5" cy="400.4" r="1.05" fill="#f6a040" fill-opacity="0.35"/>
<circle cx="391.9" cy="399.8" r="1.05" fill="#f6a040" fill-opacity="0.35"/>
<circle cx="394.5" cy="400.1" r="1.05" fill="#f6a040" fill-opacity="0.35"/>
<circle cx="394.0" cy="400.3" r="1.05" fill="#f6a040" fill-opacity="0.35"/>
<circle cx="455.7" cy="400.0" r="1.05" fill="#f6a040" fill-opacity="0.35"/>
<circle cx="457.5" cy="400.5" r="1.05" fill="#f6a040" fill-opacity="0.35"/>
<circle cx="457.1" cy="400.4" r="1.05" fill="#f6a040" fill-opacity="0.35"/>
<circle cx="458.0" cy="399.6" r="1.05" fill="#f6a040" fill-opacity="0.35"/>
<circle cx="459.4" cy="399.4" r="1.05" fill="#f6a040" fill-opacity="0.35"/>
<circle cx="459.2" cy="399.6" r="1.05" fill="#f6a040" fill-opacity="0.35"/>
<circle cx="455.6" cy="399.6" r="1.05" fill="#f6a040" fill-opacity="0.35"/>
<circle cx="479.2" cy="400.9" r="1.05" fill="#f6a040" fill-opacity="0.35"/>
<circle cx="475.8" cy="400.1" r="1.05" fill="#f6a040" fill-opacity="0.35"/>
<circle cx="478.0" cy="400.6" r="1.05" fill="#f6a040" fill-opacity="0.35"/>
<circle cx="476.6" cy="400.1" r="1.05" fill="#f6a040" fill-opacity="0.35"/>
<circle cx="477.3" cy="400.6" r="1.05" fill="#f6a040" fill-opacity="0.35"/>
<circle cx="476.9" cy="400.8" r="1.05" fill="#f6a040" fill-opacity="0.35"/>
<circle cx="477.0" cy="399.6" r="1.05" fill="#f6a040" fill-opacity="0.35"/>
<circle cx="89.7" cy="495.3" r="1.05" fill="#f6a040" fill-opacity="0.35"/>
<circle cx="87.1" cy="495.5" r="1.05" fill="#f6a040" fill-opacity="0.35"/>
<circle cx="87.0" cy="495.8" r="1.05" fill="#f6a040" fill-opacity="0.35"/>
<circle cx="89.7" cy="495.8" r="1.05" fill="#f6a040" fill-opacity="0.35"/>
<circle cx="89.4" cy="495.1" r="1.05" fill="#f6a040" fill-opacity="0.35"/>
<circle cx="88.4" cy="495.1" r="1.05" fill="#f6a040" fill-opacity="0.35"/>
<circle cx="90.5" cy="494.6" r="1.05" fill="#f6a040" fill-opacity="0.35"/>
<circle cx="110.5" cy="494.5" r="1.05" fill="#f6a040" fill-opacity="0.35"/>
<circle cx="107.5" cy="494.9" r="1.05" fill="#f6a040" fill-opacity="0.35"/>
<circle cx="110.6" cy="495.3" r="1.05" fill="#f6a040" fill-opacity="0.35"/>
<circle cx="108.3" cy="495.9" r="1.05" fill="#f6a040" fill-opacity="0.35"/>
<circle cx="107.6" cy="495.2" r="1.05" fill="#f6a040" fill-opacity="0.35"/>
<circle cx="108.9" cy="495.7" r="1.05" fill="#f6a040" fill-opacity="0.35"/>
<circle cx="109.9" cy="495.5" r="1.05" fill="#f6a040" fill-opacity="0.35"/>
<circle cx="183.1" cy="495.0" r="1.05" fill="#f6a040" fill-opacity="0.35"/>
<circle cx="182.3" cy="495.8" r="1.05" fill="#f6a040" fill-opacity="0.35"/>
<circle cx="184.5" cy="495.7" r="1.05" fill="#f6a040" fill-opacity="0.35"/>
<circle cx="182.3" cy="495.2" r="1.05" fill="#f6a040" fill-opacity="0.35"/>
<circle cx="185.0" cy="495.4" r="1.05" fill="#f6a040" fill-opacity="0.35"/>
<circle cx="182.2" cy="495.2" r="1.05" fill="#f6a040" fill-opacity="0.35"/>
<circle cx="185.5" cy="494.9" r="1.05" fill="#f6a040" fill-opacity="0.35"/>
<circle cx="202.7" cy="495.0" r="1.05" fill="#f6a040" fill-opacity="0.35"/>
<circle cx="204.9" cy="495.8" r="1.05" fill="#f6a040" fill-opacity="0.35"/>
<circle cx="202.5" cy="494.7" r="1.05" fill="#f6a040" fill-opacity="0.35"/>
<circle cx="202.9" cy="495.0" r="1.05" fill="#f6a040" fill-opacity="0.35"/>
<circle cx="204.1" cy="494.8" r="1.05" fill="#f6a040" fill-opacity="0.35"/>
<circle cx="203.3" cy="494.8" r="1.05" fill="#f6a040" fill-opacity="0.35"/>
<circle cx="206.1" cy="495.7" r="1.05" fill="#f6a040" fill-opacity="0.35"/>
<circle cx="277.3" cy="496.0" r="1.05" fill="#f6a040" fill-opacity="0.35"/>
<circle cx="277.3" cy="495.1" r="1.05" fill="#f6a040" fill-opacity="0.35"/>
<circle cx="281.2" cy="495.8" r="1.05" fill="#f6a040" fill-opacity="0.35"/>
<circle cx="280.1" cy="495.2" r="1.05" fill="#f6a040" fill-opacity="0.35"/>
<circle cx="277.7" cy="495.5" r="1.05" fill="#f6a040" fill-opacity="0.35"/>
<circle cx="277.3" cy="494.8" r="1.05" fill="#f6a040" fill-opacity="0.35"/>
<circle cx="278.6" cy="494.6" r="1.05" fill="#f6a040" fill-opacity="0.35"/>
<circle cx="298.4" cy="495.8" r="1.05" fill="#f6a040" fill-opacity="0.35"/>
<circle cx="299.7" cy="495.3" r="1.05" fill="#f6a040" fill-opacity="0.35"/>
<circle cx="299.4" cy="495.2" r="1.05" fill="#f6a040" fill-opacity="0.35"/>
<circle cx="297.2" cy="495.5" r="1.05" fill="#f6a040" fill-opacity="0.35"/>
<circle cx="298.4" cy="495.7" r="1.05" fill="#f6a040" fill-opacity="0.35"/>
<circle cx="300.6" cy="495.2" r="1.05" fill="#f6a040" fill-opacity="0.35"/>
<circle cx="299.1" cy="495.7" r="1.05" fill="#f6a040" fill-opacity="0.35"/>
<circle cx="369.6" cy="494.9" r="1.05" fill="#f6a040" fill-opacity="0.35"/>
<circle cx="370.9" cy="495.9" r="1.05" fill="#f6a040" fill-opacity="0.35"/>
<circle cx="371.2" cy="495.6" r="1.05" fill="#f6a040" fill-opacity="0.35"/>
<circle cx="371.5" cy="495.6" r="1.05" fill="#f6a040" fill-opacity="0.35"/>
<circle cx="370.6" cy="495.2" r="1.05" fill="#f6a040" fill-opacity="0.35"/>
<circle cx="369.1" cy="495.5" r="1.05" fill="#f6a040" fill-opacity="0.35"/>
<circle cx="368.2" cy="495.2" r="1.05" fill="#f6a040" fill-opacity="0.35"/>
<circle cx="391.6" cy="495.3" r="1.05" fill="#f6a040" fill-opacity="0.35"/>
<circle cx="391.0" cy="494.6" r="1.05" fill="#f6a040" fill-opacity="0.35"/>
<circle cx="390.1" cy="494.9" r="1.05" fill="#f6a040" fill-opacity="0.35"/>
<circle cx="390.9" cy="494.9" r="1.05" fill="#f6a040" fill-opacity="0.35"/>
<circle cx="391.2" cy="495.7" r="1.05" fill="#f6a040" fill-opacity="0.35"/>
<circle cx="389.0" cy="495.2" r="1.05" fill="#f6a040" fill-opacity="0.35"/>
<circle cx="391.6" cy="494.8" r="1.05" fill="#f6a040" fill-opacity="0.35"/>
<line x1="433.3" y1="448.7" x2="433.3" y2="450.6" stroke="#333" stroke-width="1"/>
<line x1="433.3" y1="455.8" x2="433.3" y2="457.7" stroke="#333" stroke-width="1"/>
<rect x="428.8" y="450.6" width="9.099999999999966" height="5.199999999999989" fill="#e8442c"/>
<line x1="428.8" y1="453.2" x2="437.9" y2="453.2" stroke="#8a1a10" stroke-width="1"/>
<line x1="433.3" y1="461.2" x2="433.3" y2="462.7" stroke="#333" stroke-width="1"/>
<line x1="433.3" y1="468.5" x2="433.3" y2="470.4" stroke="#333" stroke-width="1"/>
<rect x="428.8" y="462.7" width="9.099999999999966" height="5.800000000000011" fill="#24282d"/>
<line x1="428.8" y1="465.6" x2="437.9" y2="465.6" stroke="#000" stroke-width="1"/>
<text x="440.8" y="455.3" font-size="6.3" text-anchor="start" fill="#333" font-weight="normal" textLength="39.2" lengthAdjust="spacingAndGlyphs">Lower diversity</text>
<text x="440.8" y="467.6" font-size="6.3" text-anchor="start" fill="#333" font-weight="normal" textLength="41.1" lengthAdjust="spacingAndGlyphs">Higher diversity</text>
</svg></body></html>
